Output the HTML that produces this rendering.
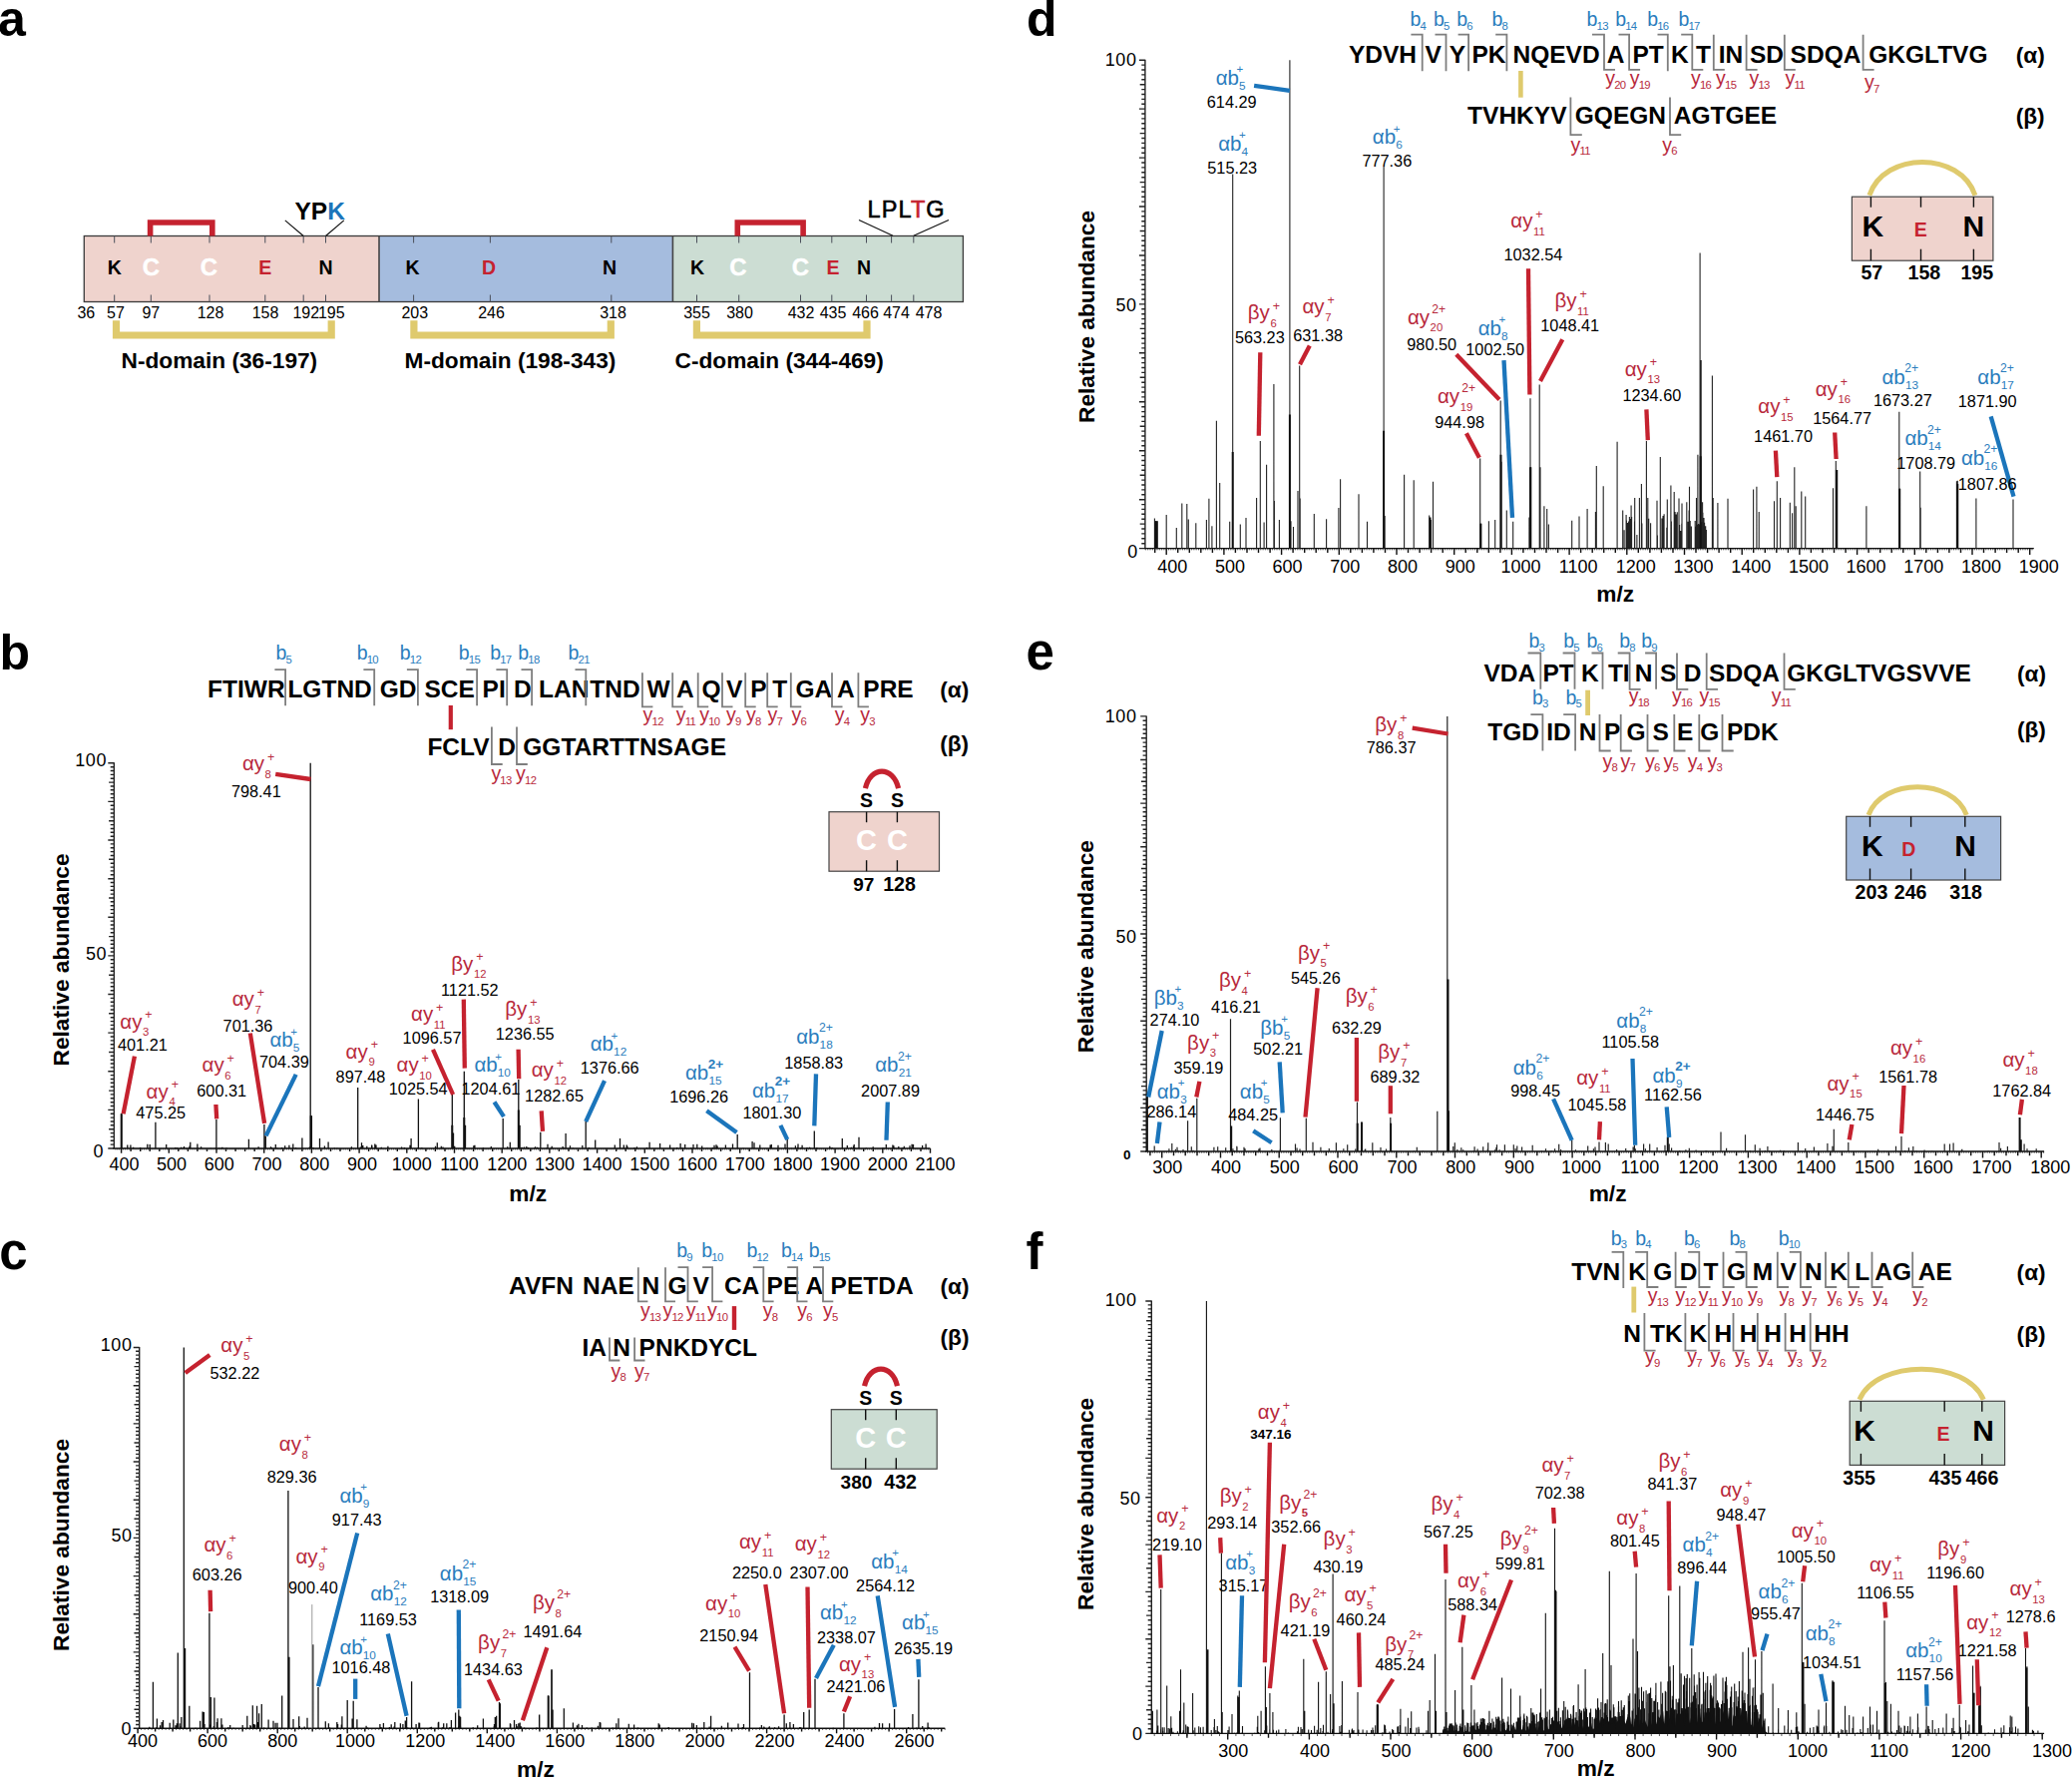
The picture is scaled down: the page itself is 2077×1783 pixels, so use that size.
<!DOCTYPE html>
<html><head><meta charset="utf-8"><title>Figure</title>
<style>html,body{margin:0;padding:0;background:#fff}svg{display:block}text{font-family:"Liberation Sans",sans-serif}</style>
</head><body>
<svg width="2077" height="1783" viewBox="0 0 2077 1783">
<rect width="2077" height="1783" fill="#fff"/>
<text x="-2" y="36.2" font-size="50" font-weight="bold">a</text>
<rect x="84.3" y="236.5" width="295.7" height="66" fill="#efd3cd"/>
<rect x="380" y="236.5" width="294.4" height="66" fill="#a5bcde"/>
<rect x="674.4" y="236.5" width="291" height="66" fill="#ccddd3"/>
<rect x="84.3" y="236.5" width="881.1" height="66" fill="none" stroke="#3a3a3a" stroke-width="1.3"/>
<line x1="380" y1="236.5" x2="380" y2="302.5" stroke="#444" stroke-width="1.6"/>
<line x1="674.4" y1="236.5" x2="674.4" y2="302.5" stroke="#444" stroke-width="1.6"/>
<path d="M114.7 236.5V243.5M114.7 295.5V302.5M151.3 236.5V243.5M151.3 295.5V302.5M210 236.5V243.5M210 295.5V302.5M265.8 236.5V243.5M265.8 295.5V302.5M304.2 236.5V243.5M304.2 295.5V302.5M326.5 236.5V243.5M326.5 295.5V302.5M414.6 236.5V243.5M414.6 295.5V302.5M491.4 236.5V243.5M491.4 295.5V302.5M612.8 236.5V243.5M612.8 295.5V302.5M698.5 236.5V243.5M698.5 295.5V302.5M740.7 236.5V243.5M740.7 295.5V302.5M802.5 236.5V243.5M802.5 295.5V302.5M833.8 236.5V243.5M833.8 295.5V302.5M868.5 236.5V243.5M868.5 295.5V302.5M893.6 236.5V243.5M893.6 295.5V302.5M915.8 236.5V243.5M915.8 295.5V302.5" stroke="#4a4f5a" stroke-width="1" fill="none"/>
<text x="86.3" y="318.8" font-size="16" text-anchor="middle">36</text>
<text x="116" y="318.8" font-size="16" text-anchor="middle">57</text>
<text x="151.3" y="318.8" font-size="16" text-anchor="middle">97</text>
<text x="211" y="318.8" font-size="16" text-anchor="middle">128</text>
<text x="266" y="318.8" font-size="16" text-anchor="middle">158</text>
<text x="306.8" y="318.8" font-size="16" text-anchor="middle">192</text>
<text x="332.3" y="318.8" font-size="16" text-anchor="middle">195</text>
<text x="415.8" y="318.8" font-size="16" text-anchor="middle">203</text>
<text x="492.5" y="318.8" font-size="16" text-anchor="middle">246</text>
<text x="614.5" y="318.8" font-size="16" text-anchor="middle">318</text>
<text x="698.5" y="318.8" font-size="16" text-anchor="middle">355</text>
<text x="741.5" y="318.8" font-size="16" text-anchor="middle">380</text>
<text x="803" y="318.8" font-size="16" text-anchor="middle">432</text>
<text x="835" y="318.8" font-size="16" text-anchor="middle">435</text>
<text x="867.5" y="318.8" font-size="16" text-anchor="middle">466</text>
<text x="898.5" y="318.8" font-size="16" text-anchor="middle">474</text>
<text x="931" y="318.8" font-size="16" text-anchor="middle">478</text>
<text x="114.7" y="275" font-size="19.5" font-weight="bold" text-anchor="middle">K</text>
<text x="265.8" y="275" font-size="19.5" font-weight="bold" fill="#c5222f" text-anchor="middle">E</text>
<text x="326.5" y="275" font-size="19.5" font-weight="bold" text-anchor="middle">N</text>
<text x="413.5" y="275" font-size="19.5" font-weight="bold" text-anchor="middle">K</text>
<text x="490" y="275" font-size="19.5" font-weight="bold" fill="#c5222f" text-anchor="middle">D</text>
<text x="611" y="275" font-size="19.5" font-weight="bold" text-anchor="middle">N</text>
<text x="699" y="275" font-size="19.5" font-weight="bold" text-anchor="middle">K</text>
<text x="835" y="275" font-size="19.5" font-weight="bold" fill="#c5222f" text-anchor="middle">E</text>
<text x="866" y="275" font-size="19.5" font-weight="bold" text-anchor="middle">N</text>
<text x="151.3" y="276.3" font-size="24" font-weight="bold" fill="#fff" text-anchor="middle" stroke="#fff" stroke-width="0.4">C</text>
<text x="209.5" y="276.3" font-size="24" font-weight="bold" fill="#fff" text-anchor="middle" stroke="#fff" stroke-width="0.4">C</text>
<text x="740" y="276.3" font-size="24" font-weight="bold" fill="#fff" text-anchor="middle" stroke="#fff" stroke-width="0.4">C</text>
<text x="802.5" y="276.3" font-size="24" font-weight="bold" fill="#fff" text-anchor="middle" stroke="#fff" stroke-width="0.4">C</text>
<path d="M150.6 236.5V223H212.8V236.5" stroke="#c5222f" stroke-width="5.6" fill="none"/>
<path d="M739.3 236.5V223H805.1V236.5" stroke="#c5222f" stroke-width="5.6" fill="none"/>
<path d="M116.5 321.3V336H332.2V321.3" stroke="#dfca6d" stroke-width="7.2" fill="none"/>
<path d="M414.9 321.3V336H612.3V321.3" stroke="#dfca6d" stroke-width="7.2" fill="none"/>
<path d="M698.4 321.3V336H869V321.3" stroke="#dfca6d" stroke-width="7.2" fill="none"/>
<text x="121.5" y="369.4" font-size="22.7" font-weight="bold">N-domain (36-197)</text>
<text x="405.5" y="369.4" font-size="22.7" font-weight="bold">M-domain (198-343)</text>
<text x="676.5" y="369.4" font-size="22.7" font-weight="bold">C-domain (344-469)</text>
<text x="295.5" y="219.6" font-size="24.5" font-weight="bold">YP<tspan fill="#1b75bb">K</tspan></text>
<line x1="285.8" y1="220.9" x2="304.2" y2="236.5" stroke="#111" stroke-width="1.2"/>
<line x1="344.8" y1="220.9" x2="326.5" y2="236.5" stroke="#111" stroke-width="1.2"/>
<text x="869.5" y="218.4" font-size="23.5" letter-spacing="1.1" stroke="#000" stroke-width="0.6">LPL<tspan fill="#c5222f" stroke="#c5222f">T</tspan>G</text>
<line x1="861" y1="220.5" x2="895" y2="236.3" stroke="#111" stroke-width="1.2"/>
<line x1="951" y1="220.5" x2="915.8" y2="236.3" stroke="#111" stroke-width="1.2"/>
<text x="-0.6" y="670.9" font-size="50" font-weight="bold">b</text>
<path d="M114.3 764.3V1151M114.3 1151H108.3M114.3 1147.1H110.7M114.3 1143.3H110.7M114.3 1139.4H110.7M114.3 1135.6H110.7M114.3 1131.7H109.1M114.3 1127.8H110.7M114.3 1124H110.7M114.3 1120.1H110.7M114.3 1116.2H110.7M114.3 1112.4H108.3M114.3 1108.5H110.7M114.3 1104.7H110.7M114.3 1100.8H110.7M114.3 1096.9H110.7M114.3 1093.1H109.1M114.3 1089.2H110.7M114.3 1085.3H110.7M114.3 1081.5H110.7M114.3 1077.6H110.7M114.3 1073.8H108.3M114.3 1069.9H110.7M114.3 1066H110.7M114.3 1062.2H110.7M114.3 1058.3H110.7M114.3 1054.5H109.1M114.3 1050.6H110.7M114.3 1046.7H110.7M114.3 1042.9H110.7M114.3 1039H110.7M114.3 1035.1H108.3M114.3 1031.3H110.7M114.3 1027.4H110.7M114.3 1023.6H110.7M114.3 1019.7H110.7M114.3 1015.8H109.1M114.3 1012H110.7M114.3 1008.1H110.7M114.3 1004.2H110.7M114.3 1000.4H110.7M114.3 996.5H108.3M114.3 992.7H110.7M114.3 988.8H110.7M114.3 984.9H110.7M114.3 981.1H110.7M114.3 977.2H109.1M114.3 973.3H110.7M114.3 969.5H110.7M114.3 965.6H110.7M114.3 961.8H110.7M114.3 957.9H108.3M114.3 954H110.7M114.3 950.2H110.7M114.3 946.3H110.7M114.3 942.5H110.7M114.3 938.6H109.1M114.3 934.7H110.7M114.3 930.9H110.7M114.3 927H110.7M114.3 923.1H110.7M114.3 919.3H108.3M114.3 915.4H110.7M114.3 911.6H110.7M114.3 907.7H110.7M114.3 903.8H110.7M114.3 900H109.1M114.3 896.1H110.7M114.3 892.2H110.7M114.3 888.4H110.7M114.3 884.5H110.7M114.3 880.7H108.3M114.3 876.8H110.7M114.3 872.9H110.7M114.3 869.1H110.7M114.3 865.2H110.7M114.3 861.3H109.1M114.3 857.5H110.7M114.3 853.6H110.7M114.3 849.8H110.7M114.3 845.9H110.7M114.3 842H108.3M114.3 838.2H110.7M114.3 834.3H110.7M114.3 830.5H110.7M114.3 826.6H110.7M114.3 822.7H109.1M114.3 818.9H110.7M114.3 815H110.7M114.3 811.1H110.7M114.3 807.3H110.7M114.3 803.4H108.3M114.3 799.6H110.7M114.3 795.7H110.7M114.3 791.8H110.7M114.3 788H110.7M114.3 784.1H109.1M114.3 780.2H110.7M114.3 776.4H110.7M114.3 772.5H110.7M114.3 768.7H110.7M114.3 764.8H108.3" stroke="#222" stroke-width="1.4" fill="none"/>
<path d="M115.9 1151V1152.5M117.8 1151V1152.5M119.7 1151V1152.5M121.6 1151V1152.5M123.5 1151V1152.5M125.4 1151V1152.5M127.3 1151V1152.5M129.2 1151V1152.5M131.1 1151V1152.5M133 1151V1152.5M135 1151V1152.5M136.9 1151V1152.5M138.8 1151V1152.5M140.7 1151V1152.5M142.6 1151V1152.5M144.5 1151V1152.5M146.4 1151V1152.5M148.3 1151V1152.5M150.2 1151V1152.5M152.1 1151V1152.5M154 1151V1152.5M155.9 1151V1152.5M157.9 1151V1152.5M159.8 1151V1152.5M161.7 1151V1152.5M163.6 1151V1152.5M165.5 1151V1152.5M167.4 1151V1152.5M169.3 1151V1152.5M171.2 1151V1152.5M173.1 1151V1152.5M175 1151V1152.5M176.9 1151V1152.5M178.8 1151V1152.5M180.7 1151V1152.5M182.7 1151V1152.5M184.6 1151V1152.5M186.5 1151V1152.5M188.4 1151V1152.5M190.3 1151V1152.5M192.2 1151V1152.5M194.1 1151V1152.5M196 1151V1152.5M197.9 1151V1152.5M199.8 1151V1152.5M201.7 1151V1152.5M203.6 1151V1152.5M205.6 1151V1152.5M207.5 1151V1152.5M209.4 1151V1152.5M211.3 1151V1152.5M213.2 1151V1152.5M215.1 1151V1152.5M217 1151V1152.5M218.9 1151V1152.5M220.8 1151V1152.5M222.7 1151V1152.5M224.6 1151V1152.5M226.5 1151V1152.5M228.4 1151V1152.5M230.4 1151V1152.5M232.3 1151V1152.5M234.2 1151V1152.5M236.1 1151V1152.5M238 1151V1152.5M239.9 1151V1152.5M241.8 1151V1152.5M243.7 1151V1152.5M245.6 1151V1152.5M247.5 1151V1152.5M249.4 1151V1152.5M251.3 1151V1152.5M253.3 1151V1152.5M255.2 1151V1152.5M257.1 1151V1152.5M259 1151V1152.5M260.9 1151V1152.5M262.8 1151V1152.5M264.7 1151V1152.5M266.6 1151V1152.5M268.5 1151V1152.5M270.4 1151V1152.5M272.3 1151V1152.5M274.2 1151V1152.5M276.1 1151V1152.5M278.1 1151V1152.5M280 1151V1152.5M281.9 1151V1152.5M283.8 1151V1152.5M285.7 1151V1152.5M287.6 1151V1152.5M289.5 1151V1152.5M291.4 1151V1152.5M293.3 1151V1152.5M295.2 1151V1152.5M297.1 1151V1152.5M299 1151V1152.5M301 1151V1152.5M302.9 1151V1152.5M304.8 1151V1152.5M306.7 1151V1152.5M308.6 1151V1152.5M310.5 1151V1152.5M312.4 1151V1152.5M314.3 1151V1152.5M316.2 1151V1152.5M318.1 1151V1152.5M320 1151V1152.5M321.9 1151V1152.5M323.8 1151V1152.5M325.8 1151V1152.5M327.7 1151V1152.5M329.6 1151V1152.5M331.5 1151V1152.5M333.4 1151V1152.5M335.3 1151V1152.5M337.2 1151V1152.5M339.1 1151V1152.5M341 1151V1152.5M342.9 1151V1152.5M344.8 1151V1152.5M346.7 1151V1152.5M348.7 1151V1152.5M350.6 1151V1152.5M352.5 1151V1152.5M354.4 1151V1152.5M356.3 1151V1152.5M358.2 1151V1152.5M360.1 1151V1152.5M362 1151V1152.5M363.9 1151V1152.5M365.8 1151V1152.5M367.7 1151V1152.5M369.6 1151V1152.5M371.5 1151V1152.5M373.5 1151V1152.5M375.4 1151V1152.5M377.3 1151V1152.5M379.2 1151V1152.5M381.1 1151V1152.5M383 1151V1152.5M384.9 1151V1152.5M386.8 1151V1152.5M388.7 1151V1152.5M390.6 1151V1152.5M392.5 1151V1152.5M394.4 1151V1152.5M396.4 1151V1152.5M398.3 1151V1152.5M400.2 1151V1152.5M402.1 1151V1152.5M404 1151V1152.5M405.9 1151V1152.5M407.8 1151V1152.5M409.7 1151V1152.5M411.6 1151V1152.5M413.5 1151V1152.5M415.4 1151V1152.5M417.3 1151V1152.5M419.2 1151V1152.5M421.2 1151V1152.5M423.1 1151V1152.5M425 1151V1152.5M426.9 1151V1152.5M428.8 1151V1152.5M430.7 1151V1152.5M432.6 1151V1152.5M434.5 1151V1152.5M436.4 1151V1152.5M438.3 1151V1152.5M440.2 1151V1152.5M442.1 1151V1152.5M444.1 1151V1152.5M446 1151V1152.5M447.9 1151V1152.5M449.8 1151V1152.5M451.7 1151V1152.5M453.6 1151V1152.5M455.5 1151V1152.5M457.4 1151V1152.5M459.3 1151V1152.5M461.2 1151V1152.5M463.1 1151V1152.5M465 1151V1152.5M466.9 1151V1152.5M468.9 1151V1152.5M470.8 1151V1152.5M472.7 1151V1152.5M474.6 1151V1152.5M476.5 1151V1152.5M478.4 1151V1152.5M480.3 1151V1152.5M482.2 1151V1152.5M484.1 1151V1152.5M486 1151V1152.5M487.9 1151V1152.5M489.8 1151V1152.5M491.8 1151V1152.5M493.7 1151V1152.5M495.6 1151V1152.5M497.5 1151V1152.5M499.4 1151V1152.5M501.3 1151V1152.5M503.2 1151V1152.5M505.1 1151V1152.5M507 1151V1152.5M508.9 1151V1152.5M510.8 1151V1152.5M512.7 1151V1152.5M514.6 1151V1152.5M516.6 1151V1152.5M518.5 1151V1152.5M520.4 1151V1152.5M522.3 1151V1152.5M524.2 1151V1152.5M526.1 1151V1152.5M528 1151V1152.5M529.9 1151V1152.5M531.8 1151V1152.5M533.7 1151V1152.5M535.6 1151V1152.5M537.5 1151V1152.5M539.5 1151V1152.5M541.4 1151V1152.5M543.3 1151V1152.5M545.2 1151V1152.5M547.1 1151V1152.5M549 1151V1152.5M550.9 1151V1152.5M552.8 1151V1152.5M554.7 1151V1152.5M556.6 1151V1152.5M558.5 1151V1152.5M560.4 1151V1152.5M562.3 1151V1152.5M564.3 1151V1152.5M566.2 1151V1152.5M568.1 1151V1152.5M570 1151V1152.5M571.9 1151V1152.5M573.8 1151V1152.5M575.7 1151V1152.5M577.6 1151V1152.5M579.5 1151V1152.5M581.4 1151V1152.5M583.3 1151V1152.5M585.2 1151V1152.5M587.2 1151V1152.5M589.1 1151V1152.5M591 1151V1152.5M592.9 1151V1152.5M594.8 1151V1152.5M596.7 1151V1152.5M598.6 1151V1152.5M600.5 1151V1152.5M602.4 1151V1152.5M604.3 1151V1152.5M606.2 1151V1152.5M608.1 1151V1152.5M610 1151V1152.5M612 1151V1152.5M613.9 1151V1152.5M615.8 1151V1152.5M617.7 1151V1152.5M619.6 1151V1152.5M621.5 1151V1152.5M623.4 1151V1152.5M625.3 1151V1152.5M627.2 1151V1152.5M629.1 1151V1152.5M631 1151V1152.5M632.9 1151V1152.5M634.9 1151V1152.5M636.8 1151V1152.5M638.7 1151V1152.5M640.6 1151V1152.5M642.5 1151V1152.5M644.4 1151V1152.5M646.3 1151V1152.5M648.2 1151V1152.5M650.1 1151V1152.5M652 1151V1152.5M653.9 1151V1152.5M655.8 1151V1152.5M657.7 1151V1152.5M659.7 1151V1152.5M661.6 1151V1152.5M663.5 1151V1152.5M665.4 1151V1152.5M667.3 1151V1152.5M669.2 1151V1152.5M671.1 1151V1152.5M673 1151V1152.5M674.9 1151V1152.5M676.8 1151V1152.5M678.7 1151V1152.5M680.6 1151V1152.5M682.6 1151V1152.5M684.5 1151V1152.5M686.4 1151V1152.5M688.3 1151V1152.5M690.2 1151V1152.5M692.1 1151V1152.5M694 1151V1152.5M695.9 1151V1152.5M697.8 1151V1152.5M699.7 1151V1152.5M701.6 1151V1152.5M703.5 1151V1152.5M705.4 1151V1152.5M707.4 1151V1152.5M709.3 1151V1152.5M711.2 1151V1152.5M713.1 1151V1152.5M715 1151V1152.5M716.9 1151V1152.5M718.8 1151V1152.5M720.7 1151V1152.5M722.6 1151V1152.5M724.5 1151V1152.5M726.4 1151V1152.5M728.3 1151V1152.5M730.3 1151V1152.5M732.2 1151V1152.5M734.1 1151V1152.5M736 1151V1152.5M737.9 1151V1152.5M739.8 1151V1152.5M741.7 1151V1152.5M743.6 1151V1152.5M745.5 1151V1152.5M747.4 1151V1152.5M749.3 1151V1152.5M751.2 1151V1152.5M753.1 1151V1152.5M755.1 1151V1152.5M757 1151V1152.5M758.9 1151V1152.5M760.8 1151V1152.5M762.7 1151V1152.5M764.6 1151V1152.5M766.5 1151V1152.5M768.4 1151V1152.5M770.3 1151V1152.5M772.2 1151V1152.5M774.1 1151V1152.5M776 1151V1152.5M778 1151V1152.5M779.9 1151V1152.5M781.8 1151V1152.5M783.7 1151V1152.5M785.6 1151V1152.5M787.5 1151V1152.5M789.4 1151V1152.5M791.3 1151V1152.5M793.2 1151V1152.5M795.1 1151V1152.5M797 1151V1152.5M798.9 1151V1152.5M800.8 1151V1152.5M802.8 1151V1152.5M804.7 1151V1152.5M806.6 1151V1152.5M808.5 1151V1152.5M810.4 1151V1152.5M812.3 1151V1152.5M814.2 1151V1152.5M816.1 1151V1152.5M818 1151V1152.5M819.9 1151V1152.5M821.8 1151V1152.5M823.7 1151V1152.5M825.7 1151V1152.5M827.6 1151V1152.5M829.5 1151V1152.5M831.4 1151V1152.5M833.3 1151V1152.5M835.2 1151V1152.5M837.1 1151V1152.5M839 1151V1152.5M840.9 1151V1152.5M842.8 1151V1152.5M844.7 1151V1152.5M846.6 1151V1152.5M848.5 1151V1152.5M850.5 1151V1152.5M852.4 1151V1152.5M854.3 1151V1152.5M856.2 1151V1152.5M858.1 1151V1152.5M860 1151V1152.5M861.9 1151V1152.5M863.8 1151V1152.5M865.7 1151V1152.5M867.6 1151V1152.5M869.5 1151V1152.5M871.4 1151V1152.5M873.4 1151V1152.5M875.3 1151V1152.5M877.2 1151V1152.5M879.1 1151V1152.5M881 1151V1152.5M882.9 1151V1152.5M884.8 1151V1152.5M886.7 1151V1152.5M888.6 1151V1152.5M890.5 1151V1152.5M892.4 1151V1152.5M894.3 1151V1152.5M896.2 1151V1152.5M898.2 1151V1152.5M900.1 1151V1152.5M902 1151V1152.5M903.9 1151V1152.5M905.8 1151V1152.5M907.7 1151V1152.5M909.6 1151V1152.5M911.5 1151V1152.5M913.4 1151V1152.5M915.3 1151V1152.5M917.2 1151V1152.5M919.1 1151V1152.5M921.1 1151V1152.5M923 1151V1152.5M924.9 1151V1152.5M926.8 1151V1152.5M928.7 1151V1152.5M930.6 1151V1152.5M932.5 1151V1152.5" stroke="#333" stroke-width="0.8" fill="none"/>
<path d="M113.3 1151H932.5M121.6 1151V1155.8M131.1 1151V1154M140.7 1151V1154M150.2 1151V1154M159.8 1151V1154M169.3 1151V1155.8M178.8 1151V1154M188.4 1151V1154M197.9 1151V1154M207.5 1151V1154M217 1151V1155.8M226.5 1151V1154M236.1 1151V1154M245.6 1151V1154M255.2 1151V1154M264.7 1151V1155.8M274.2 1151V1154M283.8 1151V1154M293.3 1151V1154M302.9 1151V1154M312.4 1151V1155.8M321.9 1151V1154M331.5 1151V1154M341 1151V1154M350.6 1151V1154M360.1 1151V1155.8M369.6 1151V1154M379.2 1151V1154M388.7 1151V1154M398.3 1151V1154M407.8 1151V1155.8M417.3 1151V1154M426.9 1151V1154M436.4 1151V1154M446 1151V1154M455.5 1151V1155.8M465 1151V1154M474.6 1151V1154M484.1 1151V1154M493.7 1151V1154M503.2 1151V1155.8M512.7 1151V1154M522.3 1151V1154M531.8 1151V1154M541.4 1151V1154M550.9 1151V1155.8M560.4 1151V1154M570 1151V1154M579.5 1151V1154M589.1 1151V1154M598.6 1151V1155.8M608.1 1151V1154M617.7 1151V1154M627.2 1151V1154M636.8 1151V1154M646.3 1151V1155.8M655.8 1151V1154M665.4 1151V1154M674.9 1151V1154M684.5 1151V1154M694 1151V1155.8M703.5 1151V1154M713.1 1151V1154M722.6 1151V1154M732.2 1151V1154M741.7 1151V1155.8M751.2 1151V1154M760.8 1151V1154M770.3 1151V1154M779.9 1151V1154M789.4 1151V1155.8M798.9 1151V1154M808.5 1151V1154M818 1151V1154M827.6 1151V1154M837.1 1151V1155.8M846.6 1151V1154M856.2 1151V1154M865.7 1151V1154M875.3 1151V1154M884.8 1151V1155.8M894.3 1151V1154M903.9 1151V1154M913.4 1151V1154M923 1151V1154M932.5 1151V1155.8" stroke="#111" stroke-width="1.4" fill="none"/>
<text x="124.4" y="1172.8" font-size="18" text-anchor="middle">400</text>
<text x="172.1" y="1172.8" font-size="18" text-anchor="middle">500</text>
<text x="219.8" y="1172.8" font-size="18" text-anchor="middle">600</text>
<text x="267.5" y="1172.8" font-size="18" text-anchor="middle">700</text>
<text x="315.2" y="1172.8" font-size="18" text-anchor="middle">800</text>
<text x="362.9" y="1172.8" font-size="18" text-anchor="middle">900</text>
<text x="412.8" y="1172.8" font-size="18" text-anchor="middle">1000</text>
<text x="460.5" y="1172.8" font-size="18" text-anchor="middle">1100</text>
<text x="508.2" y="1172.8" font-size="18" text-anchor="middle">1200</text>
<text x="555.9" y="1172.8" font-size="18" text-anchor="middle">1300</text>
<text x="603.6" y="1172.8" font-size="18" text-anchor="middle">1400</text>
<text x="651.3" y="1172.8" font-size="18" text-anchor="middle">1500</text>
<text x="699" y="1172.8" font-size="18" text-anchor="middle">1600</text>
<text x="746.7" y="1172.8" font-size="18" text-anchor="middle">1700</text>
<text x="794.4" y="1172.8" font-size="18" text-anchor="middle">1800</text>
<text x="842.1" y="1172.8" font-size="18" text-anchor="middle">1900</text>
<text x="889.8" y="1172.8" font-size="18" text-anchor="middle">2000</text>
<text x="937.5" y="1172.8" font-size="18" text-anchor="middle">2100</text>
<text x="107.3" y="768" font-size="18" text-anchor="end" letter-spacing="0.7">100</text>
<text x="107.3" y="961.6" font-size="18" text-anchor="end" letter-spacing="0.7">50</text>
<text x="103.5" y="1160.3" font-size="18" text-anchor="end">0</text>
<text transform="translate(69,1068.5) rotate(-90)" font-size="22.7" font-weight="bold">Relative abundance</text>
<text x="510.3" y="1203.6" font-size="22.7" font-weight="bold">m/z</text>
<path d="M311.2 1151V764.8M121.7 1151V1116.2M155.9 1151V1124.7M216.9 1151V1122M264.9 1151V1127.1M266.3 1151V1138.6M358.7 1151V1090M412.1 1151V1141M419.4 1151V1101.6M438.3 1151V1145.2M453.3 1151V1095.4M454.5 1151V1135.6M465.3 1151V1073.8M466.5 1151V1127.8M504.2 1151V1120.9M511.3 1151V1144.8M519.8 1151V1081.9M521.1 1151V1127.8M541.8 1151V1134.8M567.1 1151V1135.9M587.2 1151V1124M596.7 1151V1142.5M621.5 1151V1141M628.2 1151V1147.5M651.1 1151V1144.8M661.6 1151V1146M698.8 1151V1146.8M739.2 1151V1137.1M754.1 1151V1144M756 1151V1145.2M789.2 1151V1142.1M787 1151V1146.4M816.3 1151V1133.6M844.3 1151V1141M861 1151V1139.8M856.2 1151V1147.1M888.3 1151V1147.1M912 1151V1148.3M190.8 1151V1144.8M249.4 1151V1141.7M302.9 1151V1140.6M312.4 1151V1118.2M320.5 1151V1141M329.1 1151V1144.4M127.8 1151V1147.5M147.8 1151V1146.8M150.2 1151V1147.1M362.5 1151V1145.2M549 1151V1146.8M727.4 1151V1147.5M734.5 1151V1146.4M682.1 1151V1146M484.4 1151V1150.2M868.3 1151V1150.5M529.5 1151V1150.1M266.6 1151V1150.4M628.8 1151V1148.8M192.9 1151V1150.9M190.1 1151V1148.6M680.6 1151V1151M915.5 1151V1147M648.4 1151V1150M244.5 1151V1151M546.2 1151V1151M271.1 1151V1150.9M140.8 1151V1150.6M474.8 1151V1148.3M538.7 1151V1149.8M523 1151V1149.7M488.4 1151V1150.9M928.1 1151V1146.6M800 1151V1149.4M372.8 1151V1150.9M351.5 1151V1151M739.8 1151V1150.7M805.2 1151V1150.7M895.9 1151V1148.3M116.7 1151V1151M857 1151V1150.5M914 1151V1150.7M175.7 1151V1149.9M749.8 1151V1150.9M187.2 1151V1150.8M900.8 1151V1149M212.3 1151V1150.9M198.5 1151V1151M764.8 1151V1151M571.4 1151V1150.6M271.5 1151V1149.2M222.9 1151V1149.8M211.1 1151V1150.7M289.5 1151V1150.9M906.3 1151V1148.7M363.8 1151V1147.9M287.8 1151V1150.7M811.5 1151V1149.8M197.9 1151V1146.6M289.8 1151V1150.9M745 1151V1150.8M357.4 1151V1151M189.6 1151V1150.1M314 1151V1150M418.8 1151V1150.6M896.7 1151V1150.5M583.8 1151V1148.1M265.1 1151V1151M855.5 1151V1148.5M319.3 1151V1151M718 1151V1147.3M276.3 1151V1147.1M834.1 1151V1150M459.2 1151V1151M147.8 1151V1147M310.3 1151V1149.4M325.4 1151V1148.5M601.6 1151V1150.9M259.1 1151V1149.3M172.3 1151V1150.9M571.5 1151V1148.2M616.2 1151V1150.9M862.8 1151V1151M129.8 1151V1150.9M479 1151V1151M259.7 1151V1150.8M581.9 1151V1151M411 1151V1147.8M914.1 1151V1149.7M678.7 1151V1150.1M230.5 1151V1151M130.9 1151V1147.6M686.7 1151V1147M133.6 1151V1149.8M508.7 1151V1149.2M375.8 1151V1146.5M177.5 1151V1150.3M716 1151V1147.7M716.1 1151V1149.4M761.8 1151V1147.6M402.6 1151V1149.6M849.3 1151V1148M455.7 1151V1148.8M818.9 1151V1150.2M624.8 1151V1150.7M590.4 1151V1150M181.6 1151V1149.8M924.6 1151V1147.9M708.8 1151V1150.7M714.4 1151V1150.1M474.8 1151V1148.3M184.5 1151V1149.1M140.5 1151V1150M507.7 1151V1150.9M684.5 1151V1150.4M616.3 1151V1147.5M324.5 1151V1151M361.3 1151V1149.6M281.1 1151V1151M853.3 1151V1149.7M475.9 1151V1147.8M382.3 1151V1149.7M277.8 1151V1150.6M772.1 1151V1147.6M832.6 1151V1150.7M590.8 1151V1150.9M227.1 1151V1150.4M797.4 1151V1148.2M695 1151V1147.1M341.5 1151V1151M483 1151V1150.9M290.5 1151V1150.7M625.5 1151V1150.5M372.9 1151V1148.3M915.4 1151V1150.6M177.1 1151V1151M826.5 1151V1151M692.9 1151V1150.2M367.8 1151V1148.8M131.9 1151V1151M486.4 1151V1151M791.4 1151V1150.9M230.9 1151V1151M628.3 1151V1150.6M628.9 1151V1149.7M773.3 1151V1147M673.3 1151V1151M502.9 1151V1151M125.1 1151V1150.5M697.4 1151V1151M337.9 1151V1150.8M683.7 1151V1150.4M616.3 1151V1149.1M436.5 1151V1148.8M853.7 1151V1151M875.2 1151V1149.3M222 1151V1150.6M625.3 1151V1147.6M422.9 1151V1150.2M831.8 1151V1148.7M884.6 1151V1150.6M646.3 1151V1151M703.7 1151V1148.5M638.4 1151V1149.3M289.9 1151V1147.7M914.1 1151V1146.8M553.2 1151V1148.8M377 1151V1147.6M812.7 1151V1150.8M183.7 1151V1150.6M564.1 1151V1149M512.9 1151V1151M774.7 1151V1151M767.1 1151V1151M388.9 1151V1148.8M230.6 1151V1151M536.6 1151V1149.3M799.8 1151V1149.5M885.9 1151V1150.5M888.6 1151V1151M296.5 1151V1150.3M352.4 1151V1149.3M636.1 1151V1150.4M802.8 1151V1150.2M369.9 1151V1150.8M804.1 1151V1147.7M285.7 1151V1148.2M904.3 1151V1150.4M582.5 1151V1151M552.4 1151V1150.4M608.8 1151V1151M905.1 1151V1150.4M442.3 1151V1148.7M574.3 1151V1150.5M678.6 1151V1151M554.7 1151V1150.7M894.9 1151V1147.5M335.4 1151V1150.5M219.6 1151V1150.6M780 1151V1147.7M504.1 1151V1150.9M272.1 1151V1149.9M869.2 1151V1151M750.4 1151V1151M274.2 1151V1150.9M675.3 1151V1150.8M405.4 1151V1149.9M201.6 1151V1149.2M216.2 1151V1150.4M320.2 1151V1151M547.8 1151V1150.6M422 1151V1150.7M547 1151V1151M282.5 1151V1149.9M635.8 1151V1150.3M809 1151V1150M813.4 1151V1150.9M719.1 1151V1148.6M850.8 1151V1150.9M372.6 1151V1147.5M293.8 1151V1146.5M838.5 1151V1151M311.1 1151V1149.3M327.5 1151V1151M793.4 1151V1150.7M759.1 1151V1151M444 1151V1149.6M130.8 1151V1151M671.6 1151V1147.6M904.3 1151V1151M527.8 1151V1149M525.4 1151V1149.5M270.1 1151V1151M202.7 1151V1151M565.2 1151V1150.4M579.1 1151V1151M266.5 1151V1151M800 1151V1146.6M870.5 1151V1151M166.7 1151V1147.1M492.3 1151V1149M382.2 1151V1150.5M535.6 1151V1150.6M605.3 1151V1151" stroke="#111" stroke-width="1.3" fill="none"/>
<path d="M121.7 1151V1116.2M311.7 1151V1118.2M519.8 1151V1112.4M465.3 1151V1120.1M453.3 1151V1127.8" stroke="#111" stroke-width="2" fill="none"/>
<text x="120.3" y="1030.5" font-size="20.5" fill="#b8293c">αy</text>
<text x="143" y="1038.1" font-size="11.3" fill="#b8293c">3</text>
<text x="145.3" y="1021.1" font-size="12.5" fill="#b8293c">+</text>
<text x="118" y="1053" font-size="16.3">401.21</text>
<line x1="134.9" y1="1058.6" x2="123.6" y2="1116.3" stroke="#c5222f" stroke-width="4.3"/>
<text x="146.6" y="1100.8" font-size="20.5" fill="#b8293c">αy</text>
<text x="169.4" y="1108.4" font-size="11.3" fill="#b8293c">4</text>
<text x="171.7" y="1091.4" font-size="12.5" fill="#b8293c">+</text>
<text x="136.3" y="1121.2" font-size="16.3">475.25</text>
<text x="202.6" y="1074.4" font-size="20.5" fill="#b8293c">αy</text>
<text x="225.3" y="1082" font-size="11.3" fill="#b8293c">6</text>
<text x="227.6" y="1065" font-size="12.5" fill="#b8293c">+</text>
<text x="197.3" y="1098.6" font-size="16.3">600.31</text>
<line x1="216.4" y1="1107" x2="217.2" y2="1121.3" stroke="#c5222f" stroke-width="4.3"/>
<text x="232.7" y="1008.4" font-size="20.5" fill="#b8293c">αy</text>
<text x="255.4" y="1016" font-size="11.3" fill="#b8293c">7</text>
<text x="257.7" y="999" font-size="12.5" fill="#b8293c">+</text>
<text x="223.6" y="1033.9" font-size="16.3">701.36</text>
<line x1="250.8" y1="1035.5" x2="265.1" y2="1125.8" stroke="#c5222f" stroke-width="4.3"/>
<text x="270.4" y="1049.3" font-size="20.5" fill="#2b7dbd">αb</text>
<text x="293.8" y="1054.3" font-size="11.8" fill="#2b7dbd">5</text>
<text x="291.3" y="1037.8" font-size="11.5" fill="#2b7dbd">+</text>
<text x="260" y="1069.8" font-size="16.3">704.39</text>
<line x1="296.7" y1="1076.9" x2="266.6" y2="1138.4" stroke="#1b75bb" stroke-width="4.3"/>
<text x="346.6" y="1060.6" font-size="20.5" fill="#b8293c">αy</text>
<text x="369.4" y="1068.2" font-size="11.3" fill="#b8293c">9</text>
<text x="371.7" y="1051.2" font-size="12.5" fill="#b8293c">+</text>
<text x="336.6" y="1084.8" font-size="16.3">897.48</text>
<text x="397.6" y="1074.4" font-size="20.5" fill="#b8293c">αy</text>
<text x="420.3" y="1082" font-size="11.3" fill="#b8293c">10</text>
<text x="422.6" y="1065" font-size="12.5" fill="#b8293c">+</text>
<text x="389.8" y="1097.4" font-size="16.3">1025.54</text>
<text x="412.1" y="1023" font-size="20.5" fill="#b8293c">αy</text>
<text x="434.8" y="1030.6" font-size="11.3" fill="#b8293c">11</text>
<text x="437.1" y="1013.6" font-size="12.5" fill="#b8293c">+</text>
<text x="403.6" y="1045.9" font-size="16.3">1096.57</text>
<line x1="434" y1="1051.8" x2="454.1" y2="1097" stroke="#c5222f" stroke-width="4.3"/>
<text x="452.3" y="972.8" font-size="20.5" fill="#b8293c">βy</text>
<text x="474.9" y="980.4" font-size="11.3" fill="#b8293c">12</text>
<text x="477.2" y="963.4" font-size="12.5" fill="#b8293c">+</text>
<text x="442" y="997.8" font-size="16.3">1121.52</text>
<line x1="464.8" y1="1001.6" x2="465.8" y2="1070.6" stroke="#c5222f" stroke-width="4.3"/>
<text x="475.4" y="1074.4" font-size="20.5" fill="#2b7dbd">αb</text>
<text x="498.8" y="1079.4" font-size="11.8" fill="#2b7dbd">10</text>
<text x="496.3" y="1062.9" font-size="11.5" fill="#2b7dbd">+</text>
<text x="462.5" y="1097.4" font-size="16.3">1204.61</text>
<line x1="495.5" y1="1104.5" x2="505" y2="1119.1" stroke="#1b75bb" stroke-width="4.3"/>
<text x="506.3" y="1018.4" font-size="20.5" fill="#b8293c">βy</text>
<text x="529" y="1026" font-size="11.3" fill="#b8293c">13</text>
<text x="531.3" y="1009" font-size="12.5" fill="#b8293c">+</text>
<text x="496.8" y="1042.2" font-size="16.3">1236.55</text>
<line x1="519.6" y1="1051.8" x2="520.2" y2="1081.2" stroke="#c5222f" stroke-width="4.3"/>
<text x="532.7" y="1079.4" font-size="20.5" fill="#b8293c">αy</text>
<text x="555.4" y="1087" font-size="11.3" fill="#b8293c">12</text>
<text x="557.7" y="1070" font-size="12.5" fill="#b8293c">+</text>
<text x="526.1" y="1103.7" font-size="16.3">1282.65</text>
<line x1="542.7" y1="1113.3" x2="544" y2="1133.9" stroke="#c5222f" stroke-width="4.3"/>
<text x="591.7" y="1053.1" font-size="20.5" fill="#2b7dbd">αb</text>
<text x="615.1" y="1058.1" font-size="11.8" fill="#2b7dbd">12</text>
<text x="612.6" y="1041.6" font-size="11.5" fill="#2b7dbd">+</text>
<text x="581.8" y="1075.6" font-size="16.3">1376.66</text>
<line x1="606" y1="1083.2" x2="587.2" y2="1124.1" stroke="#1b75bb" stroke-width="4.3"/>
<text x="687" y="1081.9" font-size="20.5" fill="#2b7dbd">αb</text>
<text x="710.5" y="1086.9" font-size="11.8" fill="#2b7dbd">15</text>
<text x="709.8" y="1070.5" font-size="13.5" font-weight="bold" fill="#2b7dbd">2+</text>
<text x="671.2" y="1104.9" font-size="16.3">1696.26</text>
<line x1="708.4" y1="1113.3" x2="738.5" y2="1135.1" stroke="#1b75bb" stroke-width="4.3"/>
<text x="754" y="1099.5" font-size="20.5" fill="#2b7dbd">αb</text>
<text x="777.5" y="1104.5" font-size="11.8" fill="#2b7dbd">17</text>
<text x="776.8" y="1088.1" font-size="13.5" font-weight="bold" fill="#2b7dbd">2+</text>
<text x="744.4" y="1121.2" font-size="16.3">1801.30</text>
<line x1="782.4" y1="1127.9" x2="789.2" y2="1142.2" stroke="#1b75bb" stroke-width="4.3"/>
<text x="798.2" y="1045.5" font-size="20.5" fill="#2b7dbd">αb</text>
<text x="821.6" y="1050.5" font-size="11.8" fill="#2b7dbd">18</text>
<text x="820.9" y="1034.1" font-size="12.2" fill="#2b7dbd">2+</text>
<text x="786.3" y="1071" font-size="16.3">1858.83</text>
<line x1="818" y1="1076.4" x2="816.3" y2="1128.4" stroke="#1b75bb" stroke-width="4.3"/>
<text x="877.2" y="1074.4" font-size="20.5" fill="#2b7dbd">αb</text>
<text x="900.7" y="1079.4" font-size="11.8" fill="#2b7dbd">21</text>
<text x="900" y="1063" font-size="12.2" fill="#2b7dbd">2+</text>
<text x="863.1" y="1098.6" font-size="16.3">2007.89</text>
<line x1="889.8" y1="1104.5" x2="888.5" y2="1142.7" stroke="#1b75bb" stroke-width="4.3"/>
<text x="242.9" y="772" font-size="20.5" fill="#b8293c">αy</text>
<text x="265.6" y="779.6" font-size="11.3" fill="#b8293c">8</text>
<text x="267.9" y="762.6" font-size="12.5" fill="#b8293c">+</text>
<text x="231.9" y="798.5" font-size="16.3">798.41</text>
<line x1="276.2" y1="775.9" x2="311.4" y2="781" stroke="#c5222f" stroke-width="4.3"/>
<text x="208.1" y="699" font-size="24.5" font-weight="bold">FTIWR</text>
<text x="288.4" y="699" font-size="24.5" font-weight="bold">LGTND</text>
<text x="380.8" y="699" font-size="24.5" font-weight="bold">GD</text>
<text x="425.4" y="699" font-size="24.5" font-weight="bold">SCE</text>
<text x="483.6" y="699" font-size="24.5" font-weight="bold">PI</text>
<text x="515" y="699" font-size="24.5" font-weight="bold">D</text>
<text x="540.1" y="699" font-size="24.5" font-weight="bold">LAN</text>
<text x="591.3" y="699" font-size="24.5" font-weight="bold">TND</text>
<text x="648.5" y="699" font-size="24.5" font-weight="bold">W</text>
<text x="678.1" y="699" font-size="24.5" font-weight="bold">A</text>
<text x="703.6" y="699" font-size="24.5" font-weight="bold">Q</text>
<text x="727.9" y="699" font-size="24.5" font-weight="bold">V</text>
<text x="752.3" y="699" font-size="24.5" font-weight="bold">P</text>
<text x="774.3" y="699" font-size="24.5" font-weight="bold">T</text>
<text x="797.4" y="699" font-size="24.5" font-weight="bold">GA</text>
<text x="839.1" y="699" font-size="24.5" font-weight="bold">A</text>
<text x="865.3" y="699" font-size="24.5" font-weight="bold">PRE</text>
<path d="M275.4 671.2H286.1V707.3" stroke="#7e7e7e" stroke-width="1.8" fill="none"/>
<path d="M364.4 671.2H375.2V707.3" stroke="#7e7e7e" stroke-width="1.8" fill="none"/>
<path d="M407.9 671.2H418.9V707.3" stroke="#7e7e7e" stroke-width="1.8" fill="none"/>
<path d="M467.3 671.2H478.1V707.3" stroke="#7e7e7e" stroke-width="1.8" fill="none"/>
<path d="M497.4 671.2H508.2V707.3" stroke="#7e7e7e" stroke-width="1.8" fill="none"/>
<path d="M522.5 671.2H533.1V707.3" stroke="#7e7e7e" stroke-width="1.8" fill="none"/>
<path d="M576.5 671.2H587.3V707.3" stroke="#7e7e7e" stroke-width="1.8" fill="none"/>
<path d="M643.9 674.2V708.3H654.4" stroke="#7e7e7e" stroke-width="1.8" fill="none"/>
<path d="M674.2 674.2V708.3H684.7" stroke="#7e7e7e" stroke-width="1.8" fill="none"/>
<path d="M699.7 674.2V708.3H710.2" stroke="#7e7e7e" stroke-width="1.8" fill="none"/>
<path d="M724 674.2V708.3H734.5" stroke="#7e7e7e" stroke-width="1.8" fill="none"/>
<path d="M747.2 674.2V708.3H757.7" stroke="#7e7e7e" stroke-width="1.8" fill="none"/>
<path d="M769.2 674.2V708.3H779.7" stroke="#7e7e7e" stroke-width="1.8" fill="none"/>
<path d="M792.8 674.2V708.3H803.3" stroke="#7e7e7e" stroke-width="1.8" fill="none"/>
<path d="M834 674.2V708.3H844.5" stroke="#7e7e7e" stroke-width="1.8" fill="none"/>
<path d="M860.4 674.2V708.3H870.9" stroke="#7e7e7e" stroke-width="1.8" fill="none"/>
<text x="276.6" y="661.4" font-size="19.5" fill="#2b7dbd">b</text>
<text x="286.6" y="665" font-size="11.3" fill="#2b7dbd" letter-spacing="-0.6">5</text>
<text x="357.7" y="661.4" font-size="19.5" fill="#2b7dbd">b</text>
<text x="367.7" y="665" font-size="11.3" fill="#2b7dbd" letter-spacing="-0.6">10</text>
<text x="400.8" y="661.4" font-size="19.5" fill="#2b7dbd">b</text>
<text x="410.8" y="665" font-size="11.3" fill="#2b7dbd" letter-spacing="-0.6">12</text>
<text x="459.8" y="661.4" font-size="19.5" fill="#2b7dbd">b</text>
<text x="469.8" y="665" font-size="11.3" fill="#2b7dbd" letter-spacing="-0.6">15</text>
<text x="491.2" y="661.4" font-size="19.5" fill="#2b7dbd">b</text>
<text x="501.2" y="665" font-size="11.3" fill="#2b7dbd" letter-spacing="-0.6">17</text>
<text x="519.3" y="661.4" font-size="19.5" fill="#2b7dbd">b</text>
<text x="529.3" y="665" font-size="11.3" fill="#2b7dbd" letter-spacing="-0.6">18</text>
<text x="569.5" y="661.4" font-size="19.5" fill="#2b7dbd">b</text>
<text x="579.5" y="665" font-size="11.3" fill="#2b7dbd" letter-spacing="-0.6">21</text>
<text x="644.6" y="723.3" font-size="19.5" fill="#b8293c">y</text>
<text x="653.6" y="726.9" font-size="11.3" fill="#b8293c" letter-spacing="-0.6">12</text>
<text x="677.7" y="723.3" font-size="19.5" fill="#b8293c">y</text>
<text x="686.7" y="726.9" font-size="11.3" fill="#b8293c" letter-spacing="-0.6">11</text>
<text x="701.3" y="723.3" font-size="19.5" fill="#b8293c">y</text>
<text x="710.2" y="726.9" font-size="11.3" fill="#b8293c" letter-spacing="-0.6">10</text>
<text x="728" y="723.3" font-size="19.5" fill="#b8293c">y</text>
<text x="737" y="726.9" font-size="11.3" fill="#b8293c" letter-spacing="-0.6">9</text>
<text x="748" y="723.3" font-size="19.5" fill="#b8293c">y</text>
<text x="757" y="726.9" font-size="11.3" fill="#b8293c" letter-spacing="-0.6">8</text>
<text x="769.6" y="723.3" font-size="19.5" fill="#b8293c">y</text>
<text x="778.6" y="726.9" font-size="11.3" fill="#b8293c" letter-spacing="-0.6">7</text>
<text x="793.5" y="723.3" font-size="19.5" fill="#b8293c">y</text>
<text x="802.5" y="726.9" font-size="11.3" fill="#b8293c" letter-spacing="-0.6">6</text>
<text x="836.8" y="723.3" font-size="19.5" fill="#b8293c">y</text>
<text x="845.8" y="726.9" font-size="11.3" fill="#b8293c" letter-spacing="-0.6">4</text>
<text x="862.3" y="723.3" font-size="19.5" fill="#b8293c">y</text>
<text x="871.2" y="726.9" font-size="11.3" fill="#b8293c" letter-spacing="-0.6">3</text>
<line x1="451.8" y1="707" x2="451.8" y2="731.2" stroke="#c5222f" stroke-width="4.2"/>
<text x="428.4" y="756.8" font-size="24.5" font-weight="bold">FCLV</text>
<text x="499.2" y="756.8" font-size="24.5" font-weight="bold">D</text>
<text x="524.3" y="756.8" font-size="24.5" font-weight="bold">GGTARTTNSAGE</text>
<path d="M492.9 728.4V766H503.7" stroke="#7e7e7e" stroke-width="1.8" fill="none"/>
<path d="M518 728.4V766H528.8" stroke="#7e7e7e" stroke-width="1.8" fill="none"/>
<text x="492.4" y="781.9" font-size="19.5" fill="#b8293c">y</text>
<text x="501.3" y="785.5" font-size="11.3" fill="#b8293c" letter-spacing="-0.6">13</text>
<text x="517" y="781.9" font-size="19.5" fill="#b8293c">y</text>
<text x="526" y="785.5" font-size="11.3" fill="#b8293c" letter-spacing="-0.6">12</text>
<text x="942.2" y="698.8" font-size="22.7" font-weight="bold">(α)</text>
<text x="942.2" y="753.2" font-size="22.7" font-weight="bold">(β)</text>
<rect x="831" y="813.7" width="110.5" height="59.5" fill="#efd3cd" stroke="#444" stroke-width="1.2"/>
<line x1="868.6" y1="813.7" x2="868.6" y2="824.2" stroke="#111" stroke-width="1.4"/>
<line x1="868.6" y1="862.2" x2="868.6" y2="873.2" stroke="#111" stroke-width="1.4"/>
<line x1="899.4" y1="813.7" x2="899.4" y2="824.2" stroke="#111" stroke-width="1.4"/>
<line x1="899.4" y1="862.2" x2="899.4" y2="873.2" stroke="#111" stroke-width="1.4"/>
<text x="868.6" y="851.7" font-size="29" font-weight="bold" fill="#fff" text-anchor="middle">C</text>
<text x="868.6" y="808.9" font-size="19.5" font-weight="bold" text-anchor="middle">S</text>
<text x="899.4" y="851.7" font-size="29" font-weight="bold" fill="#fff" text-anchor="middle">C</text>
<text x="899.4" y="808.9" font-size="19.5" font-weight="bold" text-anchor="middle">S</text>
<path d="M867.4 790.2C872.6 767.4 895.4 767.4 900.6 790.2" stroke="#c5222f" stroke-width="5.2" fill="none"/>
<text x="855.3" y="893.3" font-size="19" font-weight="bold">97</text>
<text x="885.2" y="893.3" font-size="19.6" font-weight="bold">128</text>
<text x="-0.8" y="1272" font-size="51" font-weight="bold">c</text>
<path d="M139.7 1350V1732.3M139.7 1732.3H133.7M139.7 1728.5H136.1M139.7 1724.7H136.1M139.7 1720.8H136.1M139.7 1717H136.1M139.7 1713.2H134.5M139.7 1709.4H136.1M139.7 1705.6H136.1M139.7 1701.8H136.1M139.7 1697.9H136.1M139.7 1694.1H133.7M139.7 1690.3H136.1M139.7 1686.5H136.1M139.7 1682.7H136.1M139.7 1678.8H136.1M139.7 1675H134.5M139.7 1671.2H136.1M139.7 1667.4H136.1M139.7 1663.6H136.1M139.7 1659.8H136.1M139.7 1655.9H133.7M139.7 1652.1H136.1M139.7 1648.3H136.1M139.7 1644.5H136.1M139.7 1640.7H136.1M139.7 1636.8H134.5M139.7 1633H136.1M139.7 1629.2H136.1M139.7 1625.4H136.1M139.7 1621.6H136.1M139.7 1617.8H133.7M139.7 1613.9H136.1M139.7 1610.1H136.1M139.7 1606.3H136.1M139.7 1602.5H136.1M139.7 1598.7H134.5M139.7 1594.9H136.1M139.7 1591H136.1M139.7 1587.2H136.1M139.7 1583.4H136.1M139.7 1579.6H133.7M139.7 1575.8H136.1M139.7 1571.9H136.1M139.7 1568.1H136.1M139.7 1564.3H136.1M139.7 1560.5H134.5M139.7 1556.7H136.1M139.7 1552.9H136.1M139.7 1549H136.1M139.7 1545.2H136.1M139.7 1541.4H133.7M139.7 1537.6H136.1M139.7 1533.8H136.1M139.7 1529.9H136.1M139.7 1526.1H136.1M139.7 1522.3H134.5M139.7 1518.5H136.1M139.7 1514.7H136.1M139.7 1510.9H136.1M139.7 1507H136.1M139.7 1503.2H133.7M139.7 1499.4H136.1M139.7 1495.6H136.1M139.7 1491.8H136.1M139.7 1487.9H136.1M139.7 1484.1H134.5M139.7 1480.3H136.1M139.7 1476.5H136.1M139.7 1472.7H136.1M139.7 1468.9H136.1M139.7 1465H133.7M139.7 1461.2H136.1M139.7 1457.4H136.1M139.7 1453.6H136.1M139.7 1449.8H136.1M139.7 1446H134.5M139.7 1442.1H136.1M139.7 1438.3H136.1M139.7 1434.5H136.1M139.7 1430.7H136.1M139.7 1426.9H133.7M139.7 1423H136.1M139.7 1419.2H136.1M139.7 1415.4H136.1M139.7 1411.6H136.1M139.7 1407.8H134.5M139.7 1404H136.1M139.7 1400.1H136.1M139.7 1396.3H136.1M139.7 1392.5H136.1M139.7 1388.7H133.7M139.7 1384.9H136.1M139.7 1381H136.1M139.7 1377.2H136.1M139.7 1373.4H136.1M139.7 1369.6H134.5M139.7 1365.8H136.1M139.7 1362H136.1M139.7 1358.1H136.1M139.7 1354.3H136.1M139.7 1350.5H133.7" stroke="#222" stroke-width="1.4" fill="none"/>
<path d="M138.1 1732.3V1733.9M141.6 1732.3V1733.9M145.1 1732.3V1733.9M148.6 1732.3V1733.9M152.1 1732.3V1733.9M155.6 1732.3V1733.9M159.1 1732.3V1733.9M162.6 1732.3V1733.9M166.1 1732.3V1733.9M169.6 1732.3V1733.9M173.1 1732.3V1733.9M176.6 1732.3V1733.9M180.1 1732.3V1733.9M183.6 1732.3V1733.9M187.1 1732.3V1733.9M190.6 1732.3V1733.9M194.1 1732.3V1733.9M197.6 1732.3V1733.9M201.1 1732.3V1733.9M204.6 1732.3V1733.9M208.1 1732.3V1733.9M211.7 1732.3V1733.9M215.2 1732.3V1733.9M218.7 1732.3V1733.9M222.2 1732.3V1733.9M225.7 1732.3V1733.9M229.2 1732.3V1733.9M232.7 1732.3V1733.9M236.2 1732.3V1733.9M239.7 1732.3V1733.9M243.2 1732.3V1733.9M246.7 1732.3V1733.9M250.2 1732.3V1733.9M253.7 1732.3V1733.9M257.2 1732.3V1733.9M260.7 1732.3V1733.9M264.2 1732.3V1733.9M267.7 1732.3V1733.9M271.2 1732.3V1733.9M274.7 1732.3V1733.9M278.2 1732.3V1733.9M281.7 1732.3V1733.9M285.2 1732.3V1733.9M288.7 1732.3V1733.9M292.2 1732.3V1733.9M295.7 1732.3V1733.9M299.2 1732.3V1733.9M302.7 1732.3V1733.9M306.2 1732.3V1733.9M309.7 1732.3V1733.9M313.2 1732.3V1733.9M316.7 1732.3V1733.9M320.2 1732.3V1733.9M323.7 1732.3V1733.9M327.2 1732.3V1733.9M330.7 1732.3V1733.9M334.2 1732.3V1733.9M337.7 1732.3V1733.9M341.2 1732.3V1733.9M344.7 1732.3V1733.9M348.2 1732.3V1733.9M351.8 1732.3V1733.9M355.3 1732.3V1733.9M358.8 1732.3V1733.9M362.3 1732.3V1733.9M365.8 1732.3V1733.9M369.3 1732.3V1733.9M372.8 1732.3V1733.9M376.3 1732.3V1733.9M379.8 1732.3V1733.9M383.3 1732.3V1733.9M386.8 1732.3V1733.9M390.3 1732.3V1733.9M393.8 1732.3V1733.9M397.3 1732.3V1733.9M400.8 1732.3V1733.9M404.3 1732.3V1733.9M407.8 1732.3V1733.9M411.3 1732.3V1733.9M414.8 1732.3V1733.9M418.3 1732.3V1733.9M421.8 1732.3V1733.9M425.3 1732.3V1733.9M428.8 1732.3V1733.9M432.3 1732.3V1733.9M435.8 1732.3V1733.9M439.3 1732.3V1733.9M442.8 1732.3V1733.9M446.3 1732.3V1733.9M449.8 1732.3V1733.9M453.3 1732.3V1733.9M456.8 1732.3V1733.9M460.3 1732.3V1733.9M463.8 1732.3V1733.9M467.3 1732.3V1733.9M470.8 1732.3V1733.9M474.3 1732.3V1733.9M477.8 1732.3V1733.9M481.3 1732.3V1733.9M484.8 1732.3V1733.9M488.3 1732.3V1733.9M491.9 1732.3V1733.9M495.4 1732.3V1733.9M498.9 1732.3V1733.9M502.4 1732.3V1733.9M505.9 1732.3V1733.9M509.4 1732.3V1733.9M512.9 1732.3V1733.9M516.4 1732.3V1733.9M519.9 1732.3V1733.9M523.4 1732.3V1733.9M526.9 1732.3V1733.9M530.4 1732.3V1733.9M533.9 1732.3V1733.9M537.4 1732.3V1733.9M540.9 1732.3V1733.9M544.4 1732.3V1733.9M547.9 1732.3V1733.9M551.4 1732.3V1733.9M554.9 1732.3V1733.9M558.4 1732.3V1733.9M561.9 1732.3V1733.9M565.4 1732.3V1733.9M568.9 1732.3V1733.9M572.4 1732.3V1733.9M575.9 1732.3V1733.9M579.4 1732.3V1733.9M582.9 1732.3V1733.9M586.4 1732.3V1733.9M589.9 1732.3V1733.9M593.4 1732.3V1733.9M596.9 1732.3V1733.9M600.4 1732.3V1733.9M603.9 1732.3V1733.9M607.4 1732.3V1733.9M610.9 1732.3V1733.9M614.4 1732.3V1733.9M617.9 1732.3V1733.9M621.4 1732.3V1733.9M624.9 1732.3V1733.9M628.5 1732.3V1733.9M632 1732.3V1733.9M635.5 1732.3V1733.9M639 1732.3V1733.9M642.5 1732.3V1733.9M646 1732.3V1733.9M649.5 1732.3V1733.9M653 1732.3V1733.9M656.5 1732.3V1733.9M660 1732.3V1733.9M663.5 1732.3V1733.9M667 1732.3V1733.9M670.5 1732.3V1733.9M674 1732.3V1733.9M677.5 1732.3V1733.9M681 1732.3V1733.9M684.5 1732.3V1733.9M688 1732.3V1733.9M691.5 1732.3V1733.9M695 1732.3V1733.9M698.5 1732.3V1733.9M702 1732.3V1733.9M705.5 1732.3V1733.9M709 1732.3V1733.9M712.5 1732.3V1733.9M716 1732.3V1733.9M719.5 1732.3V1733.9M723 1732.3V1733.9M726.5 1732.3V1733.9M730 1732.3V1733.9M733.5 1732.3V1733.9M737 1732.3V1733.9M740.5 1732.3V1733.9M744 1732.3V1733.9M747.5 1732.3V1733.9M751 1732.3V1733.9M754.5 1732.3V1733.9M758 1732.3V1733.9M761.5 1732.3V1733.9M765 1732.3V1733.9M768.6 1732.3V1733.9M772.1 1732.3V1733.9M775.6 1732.3V1733.9M779.1 1732.3V1733.9M782.6 1732.3V1733.9M786.1 1732.3V1733.9M789.6 1732.3V1733.9M793.1 1732.3V1733.9M796.6 1732.3V1733.9M800.1 1732.3V1733.9M803.6 1732.3V1733.9M807.1 1732.3V1733.9M810.6 1732.3V1733.9M814.1 1732.3V1733.9M817.6 1732.3V1733.9M821.1 1732.3V1733.9M824.6 1732.3V1733.9M828.1 1732.3V1733.9M831.6 1732.3V1733.9M835.1 1732.3V1733.9M838.6 1732.3V1733.9M842.1 1732.3V1733.9M845.6 1732.3V1733.9M849.1 1732.3V1733.9M852.6 1732.3V1733.9M856.1 1732.3V1733.9M859.6 1732.3V1733.9M863.1 1732.3V1733.9M866.6 1732.3V1733.9M870.1 1732.3V1733.9M873.6 1732.3V1733.9M877.1 1732.3V1733.9M880.6 1732.3V1733.9M884.1 1732.3V1733.9M887.6 1732.3V1733.9M891.1 1732.3V1733.9M894.6 1732.3V1733.9M898.1 1732.3V1733.9M901.6 1732.3V1733.9M905.1 1732.3V1733.9M908.7 1732.3V1733.9M912.2 1732.3V1733.9M915.7 1732.3V1733.9M919.2 1732.3V1733.9M922.7 1732.3V1733.9M926.2 1732.3V1733.9M929.7 1732.3V1733.9M933.2 1732.3V1733.9M936.7 1732.3V1733.9M940.2 1732.3V1733.9M943.7 1732.3V1733.9M947.2 1732.3V1733.9" stroke="#333" stroke-width="0.8" fill="none"/>
<path d="M138.7 1732.3H947.3M138.1 1732.3V1737.3M155.6 1732.3V1735.5M173.1 1732.3V1735.5M190.6 1732.3V1735.5M208.1 1732.3V1737.3M225.7 1732.3V1735.5M243.2 1732.3V1735.5M260.7 1732.3V1735.5M278.2 1732.3V1737.3M295.7 1732.3V1735.5M313.2 1732.3V1735.5M330.7 1732.3V1735.5M348.2 1732.3V1737.3M365.8 1732.3V1735.5M383.3 1732.3V1735.5M400.8 1732.3V1735.5M418.3 1732.3V1737.3M435.8 1732.3V1735.5M453.3 1732.3V1735.5M470.8 1732.3V1735.5M488.3 1732.3V1737.3M505.9 1732.3V1735.5M523.4 1732.3V1735.5M540.9 1732.3V1735.5M558.4 1732.3V1737.3M575.9 1732.3V1735.5M593.4 1732.3V1735.5M610.9 1732.3V1735.5M628.5 1732.3V1737.3M646 1732.3V1735.5M663.5 1732.3V1735.5M681 1732.3V1735.5M698.5 1732.3V1737.3M716 1732.3V1735.5M733.5 1732.3V1735.5M751 1732.3V1735.5M768.6 1732.3V1737.3M786.1 1732.3V1735.5M803.6 1732.3V1735.5M821.1 1732.3V1735.5M838.6 1732.3V1737.3M856.1 1732.3V1735.5M873.6 1732.3V1735.5M891.1 1732.3V1735.5M908.7 1732.3V1737.3M926.2 1732.3V1735.5M943.7 1732.3V1735.5" stroke="#111" stroke-width="1.4" fill="none"/>
<text x="143.1" y="1751.3" font-size="18" text-anchor="middle">400</text>
<text x="213.1" y="1751.3" font-size="18" text-anchor="middle">600</text>
<text x="283.2" y="1751.3" font-size="18" text-anchor="middle">800</text>
<text x="356.1" y="1751.3" font-size="18" text-anchor="middle">1000</text>
<text x="426.2" y="1751.3" font-size="18" text-anchor="middle">1200</text>
<text x="496.2" y="1751.3" font-size="18" text-anchor="middle">1400</text>
<text x="566.3" y="1751.3" font-size="18" text-anchor="middle">1600</text>
<text x="636.3" y="1751.3" font-size="18" text-anchor="middle">1800</text>
<text x="706.4" y="1751.3" font-size="18" text-anchor="middle">2000</text>
<text x="776.4" y="1751.3" font-size="18" text-anchor="middle">2200</text>
<text x="846.5" y="1751.3" font-size="18" text-anchor="middle">2400</text>
<text x="916.5" y="1751.3" font-size="18" text-anchor="middle">2600</text>
<text x="132.8" y="1354.1" font-size="18" text-anchor="end" letter-spacing="0.7">100</text>
<text x="132.8" y="1545.3" font-size="18" text-anchor="end" letter-spacing="0.7">50</text>
<text x="131.6" y="1738.5" font-size="18" text-anchor="end">0</text>
<text transform="translate(69,1655) rotate(-90)" font-size="22.7" font-weight="bold">Relative abundance</text>
<text x="518" y="1780.5" font-size="22.7" font-weight="bold">m/z</text>
<path d="M153.4 1732.3V1685.8M178.3 1732.3V1656.5M189.8 1732.3V1709.7M203.1 1732.3V1715.5M209.9 1732.3V1616.8M211.4 1732.3V1700.9M214.9 1732.3V1701.4M221.9 1732.3V1722.2M247.8 1732.3V1719.7M253.3 1732.3V1709.2M257.6 1732.3V1709.7M259.6 1732.3V1717.2M262.3 1732.3V1707.9M282.7 1732.3V1699.6M288.9 1732.3V1493.9M294 1732.3V1723M299.7 1732.3V1720.2M308 1732.3V1721.7M313.8 1732.3V1648.2M319 1732.3V1690.9M342.9 1732.3V1720.2M348.2 1732.3V1703.9M354.2 1732.3V1704.7M407.6 1732.3V1721M412.6 1732.3V1685.3M456.6 1732.3V1716.5M459.8 1732.3V1713.5M461.6 1732.3V1721M497.2 1732.3V1721M500.5 1732.3V1705.9M540.6 1732.3V1718.5M549.4 1732.3V1699.6M553.2 1732.3V1673.3M173.8 1732.3V1723.5M181.8 1732.3V1721M200.6 1732.3V1724.7M204.4 1732.3V1716M217.4 1732.3V1726M254.6 1732.3V1728M338.6 1732.3V1728M395.8 1732.3V1726M401.4 1732.3V1727.3M447.8 1732.3V1727.3M495.5 1732.3V1728M511.8 1732.3V1728M519.8 1732.3V1727.3M403.9 1732.3V1728M496.3 1732.3V1721M497.6 1732.3V1719.7M540.7 1732.3V1718.5M552.8 1732.3V1673.3M565.3 1732.3V1712.2M601.2 1732.3V1726M620 1732.3V1722.2M660.2 1732.3V1727.3M712.6 1732.3V1719.7M705.8 1732.3V1726M729.7 1732.3V1726.5M745.5 1732.3V1728M751.5 1732.3V1676.3M786.1 1732.3V1718.5M791.9 1732.3V1726M805.7 1732.3V1716M811.2 1732.3V1713.5M817 1732.3V1682.8M845.9 1732.3V1717.2M896.6 1732.3V1712.9M914.9 1732.3V1718M920.9 1732.3V1683.3M511.4 1732.3V1727.3M517.6 1732.3V1728M635.6 1732.3V1728.5M184.3 1732.3V1350.5M884.6 1732.3V1727.2M858.6 1732.3V1732.3M617.3 1732.3V1731.9M567.5 1732.3V1732.3M295.9 1732.3V1731.9M319.3 1732.3V1731.8M161.6 1732.3V1732.3M712 1732.3V1731.9M553.5 1732.3V1730.1M430.1 1732.3V1732.3M770.8 1732.3V1731.2M670.2 1732.3V1731M921.5 1732.3V1732.1M752 1732.3V1732.1M601.2 1732.3V1730.7M394.3 1732.3V1732.3M522.5 1732.3V1730.2M616.1 1732.3V1731.8M657.7 1732.3V1732.3M285.1 1732.3V1732.1M797.1 1732.3V1732.3M233.5 1732.3V1732.3M173 1732.3V1732.2M601.8 1732.3V1729.1M407.4 1732.3V1732.1M373.4 1732.3V1732.2M766.3 1732.3V1731.4M349.3 1732.3V1732.3M771.3 1732.3V1730.3M807.3 1732.3V1732.2M579.9 1732.3V1727.7M617.8 1732.3V1727.3M276.1 1732.3V1726.8M186.6 1732.3V1731.9M160.5 1732.3V1729.2M693.7 1732.3V1726.8M788.3 1732.3V1727.2M574.4 1732.3V1726.5M743.4 1732.3V1732.1M924.4 1732.3V1732M297 1732.3V1732.3M516 1732.3V1732.3M891.6 1732.3V1727.2M315.2 1732.3V1732.3M566.6 1732.3V1732.3M578.4 1732.3V1729.2M345 1732.3V1731.9M865.4 1732.3V1731.9M417.1 1732.3V1728.1M795.4 1732.3V1728.1M694.2 1732.3V1731.9M698.4 1732.3V1729M655.4 1732.3V1732.2M378.9 1732.3V1732M761.6 1732.3V1731.4M583.5 1732.3V1729M228.8 1732.3V1730.9M408.8 1732.3V1731.4M812.7 1732.3V1732.2M906.1 1732.3V1732.3M593.2 1732.3V1731.5M330.5 1732.3V1731.4M519.8 1732.3V1731.8M718.8 1732.3V1732.3M444.7 1732.3V1729.5M255.7 1732.3V1728.5M305.2 1732.3V1730.5M280.8 1732.3V1731.8M481.1 1732.3V1732.3M703.7 1732.3V1731.7M695.2 1732.3V1731.5M588.2 1732.3V1731.5M380.9 1732.3V1728M211.1 1732.3V1728.4M835.3 1732.3V1731.7M765.8 1732.3V1730.6M627.8 1732.3V1732.2M398.5 1732.3V1732.1M384.4 1732.3V1727M415.8 1732.3V1732M478.7 1732.3V1729.2M525.5 1732.3V1731.4M346.9 1732.3V1732.2M213.3 1732.3V1732.3M353.7 1732.3V1728.7M545.3 1732.3V1732.3M513.4 1732.3V1732.3M596.4 1732.3V1731.9M831.2 1732.3V1732.2M825.2 1732.3V1732.2M931 1732.3V1730.9M176 1732.3V1729.3M363.1 1732.3V1732.1M259.5 1732.3V1728.9M214.3 1732.3V1730M459.6 1732.3V1730.6M377.1 1732.3V1732.3M876.9 1732.3V1730.8M278 1732.3V1726.7M874.2 1732.3V1732.3M157 1732.3V1731.1M253.5 1732.3V1730.1M518.3 1732.3V1730.3M599.4 1732.3V1729.7M801.7 1732.3V1731.1M616.8 1732.3V1732.1M249.4 1732.3V1732.3M830.1 1732.3V1732.3M484.4 1732.3V1732.1M639.5 1732.3V1731.5M831.8 1732.3V1731.9M432.4 1732.3V1730.8M740 1732.3V1727.6M392.2 1732.3V1728.2M930.1 1732.3V1726.6M245.5 1732.3V1732M763.4 1732.3V1729M173.4 1732.3V1732M723.4 1732.3V1729.8M571.5 1732.3V1732.3M468.5 1732.3V1732.3M395.3 1732.3V1731.9M802.8 1732.3V1731.2M474.6 1732.3V1732.2M395 1732.3V1730.6M499.5 1732.3V1732.3M801.8 1732.3V1731.3M918.9 1732.3V1731.5M642.2 1732.3V1731.9M630.3 1732.3V1727.7M930 1732.3V1730.7M487.3 1732.3V1732.3M816.6 1732.3V1732M448.9 1732.3V1732.3M169.1 1732.3V1732M924.7 1732.3V1730M711.1 1732.3V1730.6M360.9 1732.3V1732.3M625.6 1732.3V1732.3M614.1 1732.3V1731.6M577.5 1732.3V1732.3M196 1732.3V1731.8M258.6 1732.3V1730.9M390.4 1732.3V1731M744.3 1732.3V1731.1M568.7 1732.3V1732.3M420.6 1732.3V1726.7M357.4 1732.3V1732.2M538 1732.3V1731.4M776.9 1732.3V1732.2M915.1 1732.3V1732.3M776.6 1732.3V1731.3M865.6 1732.3V1732.3M695.4 1732.3V1727.3M677.5 1732.3V1732.3M881.5 1732.3V1726.9M230.7 1732.3V1729M205.4 1732.3V1732.3M780.6 1732.3V1730.2M910.6 1732.3V1730.9M552.7 1732.3V1732.2M601.9 1732.3V1726.4M661.2 1732.3V1728.4M300.3 1732.3V1730.1M729.5 1732.3V1732.3M800.6 1732.3V1732.3M316.3 1732.3V1732.3M674 1732.3V1732.3M925.5 1732.3V1732.3M792 1732.3V1729.8M439.7 1732.3V1725.8M218.1 1732.3V1722.3M222.9 1732.3V1728.6M180.1 1732.3V1727.3M205 1732.3V1728.1M444.7 1732.3V1727.2M326.3 1732.3V1725.3M554.9 1732.3V1732.3M357.9 1732.3V1723.3M450.9 1732.3V1731M269.1 1732.3V1723.4M177.3 1732.3V1727.3M494.4 1732.3V1732.2M278.4 1732.3V1731.8M368.5 1732.3V1731.5M515.5 1732.3V1724.1M274 1732.3V1724.7M170.8 1732.3V1732.3M419.9 1732.3V1726.6M484.4 1732.3V1722.5M501.3 1732.3V1731.9M452.4 1732.3V1724.1M180.9 1732.3V1730.6M206.2 1732.3V1732.2M342.3 1732.3V1728.6M549 1732.3V1732.2M353.1 1732.3V1722.4M461.7 1732.3V1730.2M243.2 1732.3V1729.1M250.9 1732.3V1729M413 1732.3V1731.3M474.2 1732.3V1731.3M337.8 1732.3V1726M246.5 1732.3V1732.2M382 1732.3V1731.1M507.4 1732.3V1732M297 1732.3V1732.3M330.3 1732.3V1731.8M329.4 1732.3V1727.2M157.4 1732.3V1722.6M439.3 1732.3V1726.4M367.1 1732.3V1729.8M313 1732.3V1731.3M234.1 1732.3V1731.8M264.6 1732.3V1731.6M521.2 1732.3V1726.6M409.9 1732.3V1732.3M251.4 1732.3V1730.1M431.2 1732.3V1731.2M406.3 1732.3V1724.5M253.6 1732.3V1731.4M459.7 1732.3V1731.7M443.4 1732.3V1731.3M149.8 1732.3V1730.8M170.2 1732.3V1726.8M495.2 1732.3V1730.3M517.9 1732.3V1732.1M328.1 1732.3V1732.2M162.1 1732.3V1726.1M163.5 1732.3V1723.9" stroke="#111" stroke-width="1.3" fill="none"/>
<path d="M185.3 1732.3V1652M289.7 1732.3V1660.8M553.8 1732.3V1713.5M549.8 1732.3V1699.6M501.1 1732.3V1707.2M460.6 1732.3V1719.7M258.3 1732.3V1726" stroke="#111" stroke-width="1.8" fill="none"/>
<path d="M312.8 1732.3V1608.1" stroke="#999" stroke-width="1" fill="none"/>
<text x="340.4" y="1505.9" font-size="20.5" fill="#2b7dbd">αb</text>
<text x="363.8" y="1510.9" font-size="11.8" fill="#2b7dbd">9</text>
<text x="361.3" y="1494.4" font-size="11.5" fill="#2b7dbd">+</text>
<text x="332.8" y="1528.7" font-size="16.3">917.43</text>
<line x1="358.2" y1="1536.5" x2="319" y2="1690.1" stroke="#1b75bb" stroke-width="4.3"/>
<text x="204.4" y="1554.9" font-size="20.5" fill="#b8293c">αy</text>
<text x="227.1" y="1562.5" font-size="11.3" fill="#b8293c">6</text>
<text x="229.4" y="1545.5" font-size="12.5" fill="#b8293c">+</text>
<text x="192.8" y="1583.9" font-size="16.3">603.26</text>
<line x1="210.6" y1="1593.8" x2="211.1" y2="1615.1" stroke="#c5222f" stroke-width="4.3"/>
<text x="296.5" y="1566.6" font-size="20.5" fill="#b8293c">αy</text>
<text x="319.2" y="1574.2" font-size="11.3" fill="#b8293c">9</text>
<text x="321.5" y="1557.2" font-size="12.5" fill="#b8293c">+</text>
<text x="288.9" y="1597.2" font-size="16.3">900.40</text>
<text x="371.2" y="1604.3" font-size="20.5" fill="#2b7dbd">αb</text>
<text x="394.7" y="1609.3" font-size="11.8" fill="#2b7dbd">12</text>
<text x="394" y="1592.9" font-size="12.2" fill="#2b7dbd">2+</text>
<text x="360.2" y="1629" font-size="16.3">1169.53</text>
<line x1="388.8" y1="1637.4" x2="407.6" y2="1719.7" stroke="#1b75bb" stroke-width="4.3"/>
<text x="440.8" y="1583.7" font-size="20.5" fill="#2b7dbd">αb</text>
<text x="464.2" y="1588.7" font-size="11.8" fill="#2b7dbd">15</text>
<text x="463.5" y="1572.3" font-size="12.2" fill="#2b7dbd">2+</text>
<text x="431.2" y="1605.9" font-size="16.3">1318.09</text>
<line x1="459.8" y1="1613.6" x2="460.3" y2="1712.2" stroke="#1b75bb" stroke-width="4.3"/>
<text x="340.4" y="1658.2" font-size="20.5" fill="#2b7dbd">αb</text>
<text x="363.8" y="1663.2" font-size="11.8" fill="#2b7dbd">10</text>
<text x="361.3" y="1646.7" font-size="11.5" fill="#2b7dbd">+</text>
<text x="332.5" y="1676.7" font-size="16.3">1016.48</text>
<line x1="356.2" y1="1682.6" x2="356.2" y2="1702.9" stroke="#1b75bb" stroke-width="4.3"/>
<text x="479.1" y="1653.2" font-size="20.5" fill="#b8293c">βy</text>
<text x="501.8" y="1660.8" font-size="11.3" fill="#b8293c">7</text>
<text x="503.4" y="1642" font-size="12.2" fill="#b8293c">2+</text>
<text x="465" y="1679.2" font-size="16.3">1434.63</text>
<line x1="489.7" y1="1683.3" x2="499.7" y2="1704.7" stroke="#c5222f" stroke-width="4.3"/>
<text x="534" y="1613.1" font-size="20.5" fill="#b8293c">βy</text>
<text x="556.6" y="1620.7" font-size="11.3" fill="#b8293c">8</text>
<text x="558.2" y="1601.9" font-size="12.2" fill="#b8293c">2+</text>
<text x="524.4" y="1640.6" font-size="16.3">1491.64</text>
<line x1="548.3" y1="1651.2" x2="523.9" y2="1724.2" stroke="#c5222f" stroke-width="4.3"/>
<text x="707.1" y="1613.6" font-size="20.5" fill="#b8293c">αy</text>
<text x="729.8" y="1621.2" font-size="11.3" fill="#b8293c">10</text>
<text x="732.1" y="1604.2" font-size="12.5" fill="#b8293c">+</text>
<text x="701.3" y="1644.8" font-size="16.3">2150.94</text>
<line x1="736.5" y1="1650.7" x2="751" y2="1674.6" stroke="#c5222f" stroke-width="4.3"/>
<text x="741" y="1552.1" font-size="20.5" fill="#b8293c">αy</text>
<text x="763.7" y="1559.7" font-size="11.3" fill="#b8293c">11</text>
<text x="766" y="1542.7" font-size="12.5" fill="#b8293c">+</text>
<text x="733.9" y="1581.6" font-size="16.3">2250.0</text>
<line x1="767.3" y1="1588" x2="786.1" y2="1717.2" stroke="#c5222f" stroke-width="4.3"/>
<text x="796.7" y="1554.1" font-size="20.5" fill="#b8293c">αy</text>
<text x="819.4" y="1561.7" font-size="11.3" fill="#b8293c">12</text>
<text x="821.7" y="1544.7" font-size="12.5" fill="#b8293c">+</text>
<text x="791.6" y="1581.6" font-size="16.3">2307.00</text>
<line x1="809.5" y1="1590.5" x2="811.2" y2="1711.7" stroke="#c5222f" stroke-width="4.3"/>
<text x="873.2" y="1571.7" font-size="20.5" fill="#2b7dbd">αb</text>
<text x="896.7" y="1576.7" font-size="11.8" fill="#2b7dbd">14</text>
<text x="894.2" y="1560.2" font-size="11.5" fill="#2b7dbd">+</text>
<text x="858.1" y="1595.2" font-size="16.3">2564.12</text>
<line x1="879.7" y1="1599.3" x2="897.1" y2="1710.9" stroke="#1b75bb" stroke-width="4.3"/>
<text x="822" y="1623.1" font-size="20.5" fill="#2b7dbd">αb</text>
<text x="845.5" y="1628.1" font-size="11.8" fill="#2b7dbd">12</text>
<text x="843" y="1611.6" font-size="11.5" fill="#2b7dbd">+</text>
<text x="819" y="1647.4" font-size="16.3">2338.07</text>
<line x1="835.8" y1="1648.7" x2="818" y2="1682.1" stroke="#1b75bb" stroke-width="4.3"/>
<text x="904.1" y="1633.1" font-size="20.5" fill="#2b7dbd">αb</text>
<text x="927.5" y="1638.1" font-size="11.8" fill="#2b7dbd">15</text>
<text x="925" y="1621.6" font-size="11.5" fill="#2b7dbd">+</text>
<text x="896.3" y="1657.9" font-size="16.3">2635.19</text>
<line x1="920.4" y1="1662.8" x2="921.2" y2="1680.8" stroke="#1b75bb" stroke-width="4.3"/>
<text x="840.9" y="1674.6" font-size="20.5" fill="#b8293c">αy</text>
<text x="863.6" y="1682.2" font-size="11.3" fill="#b8293c">13</text>
<text x="865.9" y="1665.2" font-size="12.5" fill="#b8293c">+</text>
<text x="828.5" y="1696.3" font-size="16.3">2421.06</text>
<line x1="852.1" y1="1700.2" x2="845.9" y2="1715.5" stroke="#c5222f" stroke-width="4.3"/>
<text x="221.3" y="1355" font-size="20.5" fill="#b8293c">αy</text>
<text x="244" y="1362.6" font-size="11.3" fill="#b8293c">5</text>
<text x="246.3" y="1345.6" font-size="12.5" fill="#b8293c">+</text>
<text x="210.5" y="1381.8" font-size="16.3">532.22</text>
<line x1="210.3" y1="1358" x2="185.7" y2="1376.1" stroke="#c5222f" stroke-width="4.3"/>
<text x="279.8" y="1454.1" font-size="20.5" fill="#b8293c">αy</text>
<text x="302.5" y="1461.7" font-size="11.3" fill="#b8293c">8</text>
<text x="304.8" y="1444.7" font-size="12.5" fill="#b8293c">+</text>
<text x="267.7" y="1485.9" font-size="16.3">829.36</text>
<text x="510.1" y="1296.5" font-size="24.5" font-weight="bold">AVFN</text>
<text x="584.1" y="1296.5" font-size="24.5" font-weight="bold">NAE</text>
<text x="643.6" y="1296.5" font-size="24.5" font-weight="bold">N</text>
<text x="669.5" y="1296.5" font-size="24.5" font-weight="bold">G</text>
<text x="694.6" y="1296.5" font-size="24.5" font-weight="bold">V</text>
<text x="725.9" y="1296.5" font-size="24.5" font-weight="bold">CA</text>
<text x="768.6" y="1296.5" font-size="24.5" font-weight="bold">PE</text>
<text x="807.5" y="1296.5" font-size="24.5" font-weight="bold">A</text>
<text x="832.6" y="1296.5" font-size="24.5" font-weight="bold">PETDA</text>
<path d="M639.8 1270.2V1304.3H649.4" stroke="#7e7e7e" stroke-width="1.8" fill="none"/>
<path d="M667 1270.2V1304.3H677" stroke="#7e7e7e" stroke-width="1.8" fill="none"/>
<path d="M679.5 1270.2H689.5V1304.3H699.8" stroke="#7e7e7e" stroke-width="1.8" fill="none"/>
<path d="M704.1 1270.2H714.1V1304.3H724.4" stroke="#7e7e7e" stroke-width="1.8" fill="none"/>
<path d="M754.8 1270.2H765.3V1304.3H775.6" stroke="#7e7e7e" stroke-width="1.8" fill="none"/>
<path d="M789.2 1270.2H799.2V1304.3H809.5" stroke="#7e7e7e" stroke-width="1.8" fill="none"/>
<path d="M815 1270.2H825V1304.3H835.3" stroke="#7e7e7e" stroke-width="1.8" fill="none"/>
<text x="678.2" y="1260.2" font-size="19.5" fill="#2b7dbd">b</text>
<text x="688.2" y="1263.8" font-size="11.3" fill="#2b7dbd" letter-spacing="-0.6">9</text>
<text x="703.3" y="1260.2" font-size="19.5" fill="#2b7dbd">b</text>
<text x="713.3" y="1263.8" font-size="11.3" fill="#2b7dbd" letter-spacing="-0.6">10</text>
<text x="748.5" y="1260.2" font-size="19.5" fill="#2b7dbd">b</text>
<text x="758.5" y="1263.8" font-size="11.3" fill="#2b7dbd" letter-spacing="-0.6">12</text>
<text x="783.1" y="1260.2" font-size="19.5" fill="#2b7dbd">b</text>
<text x="793.1" y="1263.8" font-size="11.3" fill="#2b7dbd" letter-spacing="-0.6">14</text>
<text x="810.7" y="1260.2" font-size="19.5" fill="#2b7dbd">b</text>
<text x="820.7" y="1263.8" font-size="11.3" fill="#2b7dbd" letter-spacing="-0.6">15</text>
<text x="641.9" y="1320.4" font-size="19.5" fill="#b8293c">y</text>
<text x="650.9" y="1324" font-size="11.3" fill="#b8293c" letter-spacing="-0.6">13</text>
<text x="664.4" y="1320.4" font-size="19.5" fill="#b8293c">y</text>
<text x="673.4" y="1324" font-size="11.3" fill="#b8293c" letter-spacing="-0.6">12</text>
<text x="687.8" y="1320.4" font-size="19.5" fill="#b8293c">y</text>
<text x="696.8" y="1324" font-size="11.3" fill="#b8293c" letter-spacing="-0.6">11</text>
<text x="709.1" y="1320.4" font-size="19.5" fill="#b8293c">y</text>
<text x="718.1" y="1324" font-size="11.3" fill="#b8293c" letter-spacing="-0.6">10</text>
<text x="764.8" y="1320.4" font-size="19.5" fill="#b8293c">y</text>
<text x="773.8" y="1324" font-size="11.3" fill="#b8293c" letter-spacing="-0.6">8</text>
<text x="799.2" y="1320.4" font-size="19.5" fill="#b8293c">y</text>
<text x="808.2" y="1324" font-size="11.3" fill="#b8293c" letter-spacing="-0.6">6</text>
<text x="825" y="1320.4" font-size="19.5" fill="#b8293c">y</text>
<text x="834" y="1324" font-size="11.3" fill="#b8293c" letter-spacing="-0.6">5</text>
<line x1="736" y1="1309.1" x2="736" y2="1332.9" stroke="#c5222f" stroke-width="4.4"/>
<text x="583.4" y="1359.3" font-size="24.5" font-weight="bold">IA</text>
<text x="614.3" y="1359.3" font-size="24.5" font-weight="bold">N</text>
<text x="640.6" y="1359.3" font-size="24.5" font-weight="bold">PNKDYCL</text>
<path d="M611 1340.5V1363.5H621.3" stroke="#7e7e7e" stroke-width="1.8" fill="none"/>
<path d="M636.1 1340.5V1363.5H646.5" stroke="#7e7e7e" stroke-width="1.8" fill="none"/>
<text x="612.5" y="1380.6" font-size="19.5" fill="#b8293c">y</text>
<text x="621.5" y="1384.2" font-size="11.3" fill="#b8293c" letter-spacing="-0.6">8</text>
<text x="636.1" y="1380.6" font-size="19.5" fill="#b8293c">y</text>
<text x="645.1" y="1384.2" font-size="11.3" fill="#b8293c" letter-spacing="-0.6">7</text>
<text x="942.5" y="1296.5" font-size="22.7" font-weight="bold">(α)</text>
<text x="942.5" y="1348" font-size="22.7" font-weight="bold">(β)</text>
<rect x="833.3" y="1412.7" width="105.9" height="59.5" fill="#ccddd3" stroke="#444" stroke-width="1.2"/>
<line x1="867.7" y1="1412.7" x2="867.7" y2="1423.2" stroke="#111" stroke-width="1.4"/>
<line x1="867.7" y1="1461.2" x2="867.7" y2="1472.2" stroke="#111" stroke-width="1.4"/>
<line x1="898.3" y1="1412.7" x2="898.3" y2="1423.2" stroke="#111" stroke-width="1.4"/>
<line x1="898.3" y1="1461.2" x2="898.3" y2="1472.2" stroke="#111" stroke-width="1.4"/>
<text x="867.7" y="1450.7" font-size="29" font-weight="bold" fill="#fff" text-anchor="middle">C</text>
<text x="867.7" y="1407.9" font-size="19.5" font-weight="bold" text-anchor="middle">S</text>
<text x="898.3" y="1450.7" font-size="29" font-weight="bold" fill="#fff" text-anchor="middle">C</text>
<text x="898.3" y="1407.9" font-size="19.5" font-weight="bold" text-anchor="middle">S</text>
<path d="M866.5 1389.2C871.7 1366.3 894.3 1366.3 899.5 1389.2" stroke="#c5222f" stroke-width="5.2" fill="none"/>
<text x="842.6" y="1492.3" font-size="19" font-weight="bold">380</text>
<text x="886.3" y="1492.3" font-size="19.6" font-weight="bold">432</text>
<text x="1028.9" y="36" font-size="50" font-weight="bold">d</text>
<path d="M1147.9 59.7V549.6M1147.9 549.6H1141.9M1147.9 544.7H1144.3M1147.9 539.8H1144.3M1147.9 534.9H1144.3M1147.9 530H1144.3M1147.9 525.1H1142.7M1147.9 520.2H1144.3M1147.9 515.3H1144.3M1147.9 510.4H1144.3M1147.9 505.6H1144.3M1147.9 500.7H1141.9M1147.9 495.8H1144.3M1147.9 490.9H1144.3M1147.9 486H1144.3M1147.9 481.1H1144.3M1147.9 476.2H1142.7M1147.9 471.3H1144.3M1147.9 466.4H1144.3M1147.9 461.5H1144.3M1147.9 456.6H1144.3M1147.9 451.7H1141.9M1147.9 446.8H1144.3M1147.9 441.9H1144.3M1147.9 437H1144.3M1147.9 432.1H1144.3M1147.9 427.2H1142.7M1147.9 422.4H1144.3M1147.9 417.5H1144.3M1147.9 412.6H1144.3M1147.9 407.7H1144.3M1147.9 402.8H1141.9M1147.9 397.9H1144.3M1147.9 393H1144.3M1147.9 388.1H1144.3M1147.9 383.2H1144.3M1147.9 378.3H1142.7M1147.9 373.4H1144.3M1147.9 368.5H1144.3M1147.9 363.6H1144.3M1147.9 358.7H1144.3M1147.9 353.8H1141.9M1147.9 348.9H1144.3M1147.9 344.1H1144.3M1147.9 339.2H1144.3M1147.9 334.3H1144.3M1147.9 329.4H1142.7M1147.9 324.5H1144.3M1147.9 319.6H1144.3M1147.9 314.7H1144.3M1147.9 309.8H1144.3M1147.9 304.9H1141.9M1147.9 300H1144.3M1147.9 295.1H1144.3M1147.9 290.2H1144.3M1147.9 285.3H1144.3M1147.9 280.4H1142.7M1147.9 275.5H1144.3M1147.9 270.6H1144.3M1147.9 265.7H1144.3M1147.9 260.9H1144.3M1147.9 256H1141.9M1147.9 251.1H1144.3M1147.9 246.2H1144.3M1147.9 241.3H1144.3M1147.9 236.4H1144.3M1147.9 231.5H1142.7M1147.9 226.6H1144.3M1147.9 221.7H1144.3M1147.9 216.8H1144.3M1147.9 211.9H1144.3M1147.9 207H1141.9M1147.9 202.1H1144.3M1147.9 197.2H1144.3M1147.9 192.3H1144.3M1147.9 187.4H1144.3M1147.9 182.6H1142.7M1147.9 177.7H1144.3M1147.9 172.8H1144.3M1147.9 167.9H1144.3M1147.9 163H1144.3M1147.9 158.1H1141.9M1147.9 153.2H1144.3M1147.9 148.3H1144.3M1147.9 143.4H1144.3M1147.9 138.5H1144.3M1147.9 133.6H1142.7M1147.9 128.7H1144.3M1147.9 123.8H1144.3M1147.9 118.9H1144.3M1147.9 114H1144.3M1147.9 109.1H1141.9M1147.9 104.2H1144.3M1147.9 99.4H1144.3M1147.9 94.5H1144.3M1147.9 89.6H1144.3M1147.9 84.7H1142.7M1147.9 79.8H1144.3M1147.9 74.9H1144.3M1147.9 70H1144.3M1147.9 65.1H1144.3M1147.9 60.2H1141.9" stroke="#222" stroke-width="1.4" fill="none"/>
<path d="M1148.4 549.6V551.4M1150.7 549.6V551.4M1153 549.6V551.4M1155.4 549.6V551.4M1157.7 549.6V551.4M1160 549.6V551.4M1162.3 549.6V551.4M1164.6 549.6V551.4M1166.9 549.6V551.4M1169.2 549.6V551.4M1171.5 549.6V551.4M1173.8 549.6V551.4M1176.1 549.6V551.4M1178.4 549.6V551.4M1180.7 549.6V551.4M1183 549.6V551.4M1185.4 549.6V551.4M1187.7 549.6V551.4M1190 549.6V551.4M1192.3 549.6V551.4M1194.6 549.6V551.4M1196.9 549.6V551.4M1199.2 549.6V551.4M1201.5 549.6V551.4M1203.8 549.6V551.4M1206.1 549.6V551.4M1208.4 549.6V551.4M1210.7 549.6V551.4M1213.1 549.6V551.4M1215.4 549.6V551.4M1217.7 549.6V551.4M1220 549.6V551.4M1222.3 549.6V551.4M1224.6 549.6V551.4M1226.9 549.6V551.4M1229.2 549.6V551.4M1231.5 549.6V551.4M1233.8 549.6V551.4M1236.1 549.6V551.4M1238.4 549.6V551.4M1240.7 549.6V551.4M1243.1 549.6V551.4M1245.4 549.6V551.4M1247.7 549.6V551.4M1250 549.6V551.4M1252.3 549.6V551.4M1254.6 549.6V551.4M1256.9 549.6V551.4M1259.2 549.6V551.4M1261.5 549.6V551.4M1263.8 549.6V551.4M1266.1 549.6V551.4M1268.4 549.6V551.4M1270.8 549.6V551.4M1273.1 549.6V551.4M1275.4 549.6V551.4M1277.7 549.6V551.4M1280 549.6V551.4M1282.3 549.6V551.4M1284.6 549.6V551.4M1286.9 549.6V551.4M1289.2 549.6V551.4M1291.5 549.6V551.4M1293.8 549.6V551.4M1296.1 549.6V551.4M1298.4 549.6V551.4M1300.8 549.6V551.4M1303.1 549.6V551.4M1305.4 549.6V551.4M1307.7 549.6V551.4M1310 549.6V551.4M1312.3 549.6V551.4M1314.6 549.6V551.4M1316.9 549.6V551.4M1319.2 549.6V551.4M1321.5 549.6V551.4M1323.8 549.6V551.4M1326.1 549.6V551.4M1328.5 549.6V551.4M1330.8 549.6V551.4M1333.1 549.6V551.4M1335.4 549.6V551.4M1337.7 549.6V551.4M1340 549.6V551.4M1342.3 549.6V551.4M1344.6 549.6V551.4M1346.9 549.6V551.4M1349.2 549.6V551.4M1351.5 549.6V551.4M1353.8 549.6V551.4M1356.1 549.6V551.4M1358.5 549.6V551.4M1360.8 549.6V551.4M1363.1 549.6V551.4M1365.4 549.6V551.4M1367.7 549.6V551.4M1370 549.6V551.4M1372.3 549.6V551.4M1374.6 549.6V551.4M1376.9 549.6V551.4M1379.2 549.6V551.4M1381.5 549.6V551.4M1383.8 549.6V551.4M1386.2 549.6V551.4M1388.5 549.6V551.4M1390.8 549.6V551.4M1393.1 549.6V551.4M1395.4 549.6V551.4M1397.7 549.6V551.4M1400 549.6V551.4M1402.3 549.6V551.4M1404.6 549.6V551.4M1406.9 549.6V551.4M1409.2 549.6V551.4M1411.5 549.6V551.4M1413.8 549.6V551.4M1416.2 549.6V551.4M1418.5 549.6V551.4M1420.8 549.6V551.4M1423.1 549.6V551.4M1425.4 549.6V551.4M1427.7 549.6V551.4M1430 549.6V551.4M1432.3 549.6V551.4M1434.6 549.6V551.4M1436.9 549.6V551.4M1439.2 549.6V551.4M1441.5 549.6V551.4M1443.9 549.6V551.4M1446.2 549.6V551.4M1448.5 549.6V551.4M1450.8 549.6V551.4M1453.1 549.6V551.4M1455.4 549.6V551.4M1457.7 549.6V551.4M1460 549.6V551.4M1462.3 549.6V551.4M1464.6 549.6V551.4M1466.9 549.6V551.4M1469.2 549.6V551.4M1471.5 549.6V551.4M1473.9 549.6V551.4M1476.2 549.6V551.4M1478.5 549.6V551.4M1480.8 549.6V551.4M1483.1 549.6V551.4M1485.4 549.6V551.4M1487.7 549.6V551.4M1490 549.6V551.4M1492.3 549.6V551.4M1494.6 549.6V551.4M1496.9 549.6V551.4M1499.2 549.6V551.4M1501.6 549.6V551.4M1503.9 549.6V551.4M1506.2 549.6V551.4M1508.5 549.6V551.4M1510.8 549.6V551.4M1513.1 549.6V551.4M1515.4 549.6V551.4M1517.7 549.6V551.4M1520 549.6V551.4M1522.3 549.6V551.4M1524.6 549.6V551.4M1526.9 549.6V551.4M1529.2 549.6V551.4M1531.6 549.6V551.4M1533.9 549.6V551.4M1536.2 549.6V551.4M1538.5 549.6V551.4M1540.8 549.6V551.4M1543.1 549.6V551.4M1545.4 549.6V551.4M1547.7 549.6V551.4M1550 549.6V551.4M1552.3 549.6V551.4M1554.6 549.6V551.4M1556.9 549.6V551.4M1559.3 549.6V551.4M1561.6 549.6V551.4M1563.9 549.6V551.4M1566.2 549.6V551.4M1568.5 549.6V551.4M1570.8 549.6V551.4M1573.1 549.6V551.4M1575.4 549.6V551.4M1577.7 549.6V551.4M1580 549.6V551.4M1582.3 549.6V551.4M1584.6 549.6V551.4M1586.9 549.6V551.4M1589.3 549.6V551.4M1591.6 549.6V551.4M1593.9 549.6V551.4M1596.2 549.6V551.4M1598.5 549.6V551.4M1600.8 549.6V551.4M1603.1 549.6V551.4M1605.4 549.6V551.4M1607.7 549.6V551.4M1610 549.6V551.4M1612.3 549.6V551.4M1614.6 549.6V551.4M1617 549.6V551.4M1619.3 549.6V551.4M1621.6 549.6V551.4M1623.9 549.6V551.4M1626.2 549.6V551.4M1628.5 549.6V551.4M1630.8 549.6V551.4M1633.1 549.6V551.4M1635.4 549.6V551.4M1637.7 549.6V551.4M1640 549.6V551.4M1642.3 549.6V551.4M1644.6 549.6V551.4M1647 549.6V551.4M1649.3 549.6V551.4M1651.6 549.6V551.4M1653.9 549.6V551.4M1656.2 549.6V551.4M1658.5 549.6V551.4M1660.8 549.6V551.4M1663.1 549.6V551.4M1665.4 549.6V551.4M1667.7 549.6V551.4M1670 549.6V551.4M1672.3 549.6V551.4M1674.7 549.6V551.4M1677 549.6V551.4M1679.3 549.6V551.4M1681.6 549.6V551.4M1683.9 549.6V551.4M1686.2 549.6V551.4M1688.5 549.6V551.4M1690.8 549.6V551.4M1693.1 549.6V551.4M1695.4 549.6V551.4M1697.7 549.6V551.4M1700 549.6V551.4M1702.3 549.6V551.4M1704.7 549.6V551.4M1707 549.6V551.4M1709.3 549.6V551.4M1711.6 549.6V551.4M1713.9 549.6V551.4M1716.2 549.6V551.4M1718.5 549.6V551.4M1720.8 549.6V551.4M1723.1 549.6V551.4M1725.4 549.6V551.4M1727.7 549.6V551.4M1730 549.6V551.4M1732.4 549.6V551.4M1734.7 549.6V551.4M1737 549.6V551.4M1739.3 549.6V551.4M1741.6 549.6V551.4M1743.9 549.6V551.4M1746.2 549.6V551.4M1748.5 549.6V551.4M1750.8 549.6V551.4M1753.1 549.6V551.4M1755.4 549.6V551.4M1757.7 549.6V551.4M1760 549.6V551.4M1762.4 549.6V551.4M1764.7 549.6V551.4M1767 549.6V551.4M1769.3 549.6V551.4M1771.6 549.6V551.4M1773.9 549.6V551.4M1776.2 549.6V551.4M1778.5 549.6V551.4M1780.8 549.6V551.4M1783.1 549.6V551.4M1785.4 549.6V551.4M1787.7 549.6V551.4M1790.1 549.6V551.4M1792.4 549.6V551.4M1794.7 549.6V551.4M1797 549.6V551.4M1799.3 549.6V551.4M1801.6 549.6V551.4M1803.9 549.6V551.4M1806.2 549.6V551.4M1808.5 549.6V551.4M1810.8 549.6V551.4M1813.1 549.6V551.4M1815.4 549.6V551.4M1817.7 549.6V551.4M1820.1 549.6V551.4M1822.4 549.6V551.4M1824.7 549.6V551.4M1827 549.6V551.4M1829.3 549.6V551.4M1831.6 549.6V551.4M1833.9 549.6V551.4M1836.2 549.6V551.4M1838.5 549.6V551.4M1840.8 549.6V551.4M1843.1 549.6V551.4M1845.4 549.6V551.4M1847.8 549.6V551.4M1850.1 549.6V551.4M1852.4 549.6V551.4M1854.7 549.6V551.4M1857 549.6V551.4M1859.3 549.6V551.4M1861.6 549.6V551.4M1863.9 549.6V551.4M1866.2 549.6V551.4M1868.5 549.6V551.4M1870.8 549.6V551.4M1873.1 549.6V551.4M1875.4 549.6V551.4M1877.8 549.6V551.4M1880.1 549.6V551.4M1882.4 549.6V551.4M1884.7 549.6V551.4M1887 549.6V551.4M1889.3 549.6V551.4M1891.6 549.6V551.4M1893.9 549.6V551.4M1896.2 549.6V551.4M1898.5 549.6V551.4M1900.8 549.6V551.4M1903.1 549.6V551.4M1905.5 549.6V551.4M1907.8 549.6V551.4M1910.1 549.6V551.4M1912.4 549.6V551.4M1914.7 549.6V551.4M1917 549.6V551.4M1919.3 549.6V551.4M1921.6 549.6V551.4M1923.9 549.6V551.4M1926.2 549.6V551.4M1928.5 549.6V551.4M1930.8 549.6V551.4M1933.1 549.6V551.4M1935.5 549.6V551.4M1937.8 549.6V551.4M1940.1 549.6V551.4M1942.4 549.6V551.4M1944.7 549.6V551.4M1947 549.6V551.4M1949.3 549.6V551.4M1951.6 549.6V551.4M1953.9 549.6V551.4M1956.2 549.6V551.4M1958.5 549.6V551.4M1960.8 549.6V551.4M1963.2 549.6V551.4M1965.5 549.6V551.4M1967.8 549.6V551.4M1970.1 549.6V551.4M1972.4 549.6V551.4M1974.7 549.6V551.4M1977 549.6V551.4M1979.3 549.6V551.4M1981.6 549.6V551.4M1983.9 549.6V551.4M1986.2 549.6V551.4M1988.5 549.6V551.4M1990.8 549.6V551.4M1993.2 549.6V551.4M1995.5 549.6V551.4M1997.8 549.6V551.4M2000.1 549.6V551.4M2002.4 549.6V551.4M2004.7 549.6V551.4M2007 549.6V551.4M2009.3 549.6V551.4M2011.6 549.6V551.4M2013.9 549.6V551.4M2016.2 549.6V551.4M2018.5 549.6V551.4M2020.9 549.6V551.4M2023.2 549.6V551.4M2025.5 549.6V551.4M2027.8 549.6V551.4M2030.1 549.6V551.4M2032.4 549.6V551.4M2034.7 549.6V551.4M2037 549.6V551.4" stroke="#333" stroke-width="0.8" fill="none"/>
<path d="M1146.9 549.6H2038.8M1157.7 549.6V553.9M1169.2 549.6V556.1M1180.7 549.6V553.9M1192.3 549.6V553.9M1203.8 549.6V553.9M1215.4 549.6V553.9M1226.9 549.6V556.1M1238.4 549.6V553.9M1250 549.6V553.9M1261.5 549.6V553.9M1273.1 549.6V553.9M1284.6 549.6V556.1M1296.1 549.6V553.9M1307.7 549.6V553.9M1319.2 549.6V553.9M1330.8 549.6V553.9M1342.3 549.6V556.1M1353.8 549.6V553.9M1365.4 549.6V553.9M1376.9 549.6V553.9M1388.5 549.6V553.9M1400 549.6V556.1M1411.5 549.6V553.9M1423.1 549.6V553.9M1434.6 549.6V553.9M1446.2 549.6V553.9M1457.7 549.6V556.1M1469.2 549.6V553.9M1480.8 549.6V553.9M1492.3 549.6V553.9M1503.9 549.6V553.9M1515.4 549.6V556.1M1526.9 549.6V553.9M1538.5 549.6V553.9M1550 549.6V553.9M1561.6 549.6V553.9M1573.1 549.6V556.1M1584.6 549.6V553.9M1596.2 549.6V553.9M1607.7 549.6V553.9M1619.3 549.6V553.9M1630.8 549.6V556.1M1642.3 549.6V553.9M1653.9 549.6V553.9M1665.4 549.6V553.9M1677 549.6V553.9M1688.5 549.6V556.1M1700 549.6V553.9M1711.6 549.6V553.9M1723.1 549.6V553.9M1734.7 549.6V553.9M1746.2 549.6V556.1M1757.7 549.6V553.9M1769.3 549.6V553.9M1780.8 549.6V553.9M1792.4 549.6V553.9M1803.9 549.6V556.1M1815.4 549.6V553.9M1827 549.6V553.9M1838.5 549.6V553.9M1850.1 549.6V553.9M1861.6 549.6V556.1M1873.1 549.6V553.9M1884.7 549.6V553.9M1896.2 549.6V553.9M1907.8 549.6V553.9M1919.3 549.6V556.1M1930.8 549.6V553.9M1942.4 549.6V553.9M1953.9 549.6V553.9M1965.5 549.6V553.9M1977 549.6V556.1M1988.5 549.6V553.9M2000.1 549.6V553.9M2011.6 549.6V553.9M2023.2 549.6V553.9M2034.7 549.6V556.1" stroke="#111" stroke-width="1.4" fill="none"/>
<text x="1175.2" y="574.2" font-size="18" text-anchor="middle">400</text>
<text x="1232.9" y="574.2" font-size="18" text-anchor="middle">500</text>
<text x="1290.6" y="574.2" font-size="18" text-anchor="middle">600</text>
<text x="1348.3" y="574.2" font-size="18" text-anchor="middle">700</text>
<text x="1406" y="574.2" font-size="18" text-anchor="middle">800</text>
<text x="1463.7" y="574.2" font-size="18" text-anchor="middle">900</text>
<text x="1524.4" y="574.2" font-size="18" text-anchor="middle">1000</text>
<text x="1582.1" y="574.2" font-size="18" text-anchor="middle">1100</text>
<text x="1639.8" y="574.2" font-size="18" text-anchor="middle">1200</text>
<text x="1697.5" y="574.2" font-size="18" text-anchor="middle">1300</text>
<text x="1755.2" y="574.2" font-size="18" text-anchor="middle">1400</text>
<text x="1812.9" y="574.2" font-size="18" text-anchor="middle">1500</text>
<text x="1870.6" y="574.2" font-size="18" text-anchor="middle">1600</text>
<text x="1928.3" y="574.2" font-size="18" text-anchor="middle">1700</text>
<text x="1986" y="574.2" font-size="18" text-anchor="middle">1800</text>
<text x="2043.7" y="574.2" font-size="18" text-anchor="middle">1900</text>
<text x="1139.8" y="66.2" font-size="18" text-anchor="end" letter-spacing="0.7">100</text>
<text x="1139.8" y="312.2" font-size="18" text-anchor="end" letter-spacing="0.7">50</text>
<text x="1140.2" y="558.5" font-size="18" text-anchor="end">0</text>
<text transform="translate(1097,424) rotate(-90)" font-size="22.7" font-weight="bold">Relative abundance</text>
<text x="1600.3" y="603.4" font-size="22.7" font-weight="bold">m/z</text>
<path d="M1157.4 549.6V519.6M1158.4 549.6V522.2M1159.9 549.6V522.2M1169.2 549.6V515.9M1179.3 549.6V528.9M1184.8 549.6V504.6M1189.8 549.6V505.1M1191.3 549.6V520.4M1198.8 549.6V524.2M1209.4 549.6V520.9M1211.9 549.6V499.8M1214.9 549.6V527.2M1219.4 549.6V421.8M1222.7 549.6V484M1232.7 549.6V522.7M1235.7 549.6V454.4M1243.3 549.6V525.4M1249 549.6V519.1M1259.6 549.6V499.1M1263.3 549.6V441.9M1267.1 549.6V523.4M1269.6 549.6V465.7M1276.9 549.6V384.9M1277.4 549.6V502.1M1282.4 549.6V520.9M1294 549.6V522.2M1296.5 549.6V527.9M1301 549.6V492M1302.7 549.6V366.6M1303.2 549.6V499.6M1317.3 549.6V515.1M1329.6 549.6V520.2M1341.9 549.6V508.9M1343.6 549.6V480.3M1362 549.6V495.3M1370.5 549.6V522.7M1387.1 549.6V446.9M1388.1 549.6V517.1M1407.6 549.6V475.7M1417.2 549.6V481.3M1432.7 549.6V516.4M1434.5 549.6V520.9M1436.5 549.6V482.8M1483.7 549.6V459.4M1484.7 549.6V524.7M1492.4 549.6V522.2M1498.7 549.6V520.9M1504.2 549.6V401.5M1505 549.6V462.8M1510.3 549.6V511.5M1516.7 549.6V522.7M1532.9 549.6V518.5M1534 549.6V399.3M1534.8 549.6V468.3M1543.2 549.6V385.4M1544 549.6V468.3M1547.9 549.6V507.3M1550.7 549.6V510.1M1552.4 549.6V525.4M1575.7 549.6V521.8M1583 549.6V517.6M1591.1 549.6V510.1M1599.4 549.6V512.9M1600.3 549.6V467M1607.2 549.6V487.3M1621.1 549.6V442.7M1626.7 549.6V511.5M1635.1 549.6V506.5M1638.7 549.6V499M1643.4 549.6V499M1645.4 549.6V485.1M1650.4 549.6V441.9M1651.8 549.6V499M1661 549.6V501.8M1664.3 549.6V458M1671.3 549.6V500.4M1674.9 549.6V486.4M1678.2 549.6V492.9M1683 549.6V499.5M1686 549.6V504.6M1690.8 549.6V503.2M1693.5 549.6V487.8M1700.5 549.6V499M1701.9 549.6V455.8M1704.1 549.6V253.4M1705.2 549.6V361.1M1706.6 549.6V503.2M1716.4 549.6V376.5M1717.2 549.6V499M1721.9 549.6V504M1732 549.6V499.8M1757.6 549.6V490.6M1760.9 549.6V487.8M1763.2 549.6V512.9M1778.5 549.6V502.3M1781.3 549.6V482.3M1784.6 549.6V499M1794.3 549.6V503.7M1796.6 549.6V514.3M1798.8 549.6V468.3M1800.2 549.6V507.3M1805.8 549.6V492.6M1809.7 549.6V497.6M1837.5 549.6V489.2M1840.3 549.6V461.9M1841.7 549.6V471.1M1870.9 549.6V507.3M1903.8 549.6V412.7M1904.6 549.6V489.8M1924.7 549.6V472.5M1925.2 549.6V508.7M1961.4 549.6V482.3M1962.3 549.6V481.7M1980.9 549.6V499.5M2018 549.6V500.4M1292.9 549.6V60.2M1235.7 549.6V174.4M1387.1 549.6V166.9M1679.1 549.6V513M1680.2 549.6V515.4M1681.3 549.6V513.2M1630.4 549.6V521.5M1631.5 549.6V523.9M1632.6 549.6V522.6M1633.7 549.6V520.1M1699.2 549.6V522.1M1700.3 549.6V527.8M1701.4 549.6V525.8M1702.5 549.6V525.1M1703.1 549.6V527.8M1704.2 549.6V532.7M1705.3 549.6V529.1M1706.4 549.6V532.8M1628.1 549.6V531.3M1708.6 549.6V523.8M1709.7 549.6V527.3M1683.6 549.6V526M1684.7 549.6V531.9M1707.1 549.6V528.6M1708.2 549.6V530.2M1709.3 549.6V530.4M1710.4 549.6V531.1M1652.7 549.6V519.7M1633.4 549.6V518M1634.5 549.6V520M1635.6 549.6V518M1685.8 549.6V524.7M1705.8 549.6V523.2M1706.9 549.6V513.8M1708 549.6V519M1675.4 549.6V522.6M1679.1 549.6V532.6M1680.2 549.6V528.5M1665.9 549.6V519.6M1667 549.6V516.9M1668.1 549.6V515.3M1692 549.6V522.8M1693.1 549.6V511.6M1694.2 549.6V522.1M1654.6 549.6V524.2M1703.1 549.6V530.1M1703.6 549.6V525.6M1652.2 549.6V530.6M1640.9 549.6V535.9M1638.5 549.6V522.4M1709.7 549.6V534M1630.1 549.6V515.9M1670.8 549.6V528.7M1645.9 549.6V524.5M1695.4 549.6V527.6M1661.4 549.6V536.4M1702.9 549.6V536.9M1667.5 549.6V519.2" stroke="#222" stroke-width="1.1" fill="none"/>
<path d="M1235.7 549.6V453.1M1292.9 549.6V415.5M1387.1 549.6V431.8M1158.4 549.6V522.2M1159.7 549.6V522.2M1504.5 549.6V455.7M1534 549.6V468.3M1962.3 549.6V485.1M1840.9 549.6V471.1M1904.1 549.6V489.8M1484.2 549.6V524.7M1433.5 549.6V518.4M1704.7 549.6V457.2" stroke="#111" stroke-width="2" fill="none"/>
<text x="1218.7" y="84.6" font-size="20.5" fill="#2b7dbd">αb</text>
<text x="1242.1" y="89.6" font-size="11.8" fill="#2b7dbd">5</text>
<text x="1239.6" y="73.1" font-size="11.5" fill="#2b7dbd">+</text>
<text x="1209.8" y="107.8" font-size="16.3">614.29</text>
<line x1="1257.1" y1="85.8" x2="1292.9" y2="90.8" stroke="#1b75bb" stroke-width="4.3"/>
<text x="1221.2" y="150.6" font-size="20.5" fill="#2b7dbd">αb</text>
<text x="1244.6" y="155.6" font-size="11.8" fill="#2b7dbd">4</text>
<text x="1242.1" y="139.1" font-size="11.5" fill="#2b7dbd">+</text>
<text x="1210.3" y="173.5" font-size="16.3">515.23</text>
<text x="1375.8" y="144.3" font-size="20.5" fill="#2b7dbd">αb</text>
<text x="1399.2" y="149.3" font-size="11.8" fill="#2b7dbd">6</text>
<text x="1396.7" y="132.8" font-size="11.5" fill="#2b7dbd">+</text>
<text x="1365.4" y="166.5" font-size="16.3">777.36</text>
<text x="1514.3" y="227.9" font-size="20.5" fill="#b8293c">αy</text>
<text x="1537" y="235.5" font-size="11.3" fill="#b8293c">11</text>
<text x="1539.3" y="218.5" font-size="12.5" fill="#b8293c">+</text>
<text x="1250.8" y="320.2" font-size="20.5" fill="#b8293c">βy</text>
<text x="1273.4" y="327.8" font-size="11.3" fill="#b8293c">6</text>
<text x="1275.7" y="310.8" font-size="12.5" fill="#b8293c">+</text>
<text x="1237.9" y="344.4" font-size="16.3">563.23</text>
<line x1="1263.3" y1="353.3" x2="1261.8" y2="436.8" stroke="#c5222f" stroke-width="4.3"/>
<text x="1305.5" y="313.9" font-size="20.5" fill="#b8293c">αy</text>
<text x="1328.2" y="321.5" font-size="11.3" fill="#b8293c">7</text>
<text x="1330.5" y="304.5" font-size="12.5" fill="#b8293c">+</text>
<text x="1296.2" y="342.4" font-size="16.3">631.38</text>
<line x1="1312.8" y1="346.5" x2="1303" y2="365.3" stroke="#c5222f" stroke-width="4.3"/>
<text x="1410.9" y="324.7" font-size="20.5" fill="#b8293c">αy</text>
<text x="1433.6" y="332.3" font-size="11.3" fill="#b8293c">20</text>
<text x="1435.2" y="313.5" font-size="12.2" fill="#b8293c">2+</text>
<text x="1410.3" y="351.4" font-size="16.3">980.50</text>
<line x1="1459.8" y1="355.3" x2="1503" y2="400.5" stroke="#c5222f" stroke-width="4.3"/>
<text x="1481.7" y="335.7" font-size="20.5" fill="#2b7dbd">αb</text>
<text x="1505.1" y="340.7" font-size="11.8" fill="#2b7dbd">8</text>
<text x="1502.6" y="324.2" font-size="11.5" fill="#2b7dbd">+</text>
<text x="1469.3" y="355.7" font-size="16.3">1002.50</text>
<line x1="1507.5" y1="361.1" x2="1516" y2="518.9" stroke="#1b75bb" stroke-width="4.3"/>
<text x="1441" y="404.2" font-size="20.5" fill="#b8293c">αy</text>
<text x="1463.7" y="411.8" font-size="11.3" fill="#b8293c">19</text>
<text x="1465.3" y="393" font-size="12.2" fill="#b8293c">2+</text>
<text x="1438.2" y="428.5" font-size="16.3">944.98</text>
<line x1="1469.9" y1="434.3" x2="1482.9" y2="458.7" stroke="#c5222f" stroke-width="4.3"/>
<text x="1558.5" y="308.2" font-size="20.5" fill="#b8293c">βy</text>
<text x="1581.1" y="315.8" font-size="11.3" fill="#b8293c">11</text>
<text x="1583.4" y="298.8" font-size="12.5" fill="#b8293c">+</text>
<text x="1544.3" y="331.5" font-size="16.3">1048.41</text>
<line x1="1566.3" y1="340.3" x2="1544" y2="382" stroke="#c5222f" stroke-width="4.3"/>
<text x="1628.7" y="376.5" font-size="20.5" fill="#b8293c">αy</text>
<text x="1651.4" y="384.1" font-size="11.3" fill="#b8293c">13</text>
<text x="1653.7" y="367.1" font-size="12.5" fill="#b8293c">+</text>
<text x="1626.4" y="401.9" font-size="16.3">1234.60</text>
<line x1="1650.4" y1="410.4" x2="1651.8" y2="441.1" stroke="#c5222f" stroke-width="4.3"/>
<text x="1762.3" y="414" font-size="20.5" fill="#b8293c">αy</text>
<text x="1785" y="421.6" font-size="11.3" fill="#b8293c">15</text>
<text x="1787.3" y="404.6" font-size="12.5" fill="#b8293c">+</text>
<text x="1758.1" y="443.1" font-size="16.3">1461.70</text>
<line x1="1779.9" y1="451.6" x2="1781.3" y2="478.1" stroke="#c5222f" stroke-width="4.3"/>
<text x="1819.7" y="396.5" font-size="20.5" fill="#b8293c">αy</text>
<text x="1842.4" y="404.1" font-size="11.3" fill="#b8293c">16</text>
<text x="1844.7" y="387.1" font-size="12.5" fill="#b8293c">+</text>
<text x="1817.2" y="424.7" font-size="16.3">1564.77</text>
<line x1="1839.2" y1="433.5" x2="1840.6" y2="460" stroke="#c5222f" stroke-width="4.3"/>
<text x="1886.5" y="384.8" font-size="20.5" fill="#2b7dbd">αb</text>
<text x="1910" y="389.8" font-size="11.8" fill="#2b7dbd">13</text>
<text x="1909.3" y="373.4" font-size="12.2" fill="#2b7dbd">2+</text>
<text x="1877.9" y="406.6" font-size="16.3">1673.27</text>
<text x="1982.3" y="384.8" font-size="20.5" fill="#2b7dbd">αb</text>
<text x="2005.8" y="389.8" font-size="11.8" fill="#2b7dbd">17</text>
<text x="2005.1" y="373.4" font-size="12.2" fill="#2b7dbd">2+</text>
<text x="1962.8" y="408.3" font-size="16.3">1871.90</text>
<line x1="1995.7" y1="417.4" x2="2018.5" y2="497.6" stroke="#1b75bb" stroke-width="4.3"/>
<text x="1909.4" y="446.1" font-size="20.5" fill="#2b7dbd">αb</text>
<text x="1932.8" y="451.1" font-size="11.8" fill="#2b7dbd">14</text>
<text x="1932.1" y="434.7" font-size="12.2" fill="#2b7dbd">2+</text>
<text x="1901.3" y="470.1" font-size="16.3">1708.79</text>
<text x="1965.9" y="465.6" font-size="20.5" fill="#2b7dbd">αb</text>
<text x="1989.3" y="470.6" font-size="11.8" fill="#2b7dbd">16</text>
<text x="1988.6" y="454.2" font-size="12.2" fill="#2b7dbd">2+</text>
<text x="1962.8" y="490.5" font-size="16.3">1807.86</text>
<text x="1507.5" y="260.5" font-size="16.3">1032.54</text>
<line x1="1532" y1="269.2" x2="1533.4" y2="395.4" stroke="#c5222f" stroke-width="4.3"/>
<text x="1351.9" y="62.7" font-size="24.5" font-weight="bold">YDVH</text>
<text x="1428.5" y="62.7" font-size="24.5" font-weight="bold">V</text>
<text x="1452.8" y="62.7" font-size="24.5" font-weight="bold">Y</text>
<text x="1475.4" y="62.7" font-size="24.5" font-weight="bold">PK</text>
<text x="1516.5" y="62.7" font-size="24.5" font-weight="bold">NQEVD</text>
<text x="1610.8" y="62.7" font-size="24.5" font-weight="bold">A</text>
<text x="1636.4" y="62.7" font-size="24.5" font-weight="bold">PT</text>
<text x="1674.9" y="62.7" font-size="24.5" font-weight="bold">K</text>
<text x="1699.9" y="62.7" font-size="24.5" font-weight="bold">T</text>
<text x="1722.8" y="62.7" font-size="24.5" font-weight="bold">IN</text>
<text x="1754" y="62.7" font-size="24.5" font-weight="bold">SD</text>
<text x="1794.6" y="62.7" font-size="24.5" font-weight="bold">SDQA</text>
<text x="1873.2" y="62.7" font-size="24.5" font-weight="bold">GKGLTVG</text>
<path d="M1414.4 34.7H1425.7V71.3" stroke="#7e7e7e" stroke-width="1.8" fill="none"/>
<path d="M1438.5 34.7H1449.5V71.3" stroke="#7e7e7e" stroke-width="1.8" fill="none"/>
<path d="M1461.6 34.7H1472.1V71.3" stroke="#7e7e7e" stroke-width="1.8" fill="none"/>
<path d="M1499.2 34.7H1510.4V71.3" stroke="#7e7e7e" stroke-width="1.8" fill="none"/>
<path d="M1661.5 34.7H1671.8V71.3" stroke="#7e7e7e" stroke-width="1.8" fill="none"/>
<path d="M1596 34.7H1608V69.8H1619" stroke="#7e7e7e" stroke-width="1.8" fill="none"/>
<path d="M1622.5 34.7H1633.1V69.8H1644.1" stroke="#7e7e7e" stroke-width="1.8" fill="none"/>
<path d="M1685.2 34.7H1696.3V69.8H1707.3" stroke="#7e7e7e" stroke-width="1.8" fill="none"/>
<path d="M1717.8 34.7V69.8H1728.8" stroke="#7e7e7e" stroke-width="1.8" fill="none"/>
<path d="M1750.6 34.7V69.8H1761.6" stroke="#7e7e7e" stroke-width="1.8" fill="none"/>
<path d="M1788.8 34.7V69.8H1799.8" stroke="#7e7e7e" stroke-width="1.8" fill="none"/>
<path d="M1867.6 34.7V69.8H1878.6" stroke="#7e7e7e" stroke-width="1.8" fill="none"/>
<text x="1413.4" y="26.4" font-size="19.5" fill="#2b7dbd">b</text>
<text x="1423.4" y="30" font-size="11.3" fill="#2b7dbd" letter-spacing="-0.6">4</text>
<text x="1437" y="26.4" font-size="19.5" fill="#2b7dbd">b</text>
<text x="1447" y="30" font-size="11.3" fill="#2b7dbd" letter-spacing="-0.6">5</text>
<text x="1460.3" y="26.4" font-size="19.5" fill="#2b7dbd">b</text>
<text x="1470.3" y="30" font-size="11.3" fill="#2b7dbd" letter-spacing="-0.6">6</text>
<text x="1495.5" y="26.4" font-size="19.5" fill="#2b7dbd">b</text>
<text x="1505.5" y="30" font-size="11.3" fill="#2b7dbd" letter-spacing="-0.6">8</text>
<text x="1590.5" y="26.4" font-size="19.5" fill="#2b7dbd">b</text>
<text x="1600.5" y="30" font-size="11.3" fill="#2b7dbd" letter-spacing="-0.6">13</text>
<text x="1619.2" y="26.4" font-size="19.5" fill="#2b7dbd">b</text>
<text x="1629.2" y="30" font-size="11.3" fill="#2b7dbd" letter-spacing="-0.6">14</text>
<text x="1651.2" y="26.4" font-size="19.5" fill="#2b7dbd">b</text>
<text x="1661.2" y="30" font-size="11.3" fill="#2b7dbd" letter-spacing="-0.6">16</text>
<text x="1682.4" y="26.4" font-size="19.5" fill="#2b7dbd">b</text>
<text x="1692.4" y="30" font-size="11.3" fill="#2b7dbd" letter-spacing="-0.6">17</text>
<text x="1609.2" y="84.9" font-size="19.5" fill="#b8293c">y</text>
<text x="1618.2" y="88.5" font-size="11.3" fill="#b8293c" letter-spacing="-0.6">20</text>
<text x="1633.7" y="84.9" font-size="19.5" fill="#b8293c">y</text>
<text x="1642.7" y="88.5" font-size="11.3" fill="#b8293c" letter-spacing="-0.6">19</text>
<text x="1694.9" y="84.9" font-size="19.5" fill="#b8293c">y</text>
<text x="1703.9" y="88.5" font-size="11.3" fill="#b8293c" letter-spacing="-0.6">16</text>
<text x="1720" y="84.9" font-size="19.5" fill="#b8293c">y</text>
<text x="1729" y="88.5" font-size="11.3" fill="#b8293c" letter-spacing="-0.6">15</text>
<text x="1753.4" y="84.9" font-size="19.5" fill="#b8293c">y</text>
<text x="1762.4" y="88.5" font-size="11.3" fill="#b8293c" letter-spacing="-0.6">13</text>
<text x="1789.6" y="84.9" font-size="19.5" fill="#b8293c">y</text>
<text x="1798.5" y="88.5" font-size="11.3" fill="#b8293c" letter-spacing="-0.6">11</text>
<text x="1869" y="89.1" font-size="19.5" fill="#b8293c">y</text>
<text x="1878" y="92.7" font-size="11.3" fill="#b8293c" letter-spacing="-0.6">7</text>
<line x1="1524.4" y1="71" x2="1524.4" y2="97.7" stroke="#dfca6d" stroke-width="4.6"/>
<text x="1471.1" y="124" font-size="24.5" font-weight="bold">TVHKYV</text>
<text x="1578.8" y="124" font-size="24.5" font-weight="bold">GQEGN</text>
<text x="1677.7" y="124" font-size="24.5" font-weight="bold">AGTGEE</text>
<path d="M1574.4 97.5V135.1H1585.8" stroke="#7e7e7e" stroke-width="1.8" fill="none"/>
<path d="M1674 97.5V135.1H1685.2" stroke="#7e7e7e" stroke-width="1.8" fill="none"/>
<text x="1574.6" y="151.8" font-size="19.5" fill="#b8293c">y</text>
<text x="1583.5" y="155.4" font-size="11.3" fill="#b8293c" letter-spacing="-0.6">11</text>
<text x="1666.2" y="151.8" font-size="19.5" fill="#b8293c">y</text>
<text x="1675.2" y="155.4" font-size="11.3" fill="#b8293c" letter-spacing="-0.6">6</text>
<text x="2020.7" y="62.7" font-size="22.7" font-weight="bold">(α)</text>
<text x="2020.7" y="123.9" font-size="22.7" font-weight="bold">(β)</text>
<rect x="1856.4" y="197.2" width="141.5" height="64" fill="#efd3cd" stroke="#444" stroke-width="1.2"/>
<line x1="1875.4" y1="197.2" x2="1875.4" y2="207.7" stroke="#111" stroke-width="1.4"/>
<line x1="1875.4" y1="249.7" x2="1875.4" y2="261.2" stroke="#111" stroke-width="1.4"/>
<line x1="1925.5" y1="197.2" x2="1925.5" y2="207.7" stroke="#111" stroke-width="1.4"/>
<line x1="1925.5" y1="249.7" x2="1925.5" y2="261.2" stroke="#111" stroke-width="1.4"/>
<line x1="1978.4" y1="197.2" x2="1978.4" y2="207.7" stroke="#111" stroke-width="1.4"/>
<line x1="1978.4" y1="249.7" x2="1978.4" y2="261.2" stroke="#111" stroke-width="1.4"/>
<text x="1866.5" y="237.2" font-size="30" font-weight="bold">K</text>
<text x="1918.8" y="237.2" font-size="19.5" font-weight="bold" fill="#c5222f">E</text>
<text x="1967.5" y="237.2" font-size="30" font-weight="bold">N</text>
<text x="1865.4" y="280.2" font-size="19.6" font-weight="bold">57</text>
<text x="1912.5" y="280.2" font-size="19.6" font-weight="bold">158</text>
<text x="1965.4" y="280.2" font-size="19.6" font-weight="bold">195</text>
<path d="M1873.9 195.7C1888.7 151.3 1965.1 151.3 1979.9 195.7" stroke="#dfca6d" stroke-width="5" fill="none"/>
<text x="1028.4" y="671.2" font-size="51" font-weight="bold">e</text>
<path d="M1149.2 717.4V1154M1149.2 1154H1143.2M1149.2 1149.6H1145.6M1149.2 1145.3H1145.6M1149.2 1140.9H1145.6M1149.2 1136.6H1145.6M1149.2 1132.2H1144M1149.2 1127.8H1145.6M1149.2 1123.5H1145.6M1149.2 1119.1H1145.6M1149.2 1114.8H1145.6M1149.2 1110.4H1143.2M1149.2 1106H1145.6M1149.2 1101.7H1145.6M1149.2 1097.3H1145.6M1149.2 1092.9H1145.6M1149.2 1088.6H1144M1149.2 1084.2H1145.6M1149.2 1079.9H1145.6M1149.2 1075.5H1145.6M1149.2 1071.1H1145.6M1149.2 1066.8H1143.2M1149.2 1062.4H1145.6M1149.2 1058.1H1145.6M1149.2 1053.7H1145.6M1149.2 1049.3H1145.6M1149.2 1045H1144M1149.2 1040.6H1145.6M1149.2 1036.3H1145.6M1149.2 1031.9H1145.6M1149.2 1027.5H1145.6M1149.2 1023.2H1143.2M1149.2 1018.8H1145.6M1149.2 1014.4H1145.6M1149.2 1010.1H1145.6M1149.2 1005.7H1145.6M1149.2 1001.4H1144M1149.2 997H1145.6M1149.2 992.6H1145.6M1149.2 988.3H1145.6M1149.2 983.9H1145.6M1149.2 979.6H1143.2M1149.2 975.2H1145.6M1149.2 970.8H1145.6M1149.2 966.5H1145.6M1149.2 962.1H1145.6M1149.2 957.8H1144M1149.2 953.4H1145.6M1149.2 949H1145.6M1149.2 944.7H1145.6M1149.2 940.3H1145.6M1149.2 936H1143.2M1149.2 931.6H1145.6M1149.2 927.2H1145.6M1149.2 922.9H1145.6M1149.2 918.5H1145.6M1149.2 914.1H1144M1149.2 909.8H1145.6M1149.2 905.4H1145.6M1149.2 901.1H1145.6M1149.2 896.7H1145.6M1149.2 892.3H1143.2M1149.2 888H1145.6M1149.2 883.6H1145.6M1149.2 879.3H1145.6M1149.2 874.9H1145.6M1149.2 870.5H1144M1149.2 866.2H1145.6M1149.2 861.8H1145.6M1149.2 857.5H1145.6M1149.2 853.1H1145.6M1149.2 848.7H1143.2M1149.2 844.4H1145.6M1149.2 840H1145.6M1149.2 835.6H1145.6M1149.2 831.3H1145.6M1149.2 826.9H1144M1149.2 822.6H1145.6M1149.2 818.2H1145.6M1149.2 813.8H1145.6M1149.2 809.5H1145.6M1149.2 805.1H1143.2M1149.2 800.8H1145.6M1149.2 796.4H1145.6M1149.2 792H1145.6M1149.2 787.7H1145.6M1149.2 783.3H1144M1149.2 779H1145.6M1149.2 774.6H1145.6M1149.2 770.2H1145.6M1149.2 765.9H1145.6M1149.2 761.5H1143.2M1149.2 757.1H1145.6M1149.2 752.8H1145.6M1149.2 748.4H1145.6M1149.2 744.1H1145.6M1149.2 739.7H1144M1149.2 735.3H1145.6M1149.2 731H1145.6M1149.2 726.6H1145.6M1149.2 722.3H1145.6M1149.2 717.9H1143.2" stroke="#222" stroke-width="1.4" fill="none"/>
<path d="M1150.6 1154V1155.8M1152.9 1154V1155.8M1155.3 1154V1155.8M1157.6 1154V1155.8M1160 1154V1155.8M1162.3 1154V1155.8M1164.7 1154V1155.8M1167.1 1154V1155.8M1169.4 1154V1155.8M1171.8 1154V1155.8M1174.1 1154V1155.8M1176.5 1154V1155.8M1178.8 1154V1155.8M1181.2 1154V1155.8M1183.5 1154V1155.8M1185.9 1154V1155.8M1188.2 1154V1155.8M1190.6 1154V1155.8M1192.9 1154V1155.8M1195.3 1154V1155.8M1197.6 1154V1155.8M1200 1154V1155.8M1202.3 1154V1155.8M1204.7 1154V1155.8M1207 1154V1155.8M1209.4 1154V1155.8M1211.7 1154V1155.8M1214.1 1154V1155.8M1216.4 1154V1155.8M1218.8 1154V1155.8M1221.1 1154V1155.8M1223.5 1154V1155.8M1225.8 1154V1155.8M1228.2 1154V1155.8M1230.5 1154V1155.8M1232.9 1154V1155.8M1235.2 1154V1155.8M1237.6 1154V1155.8M1239.9 1154V1155.8M1242.3 1154V1155.8M1244.6 1154V1155.8M1247 1154V1155.8M1249.3 1154V1155.8M1251.7 1154V1155.8M1254 1154V1155.8M1256.4 1154V1155.8M1258.7 1154V1155.8M1261.1 1154V1155.8M1263.4 1154V1155.8M1265.8 1154V1155.8M1268.1 1154V1155.8M1270.5 1154V1155.8M1272.8 1154V1155.8M1275.2 1154V1155.8M1277.5 1154V1155.8M1279.9 1154V1155.8M1282.2 1154V1155.8M1284.6 1154V1155.8M1286.9 1154V1155.8M1289.3 1154V1155.8M1291.6 1154V1155.8M1294 1154V1155.8M1296.3 1154V1155.8M1298.7 1154V1155.8M1301 1154V1155.8M1303.4 1154V1155.8M1305.7 1154V1155.8M1308.1 1154V1155.8M1310.4 1154V1155.8M1312.8 1154V1155.8M1315.2 1154V1155.8M1317.5 1154V1155.8M1319.9 1154V1155.8M1322.2 1154V1155.8M1324.6 1154V1155.8M1326.9 1154V1155.8M1329.3 1154V1155.8M1331.6 1154V1155.8M1334 1154V1155.8M1336.3 1154V1155.8M1338.7 1154V1155.8M1341 1154V1155.8M1343.4 1154V1155.8M1345.7 1154V1155.8M1348.1 1154V1155.8M1350.4 1154V1155.8M1352.8 1154V1155.8M1355.1 1154V1155.8M1357.5 1154V1155.8M1359.8 1154V1155.8M1362.2 1154V1155.8M1364.5 1154V1155.8M1366.9 1154V1155.8M1369.2 1154V1155.8M1371.6 1154V1155.8M1373.9 1154V1155.8M1376.3 1154V1155.8M1378.6 1154V1155.8M1381 1154V1155.8M1383.3 1154V1155.8M1385.7 1154V1155.8M1388 1154V1155.8M1390.4 1154V1155.8M1392.7 1154V1155.8M1395.1 1154V1155.8M1397.4 1154V1155.8M1399.8 1154V1155.8M1402.1 1154V1155.8M1404.5 1154V1155.8M1406.8 1154V1155.8M1409.2 1154V1155.8M1411.5 1154V1155.8M1413.9 1154V1155.8M1416.2 1154V1155.8M1418.6 1154V1155.8M1420.9 1154V1155.8M1423.3 1154V1155.8M1425.6 1154V1155.8M1428 1154V1155.8M1430.3 1154V1155.8M1432.7 1154V1155.8M1435 1154V1155.8M1437.4 1154V1155.8M1439.7 1154V1155.8M1442.1 1154V1155.8M1444.4 1154V1155.8M1446.8 1154V1155.8M1449.1 1154V1155.8M1451.5 1154V1155.8M1453.8 1154V1155.8M1456.2 1154V1155.8M1458.5 1154V1155.8M1460.9 1154V1155.8M1463.3 1154V1155.8M1465.6 1154V1155.8M1468 1154V1155.8M1470.3 1154V1155.8M1472.7 1154V1155.8M1475 1154V1155.8M1477.4 1154V1155.8M1479.7 1154V1155.8M1482.1 1154V1155.8M1484.4 1154V1155.8M1486.8 1154V1155.8M1489.1 1154V1155.8M1491.5 1154V1155.8M1493.8 1154V1155.8M1496.2 1154V1155.8M1498.5 1154V1155.8M1500.9 1154V1155.8M1503.2 1154V1155.8M1505.6 1154V1155.8M1507.9 1154V1155.8M1510.3 1154V1155.8M1512.6 1154V1155.8M1515 1154V1155.8M1517.3 1154V1155.8M1519.7 1154V1155.8M1522 1154V1155.8M1524.4 1154V1155.8M1526.7 1154V1155.8M1529.1 1154V1155.8M1531.4 1154V1155.8M1533.8 1154V1155.8M1536.1 1154V1155.8M1538.5 1154V1155.8M1540.8 1154V1155.8M1543.2 1154V1155.8M1545.5 1154V1155.8M1547.9 1154V1155.8M1550.2 1154V1155.8M1552.6 1154V1155.8M1554.9 1154V1155.8M1557.3 1154V1155.8M1559.6 1154V1155.8M1562 1154V1155.8M1564.3 1154V1155.8M1566.7 1154V1155.8M1569 1154V1155.8M1571.4 1154V1155.8M1573.7 1154V1155.8M1576.1 1154V1155.8M1578.4 1154V1155.8M1580.8 1154V1155.8M1583.1 1154V1155.8M1585.5 1154V1155.8M1587.8 1154V1155.8M1590.2 1154V1155.8M1592.5 1154V1155.8M1594.9 1154V1155.8M1597.2 1154V1155.8M1599.6 1154V1155.8M1601.9 1154V1155.8M1604.3 1154V1155.8M1606.7 1154V1155.8M1609 1154V1155.8M1611.4 1154V1155.8M1613.7 1154V1155.8M1616.1 1154V1155.8M1618.4 1154V1155.8M1620.8 1154V1155.8M1623.1 1154V1155.8M1625.5 1154V1155.8M1627.8 1154V1155.8M1630.2 1154V1155.8M1632.5 1154V1155.8M1634.9 1154V1155.8M1637.2 1154V1155.8M1639.6 1154V1155.8M1641.9 1154V1155.8M1644.3 1154V1155.8M1646.6 1154V1155.8M1649 1154V1155.8M1651.3 1154V1155.8M1653.7 1154V1155.8M1656 1154V1155.8M1658.4 1154V1155.8M1660.7 1154V1155.8M1663.1 1154V1155.8M1665.4 1154V1155.8M1667.8 1154V1155.8M1670.1 1154V1155.8M1672.5 1154V1155.8M1674.8 1154V1155.8M1677.2 1154V1155.8M1679.5 1154V1155.8M1681.9 1154V1155.8M1684.2 1154V1155.8M1686.6 1154V1155.8M1688.9 1154V1155.8M1691.3 1154V1155.8M1693.6 1154V1155.8M1696 1154V1155.8M1698.3 1154V1155.8M1700.7 1154V1155.8M1703 1154V1155.8M1705.4 1154V1155.8M1707.7 1154V1155.8M1710.1 1154V1155.8M1712.4 1154V1155.8M1714.8 1154V1155.8M1717.1 1154V1155.8M1719.5 1154V1155.8M1721.8 1154V1155.8M1724.2 1154V1155.8M1726.5 1154V1155.8M1728.9 1154V1155.8M1731.2 1154V1155.8M1733.6 1154V1155.8M1735.9 1154V1155.8M1738.3 1154V1155.8M1740.6 1154V1155.8M1743 1154V1155.8M1745.3 1154V1155.8M1747.7 1154V1155.8M1750 1154V1155.8M1752.4 1154V1155.8M1754.8 1154V1155.8M1757.1 1154V1155.8M1759.5 1154V1155.8M1761.8 1154V1155.8M1764.2 1154V1155.8M1766.5 1154V1155.8M1768.9 1154V1155.8M1771.2 1154V1155.8M1773.6 1154V1155.8M1775.9 1154V1155.8M1778.3 1154V1155.8M1780.6 1154V1155.8M1783 1154V1155.8M1785.3 1154V1155.8M1787.7 1154V1155.8M1790 1154V1155.8M1792.4 1154V1155.8M1794.7 1154V1155.8M1797.1 1154V1155.8M1799.4 1154V1155.8M1801.8 1154V1155.8M1804.1 1154V1155.8M1806.5 1154V1155.8M1808.8 1154V1155.8M1811.2 1154V1155.8M1813.5 1154V1155.8M1815.9 1154V1155.8M1818.2 1154V1155.8M1820.6 1154V1155.8M1822.9 1154V1155.8M1825.3 1154V1155.8M1827.6 1154V1155.8M1830 1154V1155.8M1832.3 1154V1155.8M1834.7 1154V1155.8M1837 1154V1155.8M1839.4 1154V1155.8M1841.7 1154V1155.8M1844.1 1154V1155.8M1846.4 1154V1155.8M1848.8 1154V1155.8M1851.1 1154V1155.8M1853.5 1154V1155.8M1855.8 1154V1155.8M1858.2 1154V1155.8M1860.5 1154V1155.8M1862.9 1154V1155.8M1865.2 1154V1155.8M1867.6 1154V1155.8M1869.9 1154V1155.8M1872.3 1154V1155.8M1874.6 1154V1155.8M1877 1154V1155.8M1879.3 1154V1155.8M1881.7 1154V1155.8M1884 1154V1155.8M1886.4 1154V1155.8M1888.7 1154V1155.8M1891.1 1154V1155.8M1893.4 1154V1155.8M1895.8 1154V1155.8M1898.1 1154V1155.8M1900.5 1154V1155.8M1902.9 1154V1155.8M1905.2 1154V1155.8M1907.6 1154V1155.8M1909.9 1154V1155.8M1912.3 1154V1155.8M1914.6 1154V1155.8M1917 1154V1155.8M1919.3 1154V1155.8M1921.7 1154V1155.8M1924 1154V1155.8M1926.4 1154V1155.8M1928.7 1154V1155.8M1931.1 1154V1155.8M1933.4 1154V1155.8M1935.8 1154V1155.8M1938.1 1154V1155.8M1940.5 1154V1155.8M1942.8 1154V1155.8M1945.2 1154V1155.8M1947.5 1154V1155.8M1949.9 1154V1155.8M1952.2 1154V1155.8M1954.6 1154V1155.8M1956.9 1154V1155.8M1959.3 1154V1155.8M1961.6 1154V1155.8M1964 1154V1155.8M1966.3 1154V1155.8M1968.7 1154V1155.8M1971 1154V1155.8M1973.4 1154V1155.8M1975.7 1154V1155.8M1978.1 1154V1155.8M1980.4 1154V1155.8M1982.8 1154V1155.8M1985.1 1154V1155.8M1987.5 1154V1155.8M1989.8 1154V1155.8M1992.2 1154V1155.8M1994.5 1154V1155.8M1996.9 1154V1155.8M1999.2 1154V1155.8M2001.6 1154V1155.8M2003.9 1154V1155.8M2006.3 1154V1155.8M2008.6 1154V1155.8M2011 1154V1155.8M2013.3 1154V1155.8M2015.7 1154V1155.8M2018 1154V1155.8M2020.4 1154V1155.8M2022.7 1154V1155.8M2025.1 1154V1155.8M2027.4 1154V1155.8M2029.8 1154V1155.8M2032.1 1154V1155.8M2034.5 1154V1155.8M2036.8 1154V1155.8M2039.2 1154V1155.8M2041.5 1154V1155.8M2043.9 1154V1155.8M2046.2 1154V1155.8M2048.6 1154V1155.8" stroke="#333" stroke-width="0.8" fill="none"/>
<path d="M1148.2 1154H2049.1M1152.9 1154V1158.3M1164.7 1154V1160.5M1176.5 1154V1158.3M1188.2 1154V1158.3M1200 1154V1158.3M1211.7 1154V1158.3M1223.5 1154V1160.5M1235.2 1154V1158.3M1247 1154V1158.3M1258.7 1154V1158.3M1270.5 1154V1158.3M1282.2 1154V1160.5M1294 1154V1158.3M1305.7 1154V1158.3M1317.5 1154V1158.3M1329.3 1154V1158.3M1341 1154V1160.5M1352.8 1154V1158.3M1364.5 1154V1158.3M1376.3 1154V1158.3M1388 1154V1158.3M1399.8 1154V1160.5M1411.5 1154V1158.3M1423.3 1154V1158.3M1435 1154V1158.3M1446.8 1154V1158.3M1458.5 1154V1160.5M1470.3 1154V1158.3M1482.1 1154V1158.3M1493.8 1154V1158.3M1505.6 1154V1158.3M1517.3 1154V1160.5M1529.1 1154V1158.3M1540.8 1154V1158.3M1552.6 1154V1158.3M1564.3 1154V1158.3M1576.1 1154V1160.5M1587.8 1154V1158.3M1599.6 1154V1158.3M1611.4 1154V1158.3M1623.1 1154V1158.3M1634.9 1154V1160.5M1646.6 1154V1158.3M1658.4 1154V1158.3M1670.1 1154V1158.3M1681.9 1154V1158.3M1693.6 1154V1160.5M1705.4 1154V1158.3M1717.1 1154V1158.3M1728.9 1154V1158.3M1740.6 1154V1158.3M1752.4 1154V1160.5M1764.2 1154V1158.3M1775.9 1154V1158.3M1787.7 1154V1158.3M1799.4 1154V1158.3M1811.2 1154V1160.5M1822.9 1154V1158.3M1834.7 1154V1158.3M1846.4 1154V1158.3M1858.2 1154V1158.3M1869.9 1154V1160.5M1881.7 1154V1158.3M1893.4 1154V1158.3M1905.2 1154V1158.3M1917 1154V1158.3M1928.7 1154V1160.5M1940.5 1154V1158.3M1952.2 1154V1158.3M1964 1154V1158.3M1975.7 1154V1158.3M1987.5 1154V1160.5M1999.2 1154V1158.3M2011 1154V1158.3M2022.7 1154V1158.3M2034.5 1154V1158.3M2046.2 1154V1160.5" stroke="#111" stroke-width="1.4" fill="none"/>
<text x="1170.3" y="1175.6" font-size="18" text-anchor="middle">300</text>
<text x="1229.1" y="1175.6" font-size="18" text-anchor="middle">400</text>
<text x="1287.8" y="1175.6" font-size="18" text-anchor="middle">500</text>
<text x="1346.6" y="1175.6" font-size="18" text-anchor="middle">600</text>
<text x="1405.4" y="1175.6" font-size="18" text-anchor="middle">700</text>
<text x="1464.2" y="1175.6" font-size="18" text-anchor="middle">800</text>
<text x="1522.9" y="1175.6" font-size="18" text-anchor="middle">900</text>
<text x="1585.1" y="1175.6" font-size="18" text-anchor="middle">1000</text>
<text x="1643.9" y="1175.6" font-size="18" text-anchor="middle">1100</text>
<text x="1702.6" y="1175.6" font-size="18" text-anchor="middle">1200</text>
<text x="1761.4" y="1175.6" font-size="18" text-anchor="middle">1300</text>
<text x="1820.2" y="1175.6" font-size="18" text-anchor="middle">1400</text>
<text x="1878.9" y="1175.6" font-size="18" text-anchor="middle">1500</text>
<text x="1937.7" y="1175.6" font-size="18" text-anchor="middle">1600</text>
<text x="1996.5" y="1175.6" font-size="18" text-anchor="middle">1700</text>
<text x="2055.2" y="1175.6" font-size="18" text-anchor="middle">1800</text>
<text x="1139.8" y="724.2" font-size="18" text-anchor="end" letter-spacing="0.7">100</text>
<text x="1139.8" y="944.6" font-size="18" text-anchor="end" letter-spacing="0.7">50</text>
<text x="1126" y="1162.2" font-size="13.5" font-weight="bold">0</text>
<text transform="translate(1096.3,1055.2) rotate(-90)" font-size="22.7" font-weight="bold">Relative abundance</text>
<text x="1592.7" y="1203.5" font-size="22.7" font-weight="bold">m/z</text>
<path d="M1157.2 1154V1148.4M1174.8 1154V1145.9M1180 1154V1149.7M1190.6 1154V1123.3M1199.8 1154V1100.8M1216.9 1154V1149.7M1220.7 1154V1149.2M1228.7 1154V1150.2M1233.5 1154V1021.2M1240 1154V1149.7M1247 1154V1149.7M1283.4 1154V1120.3M1298.5 1154V1146.4M1309.3 1154V1120.8M1316 1154V1144.7M1339.4 1154V1145.2M1350.7 1154V1147.2M1360.5 1154V1104.5M1375.8 1154V1145.2M1393.8 1154V1120.1M1440.8 1154V1113.8M1458.3 1154V1145.2M1464.8 1154V1150.2M1486.7 1154V1149.2M1491.7 1154V1145.2M1500.5 1154V1147.2M1575.7 1154V1142.8M1603 1154V1144.5M1609.4 1154V1145.1M1612.2 1154V1146.4M1638.4 1154V1147.8M1647.6 1154V1146.4M1653.7 1154V1146.4M1669 1154V1147.8M1673.2 1154V1146.4M1725 1154V1134.5M1749.5 1154V1137.3M1759.3 1154V1147.3M1802.4 1154V1145.1M1831.9 1154V1145.9M1838.3 1154V1131.7M1852.8 1154V1145.1M1906 1154V1138.9M1949.2 1154V1146.4M1954.5 1154V1146.4M1958.1 1154V1145.6M2004 1154V1145.1M2029.1 1154V1146.4M1508.4 1154V1147.3M1517.3 1154V1147.3M1536.2 1154V1147.8M1562.7 1154V1146.7M1450.8 1154V717.9M1162.2 1154V1154M1503.1 1154V1152.2M1275.4 1154V1154M1358.8 1154V1151.6M1283.2 1154V1151.8M1744.4 1154V1154M1631 1154V1153.5M1520.8 1154V1148.6M1234.6 1154V1154M1993.1 1154V1153.6M1329 1154V1153.8M1478.1 1154V1149.2M1339.6 1154V1153.9M1675.2 1154V1153.1M2005.6 1154V1150.8M1469.7 1154V1154M1900.5 1154V1148.7M1178.4 1154V1151.8M1929.1 1154V1152.5M1346.8 1154V1151.2M1805 1154V1154M1725.3 1154V1153.9M1188.3 1154V1153.8M1450.7 1154V1153.7M1730.6 1154V1150.8M2012.4 1154V1148.9M2041.2 1154V1151.3M1425.6 1154V1154M1710 1154V1153.1M1755.4 1154V1154M1323.9 1154V1149.7M1689.9 1154V1152.2M1236.9 1154V1153.7M1966.5 1154V1152.5M2039.5 1154V1154M1558.6 1154V1151.2M1549.5 1154V1151.3M1654.4 1154V1154M1239.8 1154V1148.8M1258.1 1154V1154M1451.5 1154V1152M1916.3 1154V1153.4M1597.4 1154V1151.3M1400.2 1154V1153.7M1700.1 1154V1152.6M1185.3 1154V1154M1274.8 1154V1151.9M1771.9 1154V1148.9M1838.8 1154V1153.9M1836.9 1154V1148.7M1463.6 1154V1154M1487.3 1154V1153.9M1309 1154V1154M1263 1154V1150.4M1196 1154V1152.7M1336.2 1154V1154M1886.4 1154V1153.9M1315.9 1154V1153.5M1773.7 1154V1153.2M1921.3 1154V1153.6M1620.6 1154V1152M1564.6 1154V1152M1569.4 1154V1154M1261.8 1154V1151.4M1818.4 1154V1149.4M1769.4 1154V1152.9M1300.1 1154V1150.6M1257.6 1154V1153.6M1277.2 1154V1153.7M1426.4 1154V1153.6M1788.2 1154V1153.1M1368.7 1154V1151.4M1809.7 1154V1150.9M1180.7 1154V1152.7M1953.3 1154V1153.9M1332.3 1154V1151M1477.2 1154V1153.6M1883.6 1154V1153.7M1329 1154V1153.9M1460.8 1154V1152.1M1481.1 1154V1151.5M1210.3 1154V1153.9M1711 1154V1153.4M1599 1154V1149.5M1399.7 1154V1154M1181.4 1154V1153.4M1417.4 1154V1153.4M1156.2 1154V1154M1491.3 1154V1151.6M1420.3 1154V1149.8M1670.2 1154V1153.6M1847.4 1154V1153.9M1693.3 1154V1150.7M1635.8 1154V1153.8M1237.2 1154V1153M1319.2 1154V1153.7M1637.1 1154V1149.4M1754.4 1154V1153.2M1920.1 1154V1153.8M1498.5 1154V1152.3M1647.7 1154V1153.9M1519.1 1154V1150.9M1368.3 1154V1152.1M1194.3 1154V1149.2M1764 1154V1153.8M2032 1154V1151.2M1206.5 1154V1153.9M1591.7 1154V1148.5M1277.2 1154V1154M1431.3 1154V1154M1517.5 1154V1153.1M1545.7 1154V1154M1171.9 1154V1151.2M1545.4 1154V1153.4M1579.4 1154V1152.2M1958.1 1154V1150.9M1802.6 1154V1153.8M1302.4 1154V1154M1920.7 1154V1154M1661.1 1154V1149.9M1439.9 1154V1153.7M1525.6 1154V1149.4M1764.1 1154V1150.8M1186 1154V1151.9M1555.2 1154V1153.6M1882.7 1154V1151.8M1966.8 1154V1151.8M1966.4 1154V1153.6M1649.4 1154V1151.3M1557.5 1154V1154M1675.6 1154V1150.4M1931 1154V1154M1492.6 1154V1153.9M1456.7 1154V1149.1M1528.4 1154V1153.8M1395.4 1154V1153.5M1751.1 1154V1153.8M1318.1 1154V1153.9M1384 1154V1149.9M1303 1154V1151.6M1248.1 1154V1151.3M1389.5 1154V1151.4M1538.3 1154V1154M1235.9 1154V1151.2M1636.7 1154V1153.4M1466.7 1154V1152.2M1583.3 1154V1154M1689.5 1154V1153.8M1909.6 1154V1153.1M1844.4 1154V1154M1784.6 1154V1152.7M1913.4 1154V1150.2M1645.2 1154V1152.9M1838.3 1154V1153.9M1639.3 1154V1151.3M1683.7 1154V1153.1M1917.8 1154V1148.9M1383.2 1154V1154M1700.7 1154V1154M2019.8 1154V1153.4M1629.7 1154V1151M1930.4 1154V1154M1557.3 1154V1154M1563.7 1154V1154M1936.8 1154V1153.8M1499.9 1154V1150M1888.8 1154V1153.8M1599.1 1154V1152.4M1319.5 1154V1154M1919.3 1154V1154" stroke="#222" stroke-width="1.2" fill="none"/>
<path d="M1149.9 1154V1095.7M1234.2 1154V1128.4M1365 1154V1124.6M1451.5 1154V981.6M1452 1154V1113.3M1671.8 1154V1139.5M2024.6 1154V1120M2025.8 1154V1142.3M1394.1 1154V1125.8M1360.7 1154V1125.8" stroke="#111" stroke-width="2" fill="none"/>
<text x="1156.7" y="1006.6" font-size="20.5" fill="#2b7dbd">βb</text>
<text x="1180.1" y="1011.6" font-size="11.8" fill="#2b7dbd">3</text>
<text x="1177.6" y="995.1" font-size="11.5" fill="#2b7dbd">+</text>
<text x="1152.6" y="1028.4" font-size="16.3">274.10</text>
<line x1="1164.7" y1="1033" x2="1151.2" y2="1099.5" stroke="#1b75bb" stroke-width="4.3"/>
<text x="1190.1" y="1051.8" font-size="20.5" fill="#b8293c">βy</text>
<text x="1212.7" y="1059.4" font-size="11.3" fill="#b8293c">3</text>
<text x="1215" y="1042.4" font-size="12.5" fill="#b8293c">+</text>
<text x="1176.5" y="1075.6" font-size="16.3">359.19</text>
<line x1="1202.4" y1="1083.9" x2="1199.3" y2="1099.5" stroke="#c5222f" stroke-width="4.3"/>
<text x="1159.7" y="1100.8" font-size="20.5" fill="#2b7dbd">αb</text>
<text x="1183.2" y="1105.8" font-size="11.8" fill="#2b7dbd">3</text>
<text x="1180.7" y="1089.3" font-size="11.5" fill="#2b7dbd">+</text>
<text x="1149.4" y="1120" font-size="16.3">286.14</text>
<line x1="1162.5" y1="1124.6" x2="1159.9" y2="1145.9" stroke="#1b75bb" stroke-width="4.3"/>
<text x="1221.9" y="989.1" font-size="20.5" fill="#b8293c">βy</text>
<text x="1244.6" y="996.7" font-size="11.3" fill="#b8293c">4</text>
<text x="1246.9" y="979.7" font-size="12.5" fill="#b8293c">+</text>
<text x="1214.1" y="1014.6" font-size="16.3">416.21</text>
<text x="1263.3" y="1036.8" font-size="20.5" fill="#2b7dbd">βb</text>
<text x="1286.7" y="1041.8" font-size="11.8" fill="#2b7dbd">5</text>
<text x="1284.2" y="1025.3" font-size="11.5" fill="#2b7dbd">+</text>
<text x="1256.3" y="1056.5" font-size="16.3">502.21</text>
<line x1="1282.7" y1="1064.4" x2="1285.7" y2="1115.3" stroke="#1b75bb" stroke-width="4.3"/>
<text x="1242.8" y="1100.8" font-size="20.5" fill="#2b7dbd">αb</text>
<text x="1266.2" y="1105.8" font-size="11.8" fill="#2b7dbd">5</text>
<text x="1263.7" y="1089.3" font-size="11.5" fill="#2b7dbd">+</text>
<text x="1231.2" y="1122.5" font-size="16.3">484.25</text>
<line x1="1256.3" y1="1133.4" x2="1274.6" y2="1145.2" stroke="#1b75bb" stroke-width="4.3"/>
<text x="1301" y="961.5" font-size="20.5" fill="#b8293c">βy</text>
<text x="1323.6" y="969.1" font-size="11.3" fill="#b8293c">5</text>
<text x="1325.9" y="952.1" font-size="12.5" fill="#b8293c">+</text>
<text x="1293.9" y="985.7" font-size="16.3">545.26</text>
<line x1="1320.6" y1="990.3" x2="1308.5" y2="1119.6" stroke="#c5222f" stroke-width="4.3"/>
<text x="1348.7" y="1005.4" font-size="20.5" fill="#b8293c">βy</text>
<text x="1371.3" y="1013" font-size="11.3" fill="#b8293c">6</text>
<text x="1373.6" y="996" font-size="12.5" fill="#b8293c">+</text>
<text x="1335.1" y="1035.9" font-size="16.3">632.29</text>
<line x1="1359.9" y1="1040" x2="1359.9" y2="1103.8" stroke="#c5222f" stroke-width="4.3"/>
<text x="1381.3" y="1061.4" font-size="20.5" fill="#b8293c">βy</text>
<text x="1403.9" y="1069" font-size="11.3" fill="#b8293c">7</text>
<text x="1406.2" y="1052" font-size="12.5" fill="#b8293c">+</text>
<text x="1373.5" y="1084.8" font-size="16.3">689.32</text>
<line x1="1393.8" y1="1088.2" x2="1393.8" y2="1116.3" stroke="#c5222f" stroke-width="4.3"/>
<text x="1516.7" y="1076.8" font-size="20.5" fill="#2b7dbd">αb</text>
<text x="1540.2" y="1081.8" font-size="11.8" fill="#2b7dbd">6</text>
<text x="1539.5" y="1065.4" font-size="12.2" fill="#2b7dbd">2+</text>
<text x="1514.2" y="1098.7" font-size="16.3">998.45</text>
<line x1="1557.1" y1="1101.3" x2="1575.7" y2="1142.8" stroke="#1b75bb" stroke-width="4.3"/>
<text x="1580.2" y="1087.1" font-size="20.5" fill="#b8293c">αy</text>
<text x="1602.9" y="1094.7" font-size="11.3" fill="#b8293c">11</text>
<text x="1605.2" y="1077.7" font-size="12.5" fill="#b8293c">+</text>
<text x="1571.5" y="1112.6" font-size="16.3">1045.58</text>
<line x1="1603.9" y1="1124.2" x2="1603" y2="1142.3" stroke="#c5222f" stroke-width="4.3"/>
<text x="1620.3" y="1029.5" font-size="20.5" fill="#2b7dbd">αb</text>
<text x="1643.8" y="1034.5" font-size="11.8" fill="#2b7dbd">8</text>
<text x="1643.1" y="1018.1" font-size="12.2" fill="#2b7dbd">2+</text>
<text x="1605.5" y="1049.9" font-size="16.3">1105.58</text>
<line x1="1636.5" y1="1061" x2="1639.2" y2="1147.8" stroke="#1b75bb" stroke-width="4.3"/>
<text x="1656.5" y="1084.6" font-size="20.5" fill="#2b7dbd">αb</text>
<text x="1680" y="1089.6" font-size="11.8" fill="#2b7dbd">9</text>
<text x="1679.3" y="1073.2" font-size="13.5" font-weight="bold" fill="#2b7dbd">2+</text>
<text x="1648.1" y="1102.9" font-size="16.3">1162.56</text>
<line x1="1670.7" y1="1109.4" x2="1673.2" y2="1140" stroke="#1b75bb" stroke-width="4.3"/>
<text x="1831.4" y="1092.7" font-size="20.5" fill="#b8293c">αy</text>
<text x="1854.1" y="1100.3" font-size="11.3" fill="#b8293c">15</text>
<text x="1856.4" y="1083.3" font-size="12.5" fill="#b8293c">+</text>
<text x="1819.9" y="1123.2" font-size="16.3">1446.75</text>
<line x1="1856.4" y1="1127" x2="1853.7" y2="1142.3" stroke="#c5222f" stroke-width="4.3"/>
<text x="1894.9" y="1057.3" font-size="20.5" fill="#b8293c">αy</text>
<text x="1917.6" y="1064.9" font-size="11.3" fill="#b8293c">16</text>
<text x="1919.9" y="1047.9" font-size="12.5" fill="#b8293c">+</text>
<text x="1883.2" y="1084.7" font-size="16.3">1561.78</text>
<line x1="1908.5" y1="1088" x2="1906" y2="1136.1" stroke="#c5222f" stroke-width="4.3"/>
<text x="2007.4" y="1069" font-size="20.5" fill="#b8293c">αy</text>
<text x="2030.1" y="1076.6" font-size="11.3" fill="#b8293c">18</text>
<text x="2032.4" y="1059.6" font-size="12.5" fill="#b8293c">+</text>
<text x="1997.3" y="1098.7" font-size="16.3">1762.84</text>
<line x1="2026.9" y1="1101.9" x2="2024.9" y2="1117.2" stroke="#c5222f" stroke-width="4.3"/>
<text x="1378.3" y="733" font-size="20.5" fill="#b8293c">βy</text>
<text x="1400.9" y="740.6" font-size="11.3" fill="#b8293c">8</text>
<text x="1403.2" y="723.6" font-size="12.5" fill="#b8293c">+</text>
<text x="1369.7" y="755.2" font-size="16.3">786.37</text>
<line x1="1415.7" y1="729.7" x2="1451.5" y2="735.5" stroke="#c5222f" stroke-width="4.3"/>
<text x="1487.4" y="682.6" font-size="24.5" font-weight="bold">VDA</text>
<text x="1546.4" y="682.6" font-size="24.5" font-weight="bold">PT</text>
<text x="1585.1" y="682.6" font-size="24.5" font-weight="bold">K</text>
<text x="1611.9" y="682.6" font-size="24.5" font-weight="bold">TI</text>
<text x="1638.7" y="682.6" font-size="24.5" font-weight="bold">N</text>
<text x="1664" y="682.6" font-size="24.5" font-weight="bold">S</text>
<text x="1687.8" y="682.6" font-size="24.5" font-weight="bold">D</text>
<text x="1713.1" y="682.6" font-size="24.5" font-weight="bold">SDQA</text>
<text x="1791.2" y="682.6" font-size="24.5" font-weight="bold">GKGLTVGSVVE</text>
<path d="M1531.5 654.5H1544.3V690.8" stroke="#7e7e7e" stroke-width="1.8" fill="none"/>
<path d="M1566.6 654.5H1578.5V690.8" stroke="#7e7e7e" stroke-width="1.8" fill="none"/>
<path d="M1595.5 654.5H1606.5V690.8" stroke="#7e7e7e" stroke-width="1.8" fill="none"/>
<path d="M1649.1 654.5H1660.1V690.8" stroke="#7e7e7e" stroke-width="1.8" fill="none"/>
<path d="M1621.7 654.5H1633.6V690.8H1644.6" stroke="#7e7e7e" stroke-width="1.8" fill="none"/>
<path d="M1681 654.5V690.8H1692.3" stroke="#7e7e7e" stroke-width="1.8" fill="none"/>
<path d="M1710.7 654.5V690.8H1722" stroke="#7e7e7e" stroke-width="1.8" fill="none"/>
<path d="M1788.5 654.5V690.8H1799.8" stroke="#7e7e7e" stroke-width="1.8" fill="none"/>
<text x="1532.4" y="649.1" font-size="19.5" fill="#2b7dbd">b</text>
<text x="1542.4" y="652.7" font-size="11.3" fill="#2b7dbd" letter-spacing="-0.6">3</text>
<text x="1567.2" y="649.1" font-size="19.5" fill="#2b7dbd">b</text>
<text x="1577.2" y="652.7" font-size="11.3" fill="#2b7dbd" letter-spacing="-0.6">5</text>
<text x="1590.4" y="649.1" font-size="19.5" fill="#2b7dbd">b</text>
<text x="1600.4" y="652.7" font-size="11.3" fill="#2b7dbd" letter-spacing="-0.6">6</text>
<text x="1623.2" y="649.1" font-size="19.5" fill="#2b7dbd">b</text>
<text x="1633.2" y="652.7" font-size="11.3" fill="#2b7dbd" letter-spacing="-0.6">8</text>
<text x="1645.2" y="649.1" font-size="19.5" fill="#2b7dbd">b</text>
<text x="1655.2" y="652.7" font-size="11.3" fill="#2b7dbd" letter-spacing="-0.6">9</text>
<text x="1632.7" y="704.2" font-size="19.5" fill="#b8293c">y</text>
<text x="1641.7" y="707.8" font-size="11.3" fill="#b8293c" letter-spacing="-0.6">18</text>
<text x="1675.9" y="704.2" font-size="19.5" fill="#b8293c">y</text>
<text x="1684.9" y="707.8" font-size="11.3" fill="#b8293c" letter-spacing="-0.6">16</text>
<text x="1703.6" y="704.2" font-size="19.5" fill="#b8293c">y</text>
<text x="1712.5" y="707.8" font-size="11.3" fill="#b8293c" letter-spacing="-0.6">15</text>
<text x="1775.7" y="704.2" font-size="19.5" fill="#b8293c">y</text>
<text x="1784.7" y="707.8" font-size="11.3" fill="#b8293c" letter-spacing="-0.6">11</text>
<line x1="1591.6" y1="691.7" x2="1591.6" y2="717" stroke="#dfca6d" stroke-width="4.8"/>
<text x="1535.9" y="705.7" font-size="19.5" fill="#2b7dbd">b</text>
<text x="1545.9" y="709.3" font-size="11.3" fill="#2b7dbd" letter-spacing="-0.6">3</text>
<text x="1569.6" y="705.7" font-size="19.5" fill="#2b7dbd">b</text>
<text x="1579.6" y="709.3" font-size="11.3" fill="#2b7dbd" letter-spacing="-0.6">5</text>
<text x="1491.3" y="741.6" font-size="24.5" font-weight="bold">TGD</text>
<text x="1550.2" y="741.6" font-size="24.5" font-weight="bold">ID</text>
<text x="1582.7" y="741.6" font-size="24.5" font-weight="bold">N</text>
<text x="1608" y="741.6" font-size="24.5" font-weight="bold">P</text>
<text x="1630.6" y="741.6" font-size="24.5" font-weight="bold">G</text>
<text x="1656.5" y="741.6" font-size="24.5" font-weight="bold">S</text>
<text x="1681" y="741.6" font-size="24.5" font-weight="bold">E</text>
<text x="1704.2" y="741.6" font-size="24.5" font-weight="bold">G</text>
<text x="1731" y="741.6" font-size="24.5" font-weight="bold">PDK</text>
<path d="M1534.4 716.1H1546.4V752.5" stroke="#7e7e7e" stroke-width="1.8" fill="none"/>
<path d="M1567.2 716.1H1579.1V752.5" stroke="#7e7e7e" stroke-width="1.8" fill="none"/>
<path d="M1603.5 716.1V752.5H1614.7" stroke="#7e7e7e" stroke-width="1.8" fill="none"/>
<path d="M1624.7 716.1V752.5H1635.9" stroke="#7e7e7e" stroke-width="1.8" fill="none"/>
<path d="M1651.5 716.1V752.5H1662.7" stroke="#7e7e7e" stroke-width="1.8" fill="none"/>
<path d="M1678.3 716.1V752.5H1689.5" stroke="#7e7e7e" stroke-width="1.8" fill="none"/>
<path d="M1703.3 716.1V752.5H1714.5" stroke="#7e7e7e" stroke-width="1.8" fill="none"/>
<path d="M1726.5 716.1V752.5H1737.7" stroke="#7e7e7e" stroke-width="1.8" fill="none"/>
<text x="1606.5" y="769.7" font-size="19.5" fill="#b8293c">y</text>
<text x="1615.5" y="773.3" font-size="11.3" fill="#b8293c" letter-spacing="-0.6">8</text>
<text x="1624.4" y="769.7" font-size="19.5" fill="#b8293c">y</text>
<text x="1633.4" y="773.3" font-size="11.3" fill="#b8293c" letter-spacing="-0.6">7</text>
<text x="1649.1" y="769.7" font-size="19.5" fill="#b8293c">y</text>
<text x="1658" y="773.3" font-size="11.3" fill="#b8293c" letter-spacing="-0.6">6</text>
<text x="1667.6" y="769.7" font-size="19.5" fill="#b8293c">y</text>
<text x="1676.5" y="773.3" font-size="11.3" fill="#b8293c" letter-spacing="-0.6">5</text>
<text x="1691.7" y="769.7" font-size="19.5" fill="#b8293c">y</text>
<text x="1700.7" y="773.3" font-size="11.3" fill="#b8293c" letter-spacing="-0.6">4</text>
<text x="1711.6" y="769.7" font-size="19.5" fill="#b8293c">y</text>
<text x="1720.5" y="773.3" font-size="11.3" fill="#b8293c" letter-spacing="-0.6">3</text>
<text x="2021.9" y="682.5" font-size="22.7" font-weight="bold">(α)</text>
<text x="2021.9" y="738.5" font-size="22.7" font-weight="bold">(β)</text>
<rect x="1850.7" y="818.3" width="154.9" height="63.7" fill="#a5bcde" stroke="#444" stroke-width="1.2"/>
<line x1="1874.5" y1="818.3" x2="1874.5" y2="828.8" stroke="#111" stroke-width="1.4"/>
<line x1="1874.5" y1="870.5" x2="1874.5" y2="882" stroke="#111" stroke-width="1.4"/>
<line x1="1915.6" y1="818.3" x2="1915.6" y2="828.8" stroke="#111" stroke-width="1.4"/>
<line x1="1915.6" y1="870.5" x2="1915.6" y2="882" stroke="#111" stroke-width="1.4"/>
<line x1="1969.8" y1="818.3" x2="1969.8" y2="828.8" stroke="#111" stroke-width="1.4"/>
<line x1="1969.8" y1="870.5" x2="1969.8" y2="882" stroke="#111" stroke-width="1.4"/>
<text x="1866" y="858.3" font-size="30" font-weight="bold">K</text>
<text x="1906.2" y="858.3" font-size="19.5" font-weight="bold" fill="#c5222f">D</text>
<text x="1959.3" y="858.3" font-size="30" font-weight="bold">N</text>
<text x="1859.6" y="901.4" font-size="19.6" font-weight="bold">203</text>
<text x="1898.8" y="901.4" font-size="19.6" font-weight="bold">246</text>
<text x="1954.3" y="901.4" font-size="19.6" font-weight="bold">318</text>
<path d="M1873 816.8C1886.8 779.3 1957.5 779.3 1971.3 816.8" stroke="#dfca6d" stroke-width="5" fill="none"/>
<text x="1028.5" y="1271.6" font-size="51" font-weight="bold">f</text>
<path d="M1154.3 1303.5V1737.4M1154.3 1737.4H1148.3M1154.3 1732.7H1150.7M1154.3 1727.9H1150.7M1154.3 1723.2H1150.7M1154.3 1718.5H1150.7M1154.3 1713.7H1149.1M1154.3 1709H1150.7M1154.3 1704.3H1150.7M1154.3 1699.5H1150.7M1154.3 1694.8H1150.7M1154.3 1690.1H1148.3M1154.3 1685.3H1150.7M1154.3 1680.6H1150.7M1154.3 1675.9H1150.7M1154.3 1671.2H1150.7M1154.3 1666.4H1149.1M1154.3 1661.7H1150.7M1154.3 1657H1150.7M1154.3 1652.2H1150.7M1154.3 1647.5H1150.7M1154.3 1642.8H1148.3M1154.3 1638H1150.7M1154.3 1633.3H1150.7M1154.3 1628.6H1150.7M1154.3 1623.8H1150.7M1154.3 1619.1H1149.1M1154.3 1614.4H1150.7M1154.3 1609.6H1150.7M1154.3 1604.9H1150.7M1154.3 1600.2H1150.7M1154.3 1595.4H1148.3M1154.3 1590.7H1150.7M1154.3 1586H1150.7M1154.3 1581.2H1150.7M1154.3 1576.5H1150.7M1154.3 1571.8H1149.1M1154.3 1567H1150.7M1154.3 1562.3H1150.7M1154.3 1557.6H1150.7M1154.3 1552.9H1150.7M1154.3 1548.1H1148.3M1154.3 1543.4H1150.7M1154.3 1538.7H1150.7M1154.3 1533.9H1150.7M1154.3 1529.2H1150.7M1154.3 1524.5H1149.1M1154.3 1519.7H1150.7M1154.3 1515H1150.7M1154.3 1510.3H1150.7M1154.3 1505.5H1150.7M1154.3 1500.8H1148.3M1154.3 1496.9H1150.7M1154.3 1492.9H1150.7M1154.3 1489H1150.7M1154.3 1485.1H1150.7M1154.3 1481.1H1149.1M1154.3 1477.2H1150.7M1154.3 1473.2H1150.7M1154.3 1469.3H1150.7M1154.3 1465.4H1150.7M1154.3 1461.4H1148.3M1154.3 1457.5H1150.7M1154.3 1453.6H1150.7M1154.3 1449.6H1150.7M1154.3 1445.7H1150.7M1154.3 1441.8H1149.1M1154.3 1437.8H1150.7M1154.3 1433.9H1150.7M1154.3 1430H1150.7M1154.3 1426H1150.7M1154.3 1422.1H1148.3M1154.3 1418.1H1150.7M1154.3 1414.2H1150.7M1154.3 1410.3H1150.7M1154.3 1406.3H1150.7M1154.3 1402.4H1149.1M1154.3 1398.5H1150.7M1154.3 1394.5H1150.7M1154.3 1390.6H1150.7M1154.3 1386.7H1150.7M1154.3 1382.7H1148.3M1154.3 1378.8H1150.7M1154.3 1374.8H1150.7M1154.3 1370.9H1150.7M1154.3 1367H1150.7M1154.3 1363H1149.1M1154.3 1359.1H1150.7M1154.3 1355.2H1150.7M1154.3 1351.2H1150.7M1154.3 1347.3H1150.7M1154.3 1343.4H1148.3M1154.3 1339.4H1150.7M1154.3 1335.5H1150.7M1154.3 1331.6H1150.7M1154.3 1327.6H1150.7M1154.3 1323.7H1149.1M1154.3 1319.7H1150.7M1154.3 1315.8H1150.7M1154.3 1311.9H1150.7M1154.3 1307.9H1150.7M1154.3 1304H1148.3" stroke="#222" stroke-width="1.4" fill="none"/>
<path d="M1157.2 1737.4V1740M1165.4 1737.4V1740M1173.5 1737.4V1740M1181.7 1737.4V1740M1189.9 1737.4V1740M1198 1737.4V1740M1206.2 1737.4V1740M1214.4 1737.4V1740M1222.5 1737.4V1740M1230.7 1737.4V1740M1238.9 1737.4V1740M1247 1737.4V1740M1255.2 1737.4V1740M1263.4 1737.4V1740M1271.5 1737.4V1740M1279.7 1737.4V1740M1287.9 1737.4V1740M1296 1737.4V1740M1304.2 1737.4V1740M1312.3 1737.4V1740M1320.5 1737.4V1740M1328.7 1737.4V1740M1336.8 1737.4V1740M1345 1737.4V1740M1353.2 1737.4V1740M1361.3 1737.4V1740M1369.5 1737.4V1740M1377.7 1737.4V1740M1385.8 1737.4V1740M1394 1737.4V1740M1402.2 1737.4V1740M1410.3 1737.4V1740M1418.5 1737.4V1740M1426.7 1737.4V1740M1434.8 1737.4V1740M1443 1737.4V1740M1451.2 1737.4V1740M1459.3 1737.4V1740M1467.5 1737.4V1740M1475.6 1737.4V1740M1483.8 1737.4V1740M1492 1737.4V1740M1500.1 1737.4V1740M1508.3 1737.4V1740M1516.5 1737.4V1740M1524.6 1737.4V1740M1532.8 1737.4V1740M1541 1737.4V1740M1549.1 1737.4V1740M1557.3 1737.4V1740M1565.5 1737.4V1740M1573.6 1737.4V1740M1581.8 1737.4V1740M1590 1737.4V1740M1598.1 1737.4V1740M1606.3 1737.4V1740M1614.5 1737.4V1740M1622.6 1737.4V1740M1630.8 1737.4V1740M1638.9 1737.4V1740M1647.1 1737.4V1740M1655.3 1737.4V1740M1663.4 1737.4V1740M1671.6 1737.4V1740M1679.8 1737.4V1740M1687.9 1737.4V1740M1696.1 1737.4V1740M1704.3 1737.4V1740M1712.4 1737.4V1740M1720.6 1737.4V1740M1728.8 1737.4V1740M1736.9 1737.4V1740M1745.1 1737.4V1740M1753.3 1737.4V1740M1761.4 1737.4V1740M1769.6 1737.4V1740M1777.8 1737.4V1740M1785.9 1737.4V1740M1794.1 1737.4V1740M1802.2 1737.4V1740M1810.4 1737.4V1740M1818.6 1737.4V1740M1826.7 1737.4V1740M1834.9 1737.4V1740M1843.1 1737.4V1740M1851.2 1737.4V1740M1859.4 1737.4V1740M1867.6 1737.4V1740M1875.7 1737.4V1740M1883.9 1737.4V1740M1892.1 1737.4V1740M1900.2 1737.4V1740M1908.4 1737.4V1740M1916.6 1737.4V1740M1924.7 1737.4V1740M1932.9 1737.4V1740M1941.1 1737.4V1740M1949.2 1737.4V1740M1957.4 1737.4V1740M1965.5 1737.4V1740M1973.7 1737.4V1740M1981.9 1737.4V1740M1990 1737.4V1740M1998.2 1737.4V1740M2006.4 1737.4V1740M2014.5 1737.4V1740M2022.7 1737.4V1740M2030.9 1737.4V1740M2039 1737.4V1740M2047.2 1737.4V1740" stroke="#333" stroke-width="0.8" fill="none"/>
<path d="M1153.3 1737.4H2049.1M1189.9 1737.4V1741.8M1230.7 1737.4V1743.6M1271.5 1737.4V1741.8M1312.4 1737.4V1743.6M1353.2 1737.4V1741.8M1394 1737.4V1743.6M1434.8 1737.4V1741.8M1475.7 1737.4V1743.6M1516.5 1737.4V1741.8M1557.3 1737.4V1743.6M1598.1 1737.4V1741.8M1639 1737.4V1743.6M1679.8 1737.4V1741.8M1720.6 1737.4V1743.6M1761.4 1737.4V1741.8M1802.3 1737.4V1743.6M1843.1 1737.4V1741.8M1883.9 1737.4V1743.6M1924.7 1737.4V1741.8M1965.6 1737.4V1743.6M2006.4 1737.4V1741.8M2047.2 1737.4V1743.6" stroke="#111" stroke-width="1.4" fill="none"/>
<text x="1236.2" y="1760.6" font-size="18" text-anchor="middle">300</text>
<text x="1317.9" y="1760.6" font-size="18" text-anchor="middle">400</text>
<text x="1399.5" y="1760.6" font-size="18" text-anchor="middle">500</text>
<text x="1481.2" y="1760.6" font-size="18" text-anchor="middle">600</text>
<text x="1562.8" y="1760.6" font-size="18" text-anchor="middle">700</text>
<text x="1644.5" y="1760.6" font-size="18" text-anchor="middle">800</text>
<text x="1726.1" y="1760.6" font-size="18" text-anchor="middle">900</text>
<text x="1812" y="1760.6" font-size="18" text-anchor="middle">1000</text>
<text x="1893.7" y="1760.6" font-size="18" text-anchor="middle">1100</text>
<text x="1975.4" y="1760.6" font-size="18" text-anchor="middle">1200</text>
<text x="2057" y="1760.6" font-size="18" text-anchor="middle">1300</text>
<text x="1139.8" y="1309.3" font-size="18" text-anchor="end" letter-spacing="0.7">100</text>
<text x="1143.8" y="1508" font-size="18" text-anchor="end" letter-spacing="0.7">50</text>
<text x="1145" y="1743.8" font-size="18" text-anchor="end">0</text>
<text transform="translate(1095.5,1613.9) rotate(-90)" font-size="22.7" font-weight="bold">Relative abundance</text>
<text x="1580.8" y="1780.2" font-size="22.7" font-weight="bold">m/z</text>
<path d="M1155.4 1737.4V1714.7M1159.9 1737.4V1713.5M1163.7 1737.4V1593M1169.7 1737.4V1689.6M1173.8 1737.4V1720.2M1182.5 1737.4V1714.7M1183.5 1737.4V1673.3M1186.8 1737.4V1706.4M1195.6 1737.4V1697.1M1217.4 1737.4V1723M1224.4 1737.4V1556.6M1225.2 1737.4V1716M1235 1737.4V1718M1240.8 1737.4V1699.6M1242.3 1737.4V1694.6M1260.8 1737.4V1719.7M1264.1 1737.4V1714.7M1268.4 1737.4V1670.3M1269.4 1737.4V1710.9M1272.9 1737.4V1697.1M1275.9 1737.4V1716M1306.8 1737.4V1662.8M1307.8 1737.4V1714.7M1321.6 1737.4V1685.8M1329.3 1737.4V1675.3M1333.6 1737.4V1697.9M1336.1 1737.4V1577.4M1337.1 1737.4V1707.2M1345.4 1737.4V1685.1M1361 1737.4V1695.9M1380.8 1737.4V1707.9M1403.9 1737.4V1712.7M1411.4 1737.4V1721.7M1414.7 1737.4V1715.2M1431.5 1737.4V1714.7M1433.2 1737.4V1703.9M1438.5 1737.4V1657.7M1439.5 1737.4V1714.7M1449 1737.4V1583M1450 1737.4V1716M1458.6 1737.4V1693.9M1465.8 1737.4V1650.7M1466.9 1737.4V1713.5M1474.9 1737.4V1688.9M1477.9 1737.4V1713.5M1492.9 1737.4V1714.7M1505.6 1737.4V1681.4M1514.5 1737.4V1692.5M1523.7 1737.4V1699.5M1534.8 1737.4V1712M1544.6 1737.4V1692.5M1549.3 1737.4V1616.8M1558.5 1737.4V1531.8M1559.9 1737.4V1595.1M1567.7 1737.4V1705.1M1582.1 1737.4V1688.3M1589.1 1737.4V1673M1601.6 1737.4V1702.3M1606.7 1737.4V1656.9M1613.3 1737.4V1574.7M1615 1737.4V1668.9M1622.5 1737.4V1705.1M1632.3 1737.4V1699.5M1637 1737.4V1642.4M1640.1 1737.4V1577M1641.5 1737.4V1654.9M1647.6 1737.4V1695.3M1655.9 1737.4V1703.7M1664.9 1737.4V1685.6M1672.7 1737.4V1599.2M1674 1737.4V1670.2M1677.4 1737.4V1668.9M1683.8 1737.4V1589.5M1685.2 1737.4V1677.2M1690.8 1737.4V1695.3M1695.8 1737.4V1652.1M1707.5 1737.4V1675.8M1711.6 1737.4V1685.6M1720 1737.4V1693.9M1727 1737.4V1681.4M1735.3 1737.4V1695.3M1747 1737.4V1655.8M1752.6 1737.4V1651.3M1754 1737.4V1682.8M1759.5 1737.4V1663.3M1765.9 1737.4V1654.9M1767.3 1737.4V1696.7M1777.1 1737.4V1687.5M1782.7 1737.4V1712M1792.4 1737.4V1714M1800.8 1737.4V1716.2M1806.3 1737.4V1586.7M1807.7 1737.4V1666.1M1809.1 1737.4V1707.8M1823 1737.4V1713.4M1830.5 1737.4V1706.4M1837 1737.4V1684.2M1838.3 1737.4V1686.1M1849.5 1737.4V1709.8M1853.7 1737.4V1719M1857.8 1737.4V1720.4M1867.6 1737.4V1720.4M1874.5 1737.4V1710.6M1881.5 1737.4V1714.8M1889 1737.4V1624.3M1890.4 1737.4V1686.1M1891.8 1737.4V1705.1M1895.4 1737.4V1707.8M1903 1737.4V1714.8M1914.9 1737.4V1720.4M1922.4 1737.4V1717.6M1931.1 1737.4V1710.6M1937.2 1737.4V1724M1951.1 1737.4V1717.6M1958.1 1737.4V1721.8M1964.2 1737.4V1708.7M1970.6 1737.4V1724M1977.6 1737.4V1669.4M1979 1737.4V1696.7M1983.7 1737.4V1710.1M1985.1 1737.4V1689.7M2015.2 1737.4V1719.5M2016.8 1737.4V1720.4M2030.5 1737.4V1652.1M2031.9 1737.4V1670.2M2033.3 1737.4V1710.6M1209.4 1737.4V1304M1260.6 1737.4V1737.2M1201.7 1737.4V1730.3M1314.5 1737.4V1734M1307.7 1737.4V1736.7M1356.5 1737.4V1735.3M1370.1 1737.4V1734.3M1386 1737.4V1736.3M1198.7 1737.4V1737.3M1354.2 1737.4V1737.3M1335.5 1737.4V1734.8M1172.6 1737.4V1732.6M1165.3 1737.4V1731.2M1386.5 1737.4V1737.2M1355.1 1737.4V1733.4M1190.5 1737.4V1734.2M1190.2 1737.4V1730.3M1344.8 1737.4V1728.9M1171 1737.4V1736.9M1326 1737.4V1734.9M1206.1 1737.4V1730.8M1388 1737.4V1737M1196.2 1737.4V1734.3M1267.7 1737.4V1734.3M1291.3 1737.4V1736.6M1162.2 1737.4V1737.4M1281.8 1737.4V1733.5M1272.8 1737.4V1733.2M1304 1737.4V1730.9M1335.6 1737.4V1736.9M1194.3 1737.4V1737.4M1167.1 1737.4V1731.3M1395.7 1737.4V1733.1M1186.2 1737.4V1734.3M1191.2 1737.4V1730.8M1335.7 1737.4V1733.1M1323 1737.4V1736.5M1388.5 1737.4V1729.3M1222.5 1737.4V1736.4M1357 1737.4V1734.1M1268.7 1737.4V1736.3M1421.1 1737.4V1737.1M1214.2 1737.4V1734M1232.1 1737.4V1730.6M1245.5 1737.4V1730.1M1260.3 1737.4V1730.8M1361.9 1737.4V1733.4M1215 1737.4V1737.3M1164.8 1737.4V1737.3M1338.7 1737.4V1737.4M1221.2 1737.4V1735.3M1198.8 1737.4V1736.9M1218.8 1737.4V1734.1M1188.7 1737.4V1728.5M1320.2 1737.4V1733.7M1307.5 1737.4V1735.9M1422 1737.4V1730.7M1381.3 1737.4V1737.4M1317.6 1737.4V1729.7M1331 1737.4V1735.8M1334.1 1737.4V1737.3M1355.5 1737.4V1732.6M1175.9 1737.4V1735.8M1319.2 1737.4V1736.8M1342.9 1737.4V1730.1M1404.3 1737.4V1737M1197.8 1737.4V1731.4M1323.8 1737.4V1731.9M1394.1 1737.4V1737.1M1317.1 1737.4V1737M1374.6 1737.4V1734M1221.7 1737.4V1735.9M1318.9 1737.4V1737.2M1206.2 1737.4V1736.1M1176 1737.4V1736M1413.6 1737.4V1731.9M1171.2 1737.4V1731.9M1352.4 1737.4V1733.7M1163.6 1737.4V1733M1209.8 1737.4V1732.3M1244.6 1737.4V1736.7M1203.4 1737.4V1731.2M1217 1737.4V1731.1M1296.9 1737.4V1737.3M1335.6 1737.4V1735.7M1163.7 1737.4V1732M1230.5 1737.4V1737.4M1366.1 1737.4V1733.5M1261.9 1737.4V1737.3M1300.5 1737.4V1735.2M1345 1737.4V1736M1311.7 1737.4V1733.6M1208.2 1737.4V1737.3M1288.9 1737.4V1733.1M1376 1737.4V1731.4M1276.4 1737.4V1733.7M1185.4 1737.4V1736.6M1174.6 1737.4V1731.8M1429.9 1737.4V1734.2M1362.2 1737.4V1736.7M1373.9 1737.4V1737.4M1257.7 1737.4V1736.8M1392.8 1737.4V1737.3M1199.9 1737.4V1737.4M1387 1737.4V1737M1403.5 1737.4V1737M1385.3 1737.4V1737.3M1403.3 1737.4V1729M1396.7 1737.4V1733.9M1401.6 1737.4V1730.3M1420.1 1737.4V1737.1M1388.9 1737.4V1732.7M1251 1737.4V1737.3M1402.5 1737.4V1736.1M1301.4 1737.4V1730.8M1288.7 1737.4V1737.1M1344 1737.4V1735.7M1230.9 1737.4V1733.9M1403.7 1737.4V1737.2M1378.7 1737.4V1733.1M1299.3 1737.4V1737.3M1338.3 1737.4V1737.1M1224.9 1737.4V1731.4M1230.4 1737.4V1737.4M1387.7 1737.4V1728.5M1239.9 1737.4V1736.5M1305.3 1737.4V1733.1M1159.6 1737.4V1734.5M1220.3 1737.4V1730M1269.8 1737.4V1729.6M1279.5 1737.4V1734.4M1166.7 1737.4V1737.3M1237.4 1737.4V1736.7M1203.7 1737.4V1736.5M1180.4 1737.4V1735.3M1419.9 1737.4V1731.4M1326.5 1737.4V1728.8M1355.7 1737.4V1734.6M1281.5 1737.4V1737.4M1400.8 1737.4V1730.6M1376.6 1737.4V1734M1378.7 1737.4V1729.3M1422.3 1737.4V1732.8M1160.8 1737.4V1729.6M1311.7 1737.4V1736.3M1274.3 1737.4V1737.1M1165.6 1737.4V1734.8M1325.3 1737.4V1737.4M1408.9 1737.4V1730.5M1393 1737.4V1735.6M1261.6 1737.4V1736.1M1705.7 1737.4V1708.5M1524.2 1737.4V1720.4M1483.4 1737.4V1728.6M1627.3 1737.4V1711.3M1493.3 1737.4V1726.2M1608.7 1737.4V1707.6M1455.2 1737.4V1727.2M1502.1 1737.4V1722.8M1610.9 1737.4V1707.7M1505.4 1737.4V1728.1M1474.3 1737.4V1726.6M1619.5 1737.4V1720.3M1508.3 1737.4V1728.9M1511 1737.4V1725.6M1588.2 1737.4V1715.2M1470.8 1737.4V1726.4M1765.2 1737.4V1708.2M1687.5 1737.4V1688.5M1476.9 1737.4V1729.2M1471.8 1737.4V1726.9M1620.8 1737.4V1720.8M1590.5 1737.4V1712.9M1625.4 1737.4V1720.2M1750.5 1737.4V1714.9M1720 1737.4V1677.5M1690.1 1737.4V1681.9M1618.6 1737.4V1720.3M1599.5 1737.4V1712.6M1695.8 1737.4V1707.5M1753.9 1737.4V1715.8M1607.1 1737.4V1722.6M1562.4 1737.4V1711.8M1484.3 1737.4V1722.5M1740.2 1737.4V1695M1464.2 1737.4V1730.2M1670.9 1737.4V1715M1542.9 1737.4V1727.1M1720.1 1737.4V1681.6M1746.2 1737.4V1694.6M1633.1 1737.4V1719.5M1602.5 1737.4V1711.5M1691.7 1737.4V1713.2M1448.7 1737.4V1733M1746.4 1737.4V1713.6M1572.8 1737.4V1721.7M1733.2 1737.4V1711.7M1531 1737.4V1720.7M1473.9 1737.4V1730.8M1454.2 1737.4V1727.4M1521.8 1737.4V1725.5M1569.2 1737.4V1710.7M1677.4 1737.4V1702.7M1605.1 1737.4V1721.3M1718.7 1737.4V1712M1648.1 1737.4V1715.4M1535.8 1737.4V1725M1507.5 1737.4V1725.5M1469 1737.4V1731.3M1491.9 1737.4V1729.8M1731.4 1737.4V1702.8M1666.6 1737.4V1696.7M1499.7 1737.4V1720.7M1570.9 1737.4V1722.2M1604.7 1737.4V1713.1M1695.7 1737.4V1711.5M1715.2 1737.4V1705.7M1527.6 1737.4V1719.2M1729.4 1737.4V1685.3M1551.1 1737.4V1715.4M1698.2 1737.4V1678.2M1691.3 1737.4V1677.9M1601.4 1737.4V1712M1699.9 1737.4V1702.3M1609.9 1737.4V1719.1M1728.3 1737.4V1707.1M1688.6 1737.4V1702.5M1675.7 1737.4V1711.7M1471.6 1737.4V1728M1493.1 1737.4V1728.7M1700 1737.4V1712.3M1742.1 1737.4V1700.4M1628.3 1737.4V1709M1464.5 1737.4V1731.5M1680.2 1737.4V1702.8M1653.8 1737.4V1697.3M1534.1 1737.4V1727.4M1760.9 1737.4V1717.5M1613.6 1737.4V1713.6M1756.4 1737.4V1716.3M1674.3 1737.4V1714.8M1593.5 1737.4V1716.5M1721.9 1737.4V1712.3M1689.3 1737.4V1712.7M1577.5 1737.4V1709M1722.4 1737.4V1712.2M1447.5 1737.4V1733.7M1699.8 1737.4V1712.4M1701.1 1737.4V1688.4M1711.7 1737.4V1680.1M1651.8 1737.4V1697.8M1622.4 1737.4V1710.5M1468.7 1737.4V1729.3M1767.9 1737.4V1724.5M1678.3 1737.4V1713.5M1602.5 1737.4V1717.2M1696.1 1737.4V1709M1598.3 1737.4V1722.6M1633.7 1737.4V1697.2M1571.7 1737.4V1718.6M1626.9 1737.4V1719.4M1672.3 1737.4V1713.7M1645.5 1737.4V1690.8M1545.7 1737.4V1721.2M1556.4 1737.4V1720.7M1508.2 1737.4V1726.4M1701.1 1737.4V1710.7M1561.3 1737.4V1725.6M1497.4 1737.4V1725.4M1716.2 1737.4V1702.2M1591.3 1737.4V1722.2M1523.8 1737.4V1718M1602 1737.4V1713.9M1536.7 1737.4V1727.2M1449 1737.4V1732.6M1582.2 1737.4V1719.9M1646.4 1737.4V1704.7M1730.9 1737.4V1688.7M1669.3 1737.4V1694.8M1622.1 1737.4V1715.8M1743.4 1737.4V1685M1571.4 1737.4V1713.6M1585.6 1737.4V1714.4M1453.9 1737.4V1730.3M1753.7 1737.4V1709.8M1729 1737.4V1695.4M1452.6 1737.4V1732.2M1553.4 1737.4V1713.6M1659.5 1737.4V1705.6M1725.5 1737.4V1707.9M1493.5 1737.4V1728M1741.1 1737.4V1711.7M1606.2 1737.4V1721M1562.1 1737.4V1726.1M1740.9 1737.4V1710.2M1702.5 1737.4V1711.3M1584.6 1737.4V1724.4M1637.2 1737.4V1712.4M1586.3 1737.4V1723.6M1653.4 1737.4V1717.2M1749.4 1737.4V1707M1644.6 1737.4V1713.3M1453.1 1737.4V1732.2M1681.8 1737.4V1706.2M1536.3 1737.4V1724M1729.1 1737.4V1702.8M1614.5 1737.4V1714.5M1729.9 1737.4V1712.4M1661.6 1737.4V1706.1M1678.8 1737.4V1713.6M1715.3 1737.4V1689.2M1536.1 1737.4V1716.4M1463.1 1737.4V1729.8M1474.1 1737.4V1730.7M1653.5 1737.4V1702.7M1601.8 1737.4V1721.9M1623.1 1737.4V1716.1M1570.7 1737.4V1722.9M1596.2 1737.4V1720.9M1485.8 1737.4V1728.2M1538.3 1737.4V1719.5M1756.5 1737.4V1699.8M1553.2 1737.4V1723.6M1686.2 1737.4V1712M1705.8 1737.4V1712.3M1760.5 1737.4V1708.7M1697.4 1737.4V1699.5M1722 1737.4V1705.8M1475.6 1737.4V1730.6M1688.5 1737.4V1679.7M1520.1 1737.4V1725.7M1699.8 1737.4V1709M1522.5 1737.4V1721.6M1483.9 1737.4V1729.5M1639.2 1737.4V1712.4M1754.4 1737.4V1708.7M1579 1737.4V1724.3M1711.3 1737.4V1712.3M1451.2 1737.4V1731.7M1707.6 1737.4V1710M1598.1 1737.4V1723.2M1536.9 1737.4V1716.5M1725.4 1737.4V1712.1M1756.5 1737.4V1709.9M1490.1 1737.4V1728.8M1758.5 1737.4V1716M1693.7 1737.4V1681.7M1743.5 1737.4V1693.1M1746.1 1737.4V1713.5M1671.9 1737.4V1685.3M1615.5 1737.4V1721.7M1540.3 1737.4V1724.9M1580.1 1737.4V1715.9M1502.5 1737.4V1729.3M1659.9 1737.4V1686.8M1603.1 1737.4V1713.7M1676.8 1737.4V1699.8M1704.1 1737.4V1712.4M1674.6 1737.4V1708.7M1571.6 1737.4V1715.2M1488.1 1737.4V1723M1709.9 1737.4V1686.8M1744.7 1737.4V1711.9M1639 1737.4V1697.4M1622.6 1737.4V1710.1M1480 1737.4V1727.2M1454.4 1737.4V1730.8M1454.9 1737.4V1731.6M1481.7 1737.4V1729.9M1487.9 1737.4V1726.2M1617.3 1737.4V1708.2M1709.5 1737.4V1693.9M1642.1 1737.4V1711.2M1696.4 1737.4V1706M1569.6 1737.4V1723.2M1454.1 1737.4V1731.9M1648.2 1737.4V1713.5M1584.7 1737.4V1724.3M1495.9 1737.4V1722.6M1706.1 1737.4V1707.7M1743.5 1737.4V1701.7M1689.3 1737.4V1712.6M1757 1737.4V1710.5M1490.8 1737.4V1729.9M1466.6 1737.4V1731.4M1698.5 1737.4V1689.5M1533.1 1737.4V1726.7M1742.6 1737.4V1711.1M1738.7 1737.4V1687.4M1579 1737.4V1721.4M1577.4 1737.4V1722.9M1674.7 1737.4V1699.8M1768.9 1737.4V1728.6M1546.4 1737.4V1723.4M1703.1 1737.4V1676.1M1712.6 1737.4V1712.1M1693.9 1737.4V1711.3M1586.1 1737.4V1724.2M1454.9 1737.4V1731.1M1731.4 1737.4V1709.3M1455.3 1737.4V1729.5M1536.7 1737.4V1727.5M1511.9 1737.4V1720.6M1738.7 1737.4V1703.3M1600.7 1737.4V1713.8M1557.5 1737.4V1724.4M1699.6 1737.4V1696.1M1734.5 1737.4V1700.4M1714.6 1737.4V1686.7M1523 1737.4V1723.6M1626.6 1737.4V1719.8M1517.4 1737.4V1726.8M1753.7 1737.4V1715.8M1759.2 1737.4V1690.9M1577 1737.4V1718.6M1544.5 1737.4V1727.2M1452.6 1737.4V1729.6M1520.4 1737.4V1725.5M1539 1737.4V1727.4M1573.5 1737.4V1721.9M1758.7 1737.4V1709.3M1761.6 1737.4V1713.3M1720.1 1737.4V1702.6M1453.4 1737.4V1727.9M1669.4 1737.4V1704.8M1587.9 1737.4V1724.2M1729.8 1737.4V1712.3M1481 1737.4V1725.9M1541.7 1737.4V1725.8M1534.8 1737.4V1725M1702.4 1737.4V1708.3M1488.4 1737.4V1727.5M1560.8 1737.4V1714.7M1466.3 1737.4V1730.3M1583.5 1737.4V1713.1M1506.9 1737.4V1722.7M1625.2 1737.4V1704.2M1708.1 1737.4V1703.1M1680.4 1737.4V1713.7M1691.1 1737.4V1711.7M1627.7 1737.4V1719.6M1754 1737.4V1710.9M1659.2 1737.4V1708.7M1670.1 1737.4V1714.2M1697.2 1737.4V1707.2M1654.6 1737.4V1691.5M1659.7 1737.4V1699.1M1605 1737.4V1718.3M1742.7 1737.4V1705.1M1458.5 1737.4V1731.3M1600.9 1737.4V1723.1M1477.9 1737.4V1728.3M1502.3 1737.4V1720.6M1485.2 1737.4V1729.5M1476.4 1737.4V1729.7M1449.1 1737.4V1731.3M1490.9 1737.4V1729.8M1560.7 1737.4V1726.2M1527.8 1737.4V1717.5M1549.5 1737.4V1720.3M1659.5 1737.4V1702.7M1593.6 1737.4V1720.1M1657.1 1737.4V1716.1M1460.6 1737.4V1731.7M1454.5 1737.4V1731M1475.6 1737.4V1729.4M1631.9 1737.4V1718.3M1665.4 1737.4V1707.7M1549 1737.4V1723.2M1456.9 1737.4V1730.4M1501.8 1737.4V1720.6M1626.1 1737.4V1713.8M1515.8 1737.4V1728.5M1497.3 1737.4V1728.4M1502.8 1737.4V1721.5M1542.9 1737.4V1724.9M1570.5 1737.4V1723.4M1504 1737.4V1724.6M1717.1 1737.4V1700.6M1521.4 1737.4V1721.6M1457.2 1737.4V1729.4M1587.9 1737.4V1723.5M1764 1737.4V1718.3M1550.2 1737.4V1721M1460.4 1737.4V1728.4M1446.4 1737.4V1734.2M1730.6 1737.4V1712.3M1728.4 1737.4V1711.4M1570.3 1737.4V1724.2M1657.8 1737.4V1704.7M1501.3 1737.4V1728.7M1605 1737.4V1706M1601.6 1737.4V1714.7M1708 1737.4V1695.5M1722.5 1737.4V1707.1M1683.3 1737.4V1713.7M1512.8 1737.4V1728.7M1723.6 1737.4V1711.3M1599.2 1737.4V1721.1M1537 1737.4V1727.3M1588.4 1737.4V1719.7M1617.9 1737.4V1711.2M1730.8 1737.4V1701.8M1624.1 1737.4V1720M1568.4 1737.4V1724.3M1674.9 1737.4V1714.4M1599.8 1737.4V1722.2M1736 1737.4V1711.3M1632.7 1737.4V1717.1M1640.4 1737.4V1718.7M1698.6 1737.4V1709.5M1574.9 1737.4V1719.5M1748.4 1737.4V1703.9M1616.3 1737.4V1721.5M1499.3 1737.4V1729.1M1724.1 1737.4V1712.4M1709.9 1737.4V1708.3M1696 1737.4V1704.9M1743.4 1737.4V1707.9M1499.4 1737.4V1728.2M1639 1737.4V1718.3M1654.3 1737.4V1696.4M1447.7 1737.4V1730.6M1555.4 1737.4V1721.9M1747.1 1737.4V1700.8M1752 1737.4V1698M1735.7 1737.4V1690.6M1611.5 1737.4V1721.1M1653.1 1737.4V1697M1464 1737.4V1727.6M1580.6 1737.4V1724M1478.3 1737.4V1726.4M1585.1 1737.4V1724.4M1522.9 1737.4V1728.2M1537.2 1737.4V1727.2M1581.5 1737.4V1724.6M1449.1 1737.4V1731M1752.1 1737.4V1698.8M1485.8 1737.4V1722.6M1717.9 1737.4V1679.4M1571.2 1737.4V1721.2M1642.9 1737.4V1691.6M1752.9 1737.4V1712.3M1453.5 1737.4V1730.4M1690.5 1737.4V1713.2M1735.3 1737.4V1712.1M1669.9 1737.4V1695.7M1762.1 1737.4V1715.7M1609 1737.4V1722.2M1674.5 1737.4V1684.6M1749.2 1737.4V1714.7M1486.3 1737.4V1722M1749 1737.4V1696.5M1695.2 1737.4V1706.4M1650.1 1737.4V1694.2M1591.4 1737.4V1721.1M1537.9 1737.4V1724.9M1636.5 1737.4V1717.9M1492.8 1737.4V1729.4M1485.8 1737.4V1730.1M1584 1737.4V1714.3M1574.6 1737.4V1717.8M1608.2 1737.4V1716.6M1747.1 1737.4V1713.4M1658.3 1737.4V1714M1548.1 1737.4V1721.8M1768.1 1737.4V1727M1543.6 1737.4V1716.4M1506 1737.4V1727M1522.4 1737.4V1728.1M1674.3 1737.4V1689.8M1655.8 1737.4V1701.9M1540.4 1737.4V1718M1556.3 1737.4V1725.9M1642.1 1737.4V1717.6M1716.1 1737.4V1706.5M1729.6 1737.4V1697.3M1761.5 1737.4V1717M1527 1737.4V1723.7M1524.4 1737.4V1724.5M1528.4 1737.4V1722.6M1703.8 1737.4V1681.8M1679 1737.4V1713.3M1527.8 1737.4V1718.1M1656.6 1737.4V1716.4M1662.9 1737.4V1713.5M1691.3 1737.4V1713.1M1717.8 1737.4V1709.2M1764.9 1737.4V1698.5M1530.5 1737.4V1719.8M1577.1 1737.4V1709.9M1585 1737.4V1716.7M1748.2 1737.4V1714.4M1611.2 1737.4V1703.3M1757.2 1737.4V1691.6M1643.4 1737.4V1703.3M1726.6 1737.4V1704.4M1456 1737.4V1728.8M1721.5 1737.4V1704.2M1651.9 1737.4V1717.3M1748 1737.4V1706.7M1500.9 1737.4V1728.5M1529.9 1737.4V1726.2M1588.5 1737.4V1715.3M1713 1737.4V1712.1M1632.7 1737.4V1705.1M1555.7 1737.4V1725M1471.9 1737.4V1729.3M1488.1 1737.4V1726.5M1453.2 1737.4V1727.6M1657.7 1737.4V1715.7M1617.9 1737.4V1719.9M1589.8 1737.4V1711.5M1715.6 1737.4V1699.1M1676.4 1737.4V1703.5M1459.1 1737.4V1726.6M1487.3 1737.4V1725.3M1609.6 1737.4V1707M1522.9 1737.4V1721.8M1735.7 1737.4V1709.7M1538 1737.4V1718.5M1593.9 1737.4V1720.7M1632.9 1737.4V1705.8M1449 1737.4V1729M1594.2 1737.4V1723.7M1636.1 1737.4V1714.4M1564.4 1737.4V1721.3M1474.3 1737.4V1727.9M1549.4 1737.4V1720.2M1536 1737.4V1726.3M1769.1 1737.4V1722.5M1648.4 1737.4V1714.3M1491.4 1737.4V1726.8M1587.6 1737.4V1712.5M1447 1737.4V1733.1M1456.4 1737.4V1730.6M1576.2 1737.4V1722.7M1465.5 1737.4V1730.9M1485.1 1737.4V1729.8M1692.4 1737.4V1710.7M1720.7 1737.4V1707.3M1768.8 1737.4V1728.5M1624.6 1737.4V1720.3M1673.9 1737.4V1714.1M1566.4 1737.4V1714.2M1528.3 1737.4V1726.1M1485.1 1737.4V1726.1M1623.2 1737.4V1717.8M1658.9 1737.4V1704.8M1730.4 1737.4V1680.8M1650.2 1737.4V1706.1M1486.2 1737.4V1730.2M1494.5 1737.4V1726.9M1715 1737.4V1695.1M1563 1737.4V1725M1742.3 1737.4V1712.9M1757.2 1737.4V1698.2M1500.9 1737.4V1722.8M1648.5 1737.4V1712.2M1487.1 1737.4V1722.2M1594.6 1737.4V1712.4M1474.4 1737.4V1728.7M1480.3 1737.4V1730.4M1682.9 1737.4V1702.4M1608.2 1737.4V1722.5M1714.2 1737.4V1693.8M1449.7 1737.4V1731.9M1640.1 1737.4V1716.2M1582.3 1737.4V1724.2M1695.8 1737.4V1710M1738.1 1737.4V1706.1M1782.6 1737.4V1733.3M1811.6 1737.4V1735.7M1956.7 1737.4V1732M1896.6 1737.4V1735.5M1777.3 1737.4V1736M1874.4 1737.4V1731.1M1922.4 1737.4V1732.5M1891.4 1737.4V1737.2M2006 1737.4V1731.6M1875.4 1737.4V1737.3M1912.9 1737.4V1735.5M1984.4 1737.4V1734.5M1911.3 1737.4V1734.7M1875.7 1737.4V1737.4M1788.8 1737.4V1729.5M2002.8 1737.4V1736.8M2016.4 1737.4V1735.2M1800.3 1737.4V1731M1932.7 1737.4V1729.7M1958.8 1737.4V1737.4M1943.3 1737.4V1732.1M2019.2 1737.4V1736.6M1917.4 1737.4V1733.3M1817.9 1737.4V1731.1M1986.7 1737.4V1737.4M1934.6 1737.4V1736.4M1823.2 1737.4V1734.4M2038.5 1737.4V1735M1803.2 1737.4V1735.5M1986.3 1737.4V1729.3M1968.7 1737.4V1737.4M2037.8 1737.4V1734.5M1795 1737.4V1737.3M1795.7 1737.4V1733.7M1814.4 1737.4V1731.8M1802 1737.4V1735.1M1893.8 1737.4V1737.4M1772.7 1737.4V1730.2M2040.6 1737.4V1737.3M1974 1737.4V1728.6M2020.5 1737.4V1730.5M1864.9 1737.4V1733.1M1909 1737.4V1729.6M1965.3 1737.4V1731.2M2007.7 1737.4V1736.3M1967.9 1737.4V1737.4M1828.7 1737.4V1729.6M1883.3 1737.4V1733.5M1930.3 1737.4V1736.9M1933.2 1737.4V1730M1862 1737.4V1736.5M1823.1 1737.4V1737.2M1999.5 1737.4V1733.2M2037.4 1737.4V1733.7M2035.7 1737.4V1737.1M1823.6 1737.4V1737.1M1877.5 1737.4V1728.6M1833.8 1737.4V1735.8M1788.8 1737.4V1737.4M1922.1 1737.4V1734.3M1912.5 1737.4V1730M2008.8 1737.4V1729.3M1931.2 1737.4V1736.9M1807.7 1737.4V1732.4M1814.5 1737.4V1737.4M1964.3 1737.4V1737.3M1943.2 1737.4V1737.1M1888.9 1737.4V1737.4M1875.4 1737.4V1736.6M1843.8 1737.4V1737.3M1930.3 1737.4V1733.4M1826.9 1737.4V1737.4M1845.8 1737.4V1733.3M1847.2 1737.4V1733.9M1792.2 1737.4V1733.3M1811.1 1737.4V1737.1M1972.6 1737.4V1735.6M1948.1 1737.4V1736.8M1955.8 1737.4V1736.8M1904.3 1737.4V1735.9M2022.9 1737.4V1732.6M1922.8 1737.4V1731.2M1939.8 1737.4V1733M1914.5 1737.4V1734.7M1830.8 1737.4V1729.7M1947.8 1737.4V1731.6M1938.8 1737.4V1737.4M1801.7 1737.4V1730.6M1964.4 1737.4V1730.2M2017.7 1737.4V1737M2042.9 1737.4V1734.4M1972.8 1737.4V1735.3M1842.5 1737.4V1735.6M1899.1 1737.4V1736.8M1866 1737.4V1735.9M1845.4 1737.4V1737.3M1993.2 1737.4V1736.5M1872.3 1737.4V1732.1M1964 1737.4V1735.9M1857.1 1737.4V1732M1837.1 1737.4V1735.7M1875 1737.4V1728.5M1838 1737.4V1734.5M1917 1737.4V1737.4M1821.9 1737.4V1730.5M1988.9 1737.4V1737.1M1821.1 1737.4V1729.6M1933.9 1737.4V1733.1M2021.5 1737.4V1736.9M1909.4 1737.4V1730M1823.2 1737.4V1737M2014.5 1737.4V1731.2M1913.7 1737.4V1737.3M2001.1 1737.4V1736.7M1980.3 1737.4V1737M1814.4 1737.4V1733.4M1880.1 1737.4V1736.4M1892.8 1737.4V1735.8M1901.5 1737.4V1733.9M1801.3 1737.4V1733.6M1905.8 1737.4V1731.6M1851 1737.4V1733.7M1828.5 1737.4V1733.3M1959.2 1737.4V1735M1903.9 1737.4V1729.4M1870.6 1737.4V1737.4M1863 1737.4V1737.4M2017.1 1737.4V1731.3M1822.9 1737.4V1734.2M1828.4 1737.4V1731" stroke="#111" stroke-width="1.1" fill="none"/>
<path d="M1444 1737.4L1444 1737.4L1444.9 1737.2L1445.8 1736.9L1446.7 1736.1L1447.6 1736.5L1448.5 1736.5L1449.4 1735.7L1450.3 1734.4L1451.2 1734.5L1452.1 1734.5L1453 1735L1453.9 1735L1454.8 1735.5L1455.7 1735.1L1456.6 1735.5L1457.5 1734.5L1458.4 1733.4L1459.3 1734.2L1460.2 1733.4L1461.1 1735.5L1462 1734.5L1462.9 1735L1463.8 1733.2L1464.7 1735.3L1465.6 1734.4L1466.5 1735.6L1467.4 1736.2L1468.3 1732.8L1469.2 1735L1470.1 1735.1L1471 1732.7L1471.9 1735.7L1472.8 1735.4L1473.7 1735.8L1474.6 1733.6L1475.5 1735L1476.4 1735.2L1477.3 1731.8L1478.2 1732.5L1479.1 1734.1L1480 1733.2L1480.9 1735.3L1481.8 1732.8L1482.7 1732.6L1483.6 1734L1484.5 1732.8L1485.4 1734.4L1486.3 1735.5L1487.2 1734.6L1488.1 1735L1489 1732.8L1489.9 1734.1L1490.8 1732L1491.7 1732.9L1492.6 1732.8L1493.5 1735L1494.4 1732.9L1495.3 1733.7L1496.2 1732.5L1497.1 1730.6L1498 1731.9L1498.9 1731.2L1499.8 1732.1L1500.7 1734.1L1501.6 1735.2L1502.5 1732.4L1503.4 1734.9L1504.3 1735.5L1505.2 1735L1506.1 1729.9L1507 1731.4L1507.9 1732.9L1508.8 1733.2L1509.7 1734.4L1510.6 1732.3L1511.5 1732.1L1512.4 1735.1L1513.3 1734.9L1514.2 1733.8L1515.1 1732.8L1516 1730L1516.9 1729.3L1517.8 1735L1518.7 1730.1L1519.6 1733.9L1520.5 1731.9L1521.4 1730.2L1522.3 1732.5L1523.2 1730.6L1524.1 1730.4L1525 1733.3L1525.9 1733.6L1526.8 1728.7L1527.7 1730.7L1528.6 1733.6L1529.5 1734.7L1530.4 1732.1L1531.3 1730.8L1532.2 1729.4L1533.1 1734.4L1534 1729.2L1534.9 1733.7L1535.8 1731.1L1536.7 1728.1L1537.6 1731.7L1538.5 1732.5L1539.4 1730.8L1540.3 1734.4L1541.2 1734.2L1542.1 1729.5L1543 1732.6L1543.9 1730.9L1544.8 1732.8L1545.7 1729.8L1546.6 1734.4L1547.5 1734.4L1548.4 1732.9L1549.3 1730.9L1550.2 1730L1551.1 1729.6L1552 1733.4L1552.9 1732.5L1553.8 1728.3L1554.7 1728.1L1555.6 1730.7L1556.5 1727.9L1557.4 1729.5L1558.3 1733.3L1559.2 1727.8L1560.1 1733.7L1561 1733.4L1561.9 1728.4L1562.8 1727.3L1563.7 1728.5L1564.6 1728.1L1565.5 1732.1L1566.4 1731.2L1567.3 1727.4L1568.2 1731.1L1569.1 1733.4L1570 1731.9L1570.9 1733.5L1571.8 1731.6L1572.7 1732.1L1573.6 1731.2L1574.5 1733.2L1575.4 1725.5L1576.3 1733.4L1577.2 1731.2L1578.1 1725.8L1579 1729L1579.9 1729.6L1580.8 1727.3L1581.7 1724.9L1582.6 1731.3L1583.5 1728.7L1584.4 1729.5L1585.3 1733L1586.2 1729.6L1587.1 1733L1588 1729.1L1588.9 1725.9L1589.8 1726.1L1590.7 1733L1591.6 1729.9L1592.5 1730.9L1593.4 1727.8L1594.3 1724.9L1595.2 1727.2L1596.1 1732L1597 1733.4L1597.9 1732.1L1598.8 1729.5L1599.7 1732L1600.6 1732.6L1601.5 1730.7L1602.4 1731.8L1603.3 1725.6L1604.2 1722.6L1605.1 1726.4L1606 1731.3L1606.9 1731.7L1607.8 1722L1608.7 1723.6L1609.6 1727.8L1610.5 1725.5L1611.4 1722.1L1612.3 1725L1613.2 1726L1614.1 1726.5L1615 1729L1615.9 1727.8L1616.8 1728L1617.7 1725.1L1618.6 1724.7L1619.5 1732.7L1620.4 1722.7L1621.3 1724.6L1622.2 1725.9L1623.1 1720.8L1624 1726.9L1624.9 1729L1625.8 1730.1L1626.7 1728.7L1627.6 1724.9L1628.5 1725.5L1629.4 1727.7L1630.3 1724.6L1631.2 1721.5L1632.1 1720.1L1633 1718.7L1633.9 1728.9L1634.8 1720.1L1635.7 1728.6L1636.6 1725.6L1637.5 1731.5L1638.4 1722.4L1639.3 1722.8L1640.2 1721.5L1641.1 1719.2L1642 1730.2L1642.9 1731L1643.8 1723.3L1644.7 1724L1645.6 1728.1L1646.5 1726.7L1647.4 1726L1648.3 1720.6L1649.2 1724.5L1650.1 1727.2L1651 1729L1651.9 1731.1L1652.8 1722.3L1653.7 1728.1L1654.6 1725L1655.5 1728.9L1656.4 1721.5L1657.3 1716.3L1658.2 1722L1659.1 1723.7L1660 1728.4L1660.9 1725.6L1661.8 1719.9L1662.7 1720.7L1663.6 1721.9L1664.5 1717.8L1665.4 1723.8L1666.3 1716.7L1667.2 1715L1668.1 1727.8L1669 1718.4L1669.9 1723.8L1670.8 1713.7L1671.7 1730.5L1672.6 1725.7L1673.5 1720.9L1674.4 1714.6L1675.3 1727.3L1676.2 1728.6L1677.1 1715.5L1678 1724.3L1678.9 1731L1679.8 1722.2L1680.7 1717.6L1681.6 1717.6L1682.5 1717.7L1683.4 1713.4L1684.3 1718.1L1685.2 1717.3L1686.1 1712.1L1687 1714.9L1687.9 1726.8L1688.8 1729.7L1689.7 1716.7L1690.6 1720.3L1691.5 1721.3L1692.4 1713.9L1693.3 1727.5L1694.2 1721.6L1695.1 1727.7L1696 1718.5L1696.9 1719.2L1697.8 1726.5L1698.7 1714.8L1699.6 1725.3L1700.5 1729.3L1701.4 1724.4L1702.3 1714.6L1703.2 1714.5L1704.1 1722.3L1705 1715.5L1705.9 1725.9L1706.8 1725.6L1707.7 1726.3L1708.6 1715.4L1709.5 1718.5L1710.4 1715.3L1711.3 1718.4L1712.2 1724.4L1713.1 1716.4L1714 1715.1L1714.9 1727.1L1715.8 1721.4L1716.7 1719.9L1717.6 1715.1L1718.5 1710.3L1719.4 1725.1L1720.3 1729.6L1721.2 1728.8L1722.1 1727.8L1723 1711.5L1723.9 1726.5L1724.8 1724.8L1725.7 1721.2L1726.6 1720L1727.5 1714.9L1728.4 1716.4L1729.3 1727.2L1730.2 1724.1L1731.1 1717.1L1732 1723.5L1732.9 1714.5L1733.8 1720.5L1734.7 1724.2L1735.6 1728L1736.5 1730L1737.4 1718.1L1738.3 1721.9L1739.2 1719.6L1740.1 1720.4L1741 1710.8L1741.9 1723.1L1742.8 1719.8L1743.7 1714.8L1744.6 1720.5L1745.5 1712.5L1746.4 1725.3L1747.3 1722.1L1748.2 1720.4L1749.1 1721.9L1750 1722.5L1750.9 1728.6L1751.8 1716.8L1752.7 1722L1753.6 1715L1754.5 1727.7L1755.4 1729L1756.3 1717.8L1757.2 1731.2L1758.1 1726.5L1759 1720.9L1759.9 1726.8L1760.8 1727.8L1761.7 1728.9L1762.6 1721.3L1763.5 1723.1L1764.4 1718.4L1765.3 1732.6L1766.2 1731.3L1767.1 1727.4L1768 1732.6L1768.9 1729.6L1769.8 1735.6L1770.7 1735.7L1771.6 1737.1L1772 1737.4Z" fill="#111"/>
<path d="M1210.4 1737.4V1653.2M1380.8 1737.4V1708.4M1241.5 1737.4V1700.9M1559 1737.4V1593.7M1807.2 1737.4V1666.1M1889.9 1737.4V1687M1978.1 1737.4V1696.7M1984.5 1737.4V1691.1M2031.3 1737.4V1671.6M1837.5 1737.4V1685.6" stroke="#111" stroke-width="2.2" fill="none"/>
<text x="1159.2" y="1525.7" font-size="20.5" fill="#b8293c">αy</text>
<text x="1181.9" y="1533.3" font-size="11.3" fill="#b8293c">2</text>
<text x="1184.2" y="1516.3" font-size="12.5" fill="#b8293c">+</text>
<text x="1155.1" y="1553.8" font-size="16.3">219.10</text>
<line x1="1162.5" y1="1558.4" x2="1163.7" y2="1591.7" stroke="#c5222f" stroke-width="4.3"/>
<text x="1222.7" y="1506.4" font-size="20.5" fill="#b8293c">βy</text>
<text x="1245.3" y="1514" font-size="11.3" fill="#b8293c">2</text>
<text x="1247.6" y="1497" font-size="12.5" fill="#b8293c">+</text>
<text x="1210.3" y="1531.9" font-size="16.3">293.14</text>
<line x1="1223.2" y1="1541.1" x2="1223.9" y2="1556.6" stroke="#c5222f" stroke-width="4.3"/>
<text x="1228.2" y="1572.9" font-size="20.5" fill="#2b7dbd">αb</text>
<text x="1251.7" y="1577.9" font-size="11.8" fill="#2b7dbd">3</text>
<text x="1249.2" y="1561.4" font-size="11.5" fill="#2b7dbd">+</text>
<text x="1221.6" y="1594.7" font-size="16.3">315.17</text>
<line x1="1245" y1="1599.3" x2="1242.8" y2="1690.9" stroke="#1b75bb" stroke-width="4.3"/>
<text x="1282.2" y="1512.7" font-size="20.5" fill="#b8293c">βy</text>
<text x="1304.8" y="1520.3" font-size="11.3" font-weight="bold" fill="#b8293c">5</text>
<text x="1306.4" y="1501.5" font-size="12.2" fill="#b8293c">2+</text>
<text x="1274.3" y="1535.7" font-size="16.3">352.66</text>
<line x1="1287.2" y1="1547.8" x2="1272.9" y2="1692.1" stroke="#c5222f" stroke-width="4.3"/>
<text x="1326.6" y="1549.1" font-size="20.5" fill="#b8293c">βy</text>
<text x="1349.2" y="1556.7" font-size="11.3" fill="#b8293c">3</text>
<text x="1351.5" y="1539.7" font-size="12.5" fill="#b8293c">+</text>
<text x="1316.5" y="1575.8" font-size="16.3">430.19</text>
<text x="1291.7" y="1612.3" font-size="20.5" fill="#b8293c">βy</text>
<text x="1314.3" y="1619.9" font-size="11.3" fill="#b8293c">6</text>
<text x="1315.9" y="1601.1" font-size="12.2" fill="#b8293c">2+</text>
<text x="1283.6" y="1639.8" font-size="16.3">421.19</text>
<line x1="1317.3" y1="1642.7" x2="1329.3" y2="1673.8" stroke="#c5222f" stroke-width="4.3"/>
<text x="1347.4" y="1605" font-size="20.5" fill="#b8293c">αy</text>
<text x="1370.1" y="1612.6" font-size="11.3" fill="#b8293c">5</text>
<text x="1372.4" y="1595.6" font-size="12.5" fill="#b8293c">+</text>
<text x="1339.6" y="1629" font-size="16.3">460.24</text>
<line x1="1362" y1="1636.4" x2="1363" y2="1690.9" stroke="#c5222f" stroke-width="4.3"/>
<text x="1388.3" y="1654.5" font-size="20.5" fill="#b8293c">βy</text>
<text x="1410.9" y="1662.1" font-size="11.3" fill="#b8293c">7</text>
<text x="1412.5" y="1643.3" font-size="12.2" fill="#b8293c">2+</text>
<text x="1378.5" y="1674.2" font-size="16.3">485.24</text>
<line x1="1396.3" y1="1682.8" x2="1381.3" y2="1706.4" stroke="#c5222f" stroke-width="4.3"/>
<text x="1434.5" y="1514" font-size="20.5" fill="#b8293c">βy</text>
<text x="1457.1" y="1521.6" font-size="11.3" fill="#b8293c">4</text>
<text x="1459.4" y="1504.6" font-size="12.5" fill="#b8293c">+</text>
<text x="1426.9" y="1541.2" font-size="16.3">567.25</text>
<line x1="1449" y1="1547.8" x2="1449.5" y2="1576.7" stroke="#c5222f" stroke-width="4.3"/>
<text x="1461.1" y="1591" font-size="20.5" fill="#b8293c">αy</text>
<text x="1483.8" y="1598.6" font-size="11.3" fill="#b8293c">6</text>
<text x="1486.1" y="1581.6" font-size="12.5" fill="#b8293c">+</text>
<text x="1451.2" y="1614" font-size="16.3">588.34</text>
<line x1="1467.4" y1="1618.6" x2="1463.6" y2="1646.2" stroke="#c5222f" stroke-width="4.3"/>
<text x="1503.7" y="1549.1" font-size="20.5" fill="#b8293c">βy</text>
<text x="1526.4" y="1556.7" font-size="11.3" fill="#b8293c">9</text>
<text x="1528" y="1537.9" font-size="12.2" fill="#b8293c">2+</text>
<text x="1498.9" y="1572.6" font-size="16.3">599.81</text>
<line x1="1515" y1="1583.5" x2="1476.1" y2="1683.3" stroke="#c5222f" stroke-width="4.3"/>
<text x="1545.4" y="1475.3" font-size="20.5" fill="#b8293c">αy</text>
<text x="1568.1" y="1482.9" font-size="11.3" fill="#b8293c">7</text>
<text x="1570.4" y="1465.9" font-size="12.5" fill="#b8293c">+</text>
<text x="1538.7" y="1502.2" font-size="16.3">702.38</text>
<line x1="1557.1" y1="1511" x2="1557.9" y2="1526.8" stroke="#c5222f" stroke-width="4.3"/>
<text x="1620.3" y="1528.2" font-size="20.5" fill="#b8293c">αy</text>
<text x="1643" y="1535.8" font-size="11.3" fill="#b8293c">8</text>
<text x="1645.3" y="1518.8" font-size="12.5" fill="#b8293c">+</text>
<text x="1613.9" y="1550.1" font-size="16.3">801.45</text>
<line x1="1638.7" y1="1554.7" x2="1640.1" y2="1570.6" stroke="#c5222f" stroke-width="4.3"/>
<text x="1662.4" y="1471.1" font-size="20.5" fill="#b8293c">βy</text>
<text x="1685" y="1478.7" font-size="11.3" fill="#b8293c">6</text>
<text x="1687.3" y="1461.7" font-size="12.5" fill="#b8293c">+</text>
<text x="1651.5" y="1493.3" font-size="16.3">841.37</text>
<line x1="1672.7" y1="1504.6" x2="1673.5" y2="1594.2" stroke="#c5222f" stroke-width="4.3"/>
<text x="1686.6" y="1555.2" font-size="20.5" fill="#2b7dbd">αb</text>
<text x="1710" y="1560.2" font-size="11.8" fill="#2b7dbd">4</text>
<text x="1709.3" y="1543.8" font-size="12.2" fill="#2b7dbd">2+</text>
<text x="1681.3" y="1577.4" font-size="16.3">896.44</text>
<line x1="1701.1" y1="1584.8" x2="1695.8" y2="1649.4" stroke="#1b75bb" stroke-width="4.3"/>
<text x="1724.2" y="1500.4" font-size="20.5" fill="#b8293c">αy</text>
<text x="1746.9" y="1508" font-size="11.3" fill="#b8293c">9</text>
<text x="1749.2" y="1491" font-size="12.5" fill="#b8293c">+</text>
<text x="1720.5" y="1524.4" font-size="16.3">948.47</text>
<line x1="1742.3" y1="1527.7" x2="1759" y2="1660.5" stroke="#c5222f" stroke-width="4.3"/>
<text x="1762.6" y="1602" font-size="20.5" fill="#2b7dbd">αb</text>
<text x="1786.1" y="1607" font-size="11.8" fill="#2b7dbd">6</text>
<text x="1785.4" y="1590.6" font-size="12.2" fill="#2b7dbd">2+</text>
<text x="1755.1" y="1623.3" font-size="16.3">955.47</text>
<line x1="1771.5" y1="1637.7" x2="1766.5" y2="1654.1" stroke="#1b75bb" stroke-width="4.3"/>
<text x="1795.7" y="1540.8" font-size="20.5" fill="#b8293c">αy</text>
<text x="1818.4" y="1548.4" font-size="11.3" fill="#b8293c">10</text>
<text x="1820.7" y="1531.4" font-size="12.5" fill="#b8293c">+</text>
<text x="1781" y="1565.7" font-size="16.3">1005.50</text>
<line x1="1809.1" y1="1569.2" x2="1807.2" y2="1585.3" stroke="#c5222f" stroke-width="4.3"/>
<text x="1809.7" y="1643.8" font-size="20.5" fill="#2b7dbd">αb</text>
<text x="1833.1" y="1648.8" font-size="11.8" fill="#2b7dbd">8</text>
<text x="1832.4" y="1632.4" font-size="12.2" fill="#2b7dbd">2+</text>
<text x="1806.9" y="1671.5" font-size="16.3">1034.51</text>
<line x1="1825.3" y1="1677.8" x2="1830.5" y2="1705.1" stroke="#1b75bb" stroke-width="4.3"/>
<text x="1874" y="1575" font-size="20.5" fill="#b8293c">αy</text>
<text x="1896.7" y="1582.6" font-size="11.3" fill="#b8293c">11</text>
<text x="1899" y="1565.6" font-size="12.5" fill="#b8293c">+</text>
<text x="1861.2" y="1602.4" font-size="16.3">1106.55</text>
<line x1="1889.3" y1="1605.6" x2="1890.4" y2="1621.5" stroke="#c5222f" stroke-width="4.3"/>
<text x="1910.2" y="1661.1" font-size="20.5" fill="#2b7dbd">αb</text>
<text x="1933.6" y="1666.1" font-size="11.8" fill="#2b7dbd">10</text>
<text x="1932.9" y="1649.7" font-size="12.2" fill="#2b7dbd">2+</text>
<text x="1900.7" y="1684" font-size="16.3">1157.56</text>
<line x1="1931.1" y1="1688.3" x2="1931.6" y2="1709.8" stroke="#1b75bb" stroke-width="4.3"/>
<text x="1942.2" y="1558.9" font-size="20.5" fill="#b8293c">βy</text>
<text x="1964.9" y="1566.5" font-size="11.3" fill="#b8293c">9</text>
<text x="1967.2" y="1549.5" font-size="12.5" fill="#b8293c">+</text>
<text x="1931.3" y="1582.1" font-size="16.3">1196.60</text>
<line x1="1960" y1="1588.9" x2="1964.5" y2="1707.8" stroke="#c5222f" stroke-width="4.3"/>
<text x="1971.2" y="1632.7" font-size="20.5" fill="#b8293c">αy</text>
<text x="1993.9" y="1640.3" font-size="11.3" fill="#b8293c">12</text>
<text x="1996.2" y="1623.3" font-size="12.5" fill="#b8293c">+</text>
<text x="1962.8" y="1659.5" font-size="16.3">1221.58</text>
<line x1="1981.8" y1="1663.3" x2="1983.2" y2="1709.2" stroke="#c5222f" stroke-width="4.3"/>
<text x="2014.6" y="1599.2" font-size="20.5" fill="#b8293c">αy</text>
<text x="2037.3" y="1606.8" font-size="11.3" fill="#b8293c">13</text>
<text x="2039.6" y="1589.8" font-size="12.5" fill="#b8293c">+</text>
<text x="2010.7" y="1626.1" font-size="16.3">1278.6</text>
<line x1="2030.5" y1="1635.4" x2="2031.6" y2="1651.6" stroke="#c5222f" stroke-width="4.3"/>
<text x="1260.8" y="1422" font-size="20.5" fill="#b8293c">αy</text>
<text x="1283.5" y="1429.6" font-size="11.3" fill="#b8293c">4</text>
<text x="1285.8" y="1412.6" font-size="12.5" fill="#b8293c">+</text>
<text x="1253.3" y="1442.1" font-size="13.5" font-weight="bold">347.16</text>
<line x1="1272.9" y1="1445.8" x2="1267.9" y2="1666.3" stroke="#c5222f" stroke-width="4.3"/>
<text x="1575.2" y="1282.7" font-size="24.5" font-weight="bold">TVN</text>
<text x="1632.3" y="1282.7" font-size="24.5" font-weight="bold">K</text>
<text x="1657.3" y="1282.7" font-size="24.5" font-weight="bold">G</text>
<text x="1683.8" y="1282.7" font-size="24.5" font-weight="bold">D</text>
<text x="1707.5" y="1282.7" font-size="24.5" font-weight="bold">T</text>
<text x="1731.1" y="1282.7" font-size="24.5" font-weight="bold">G</text>
<text x="1756.8" y="1282.7" font-size="24.5" font-weight="bold">M</text>
<text x="1784.6" y="1282.7" font-size="24.5" font-weight="bold">V</text>
<text x="1809.1" y="1282.7" font-size="24.5" font-weight="bold">N</text>
<text x="1834.2" y="1282.7" font-size="24.5" font-weight="bold">K</text>
<text x="1859.2" y="1282.7" font-size="24.5" font-weight="bold">L</text>
<text x="1879.3" y="1282.7" font-size="24.5" font-weight="bold">AG</text>
<text x="1922.7" y="1282.7" font-size="24.5" font-weight="bold">AE</text>
<path d="M1615.6 1254.8H1627.3V1291" stroke="#7e7e7e" stroke-width="1.8" fill="none"/>
<path d="M1639.2 1254.8H1651.2V1290H1662.4" stroke="#7e7e7e" stroke-width="1.8" fill="none"/>
<path d="M1692.1 1254.8H1703.3V1290H1714.5" stroke="#7e7e7e" stroke-width="1.8" fill="none"/>
<path d="M1739.5 1254.8H1750.6V1290H1761.8" stroke="#7e7e7e" stroke-width="1.8" fill="none"/>
<path d="M1793.8 1254.8H1804.9V1290H1816.1" stroke="#7e7e7e" stroke-width="1.8" fill="none"/>
<path d="M1679.6 1254.8V1290H1690.8" stroke="#7e7e7e" stroke-width="1.8" fill="none"/>
<path d="M1727.5 1254.8V1290H1738.7" stroke="#7e7e7e" stroke-width="1.8" fill="none"/>
<path d="M1781.8 1254.8V1290H1793" stroke="#7e7e7e" stroke-width="1.8" fill="none"/>
<path d="M1830 1254.8V1290H1841.2" stroke="#7e7e7e" stroke-width="1.8" fill="none"/>
<path d="M1852.8 1254.8V1290H1864" stroke="#7e7e7e" stroke-width="1.8" fill="none"/>
<path d="M1876.5 1254.8V1290H1887.7" stroke="#7e7e7e" stroke-width="1.8" fill="none"/>
<path d="M1917.2 1254.8V1290H1928.4" stroke="#7e7e7e" stroke-width="1.8" fill="none"/>
<text x="1614.7" y="1247.8" font-size="19.5" fill="#2b7dbd">b</text>
<text x="1624.7" y="1251.4" font-size="11.3" fill="#2b7dbd" letter-spacing="-0.6">3</text>
<text x="1639.2" y="1247.8" font-size="19.5" fill="#2b7dbd">b</text>
<text x="1649.2" y="1251.4" font-size="11.3" fill="#2b7dbd" letter-spacing="-0.6">4</text>
<text x="1688" y="1247.8" font-size="19.5" fill="#2b7dbd">b</text>
<text x="1698" y="1251.4" font-size="11.3" fill="#2b7dbd" letter-spacing="-0.6">6</text>
<text x="1733.4" y="1247.8" font-size="19.5" fill="#2b7dbd">b</text>
<text x="1743.4" y="1251.4" font-size="11.3" fill="#2b7dbd" letter-spacing="-0.6">8</text>
<text x="1782.7" y="1247.8" font-size="19.5" fill="#2b7dbd">b</text>
<text x="1792.7" y="1251.4" font-size="11.3" fill="#2b7dbd" letter-spacing="-0.6">10</text>
<text x="1651.8" y="1304.9" font-size="19.5" fill="#b8293c">y</text>
<text x="1660.8" y="1308.5" font-size="11.3" fill="#b8293c" letter-spacing="-0.6">13</text>
<text x="1679.6" y="1304.9" font-size="19.5" fill="#b8293c">y</text>
<text x="1688.5" y="1308.5" font-size="11.3" fill="#b8293c" letter-spacing="-0.6">12</text>
<text x="1702.7" y="1304.9" font-size="19.5" fill="#b8293c">y</text>
<text x="1711.7" y="1308.5" font-size="11.3" fill="#b8293c" letter-spacing="-0.6">11</text>
<text x="1726.1" y="1304.9" font-size="19.5" fill="#b8293c">y</text>
<text x="1735" y="1308.5" font-size="11.3" fill="#b8293c" letter-spacing="-0.6">10</text>
<text x="1752" y="1304.9" font-size="19.5" fill="#b8293c">y</text>
<text x="1761" y="1308.5" font-size="11.3" fill="#b8293c" letter-spacing="-0.6">9</text>
<text x="1783.5" y="1304.9" font-size="19.5" fill="#b8293c">y</text>
<text x="1792.5" y="1308.5" font-size="11.3" fill="#b8293c" letter-spacing="-0.6">8</text>
<text x="1806.3" y="1304.9" font-size="19.5" fill="#b8293c">y</text>
<text x="1815.2" y="1308.5" font-size="11.3" fill="#b8293c" letter-spacing="-0.6">7</text>
<text x="1831.4" y="1304.9" font-size="19.5" fill="#b8293c">y</text>
<text x="1840.4" y="1308.5" font-size="11.3" fill="#b8293c" letter-spacing="-0.6">6</text>
<text x="1852.8" y="1304.9" font-size="19.5" fill="#b8293c">y</text>
<text x="1861.8" y="1308.5" font-size="11.3" fill="#b8293c" letter-spacing="-0.6">5</text>
<text x="1877.3" y="1304.9" font-size="19.5" fill="#b8293c">y</text>
<text x="1886.2" y="1308.5" font-size="11.3" fill="#b8293c" letter-spacing="-0.6">4</text>
<text x="1917.2" y="1304.9" font-size="19.5" fill="#b8293c">y</text>
<text x="1926.2" y="1308.5" font-size="11.3" fill="#b8293c" letter-spacing="-0.6">2</text>
<line x1="1637.8" y1="1289.6" x2="1637.8" y2="1315.5" stroke="#dfca6d" stroke-width="4.8"/>
<text x="1627.3" y="1344.5" font-size="24.5" font-weight="bold">N</text>
<text x="1654" y="1344.5" font-size="24.5" font-weight="bold">TK</text>
<text x="1693.5" y="1344.5" font-size="24.5" font-weight="bold">K</text>
<text x="1718.6" y="1344.5" font-size="24.5" font-weight="bold">H</text>
<text x="1743.7" y="1344.5" font-size="24.5" font-weight="bold">H</text>
<text x="1768.2" y="1344.5" font-size="24.5" font-weight="bold">H</text>
<text x="1793.2" y="1344.5" font-size="24.5" font-weight="bold">H</text>
<text x="1818.3" y="1344.5" font-size="24.5" font-weight="bold">HH</text>
<path d="M1648.4 1316.1V1353.7H1659.6" stroke="#7e7e7e" stroke-width="1.8" fill="none"/>
<path d="M1689.4 1316.1V1353.7H1700.6" stroke="#7e7e7e" stroke-width="1.8" fill="none"/>
<path d="M1713 1316.1V1353.7H1724.2" stroke="#7e7e7e" stroke-width="1.8" fill="none"/>
<path d="M1737.5 1316.1V1353.7H1748.7" stroke="#7e7e7e" stroke-width="1.8" fill="none"/>
<path d="M1761.8 1316.1V1353.7H1773" stroke="#7e7e7e" stroke-width="1.8" fill="none"/>
<path d="M1789.6 1316.1V1353.7H1800.8" stroke="#7e7e7e" stroke-width="1.8" fill="none"/>
<path d="M1814.7 1316.1V1353.7H1825.9" stroke="#7e7e7e" stroke-width="1.8" fill="none"/>
<text x="1649" y="1366.2" font-size="19.5" fill="#b8293c">y</text>
<text x="1658" y="1369.8" font-size="11.3" fill="#b8293c" letter-spacing="-0.6">9</text>
<text x="1691.3" y="1366.2" font-size="19.5" fill="#b8293c">y</text>
<text x="1700.2" y="1369.8" font-size="11.3" fill="#b8293c" letter-spacing="-0.6">7</text>
<text x="1714.4" y="1366.2" font-size="19.5" fill="#b8293c">y</text>
<text x="1723.4" y="1369.8" font-size="11.3" fill="#b8293c" letter-spacing="-0.6">6</text>
<text x="1738.9" y="1366.2" font-size="19.5" fill="#b8293c">y</text>
<text x="1747.9" y="1369.8" font-size="11.3" fill="#b8293c" letter-spacing="-0.6">5</text>
<text x="1762.3" y="1366.2" font-size="19.5" fill="#b8293c">y</text>
<text x="1771.2" y="1369.8" font-size="11.3" fill="#b8293c" letter-spacing="-0.6">4</text>
<text x="1791.8" y="1366.2" font-size="19.5" fill="#b8293c">y</text>
<text x="1800.8" y="1369.8" font-size="11.3" fill="#b8293c" letter-spacing="-0.6">3</text>
<text x="1816.1" y="1366.2" font-size="19.5" fill="#b8293c">y</text>
<text x="1825" y="1369.8" font-size="11.3" fill="#b8293c" letter-spacing="-0.6">2</text>
<text x="2021.6" y="1282.7" font-size="22.7" font-weight="bold">(α)</text>
<text x="2021.6" y="1344.5" font-size="22.7" font-weight="bold">(β)</text>
<rect x="1854.2" y="1404.3" width="155.4" height="64.1" fill="#ccddd3" stroke="#444" stroke-width="1.2"/>
<line x1="1865.4" y1="1404.3" x2="1865.4" y2="1414.8" stroke="#111" stroke-width="1.4"/>
<line x1="1865.4" y1="1456.9" x2="1865.4" y2="1468.4" stroke="#111" stroke-width="1.4"/>
<line x1="1949.2" y1="1404.3" x2="1949.2" y2="1414.8" stroke="#111" stroke-width="1.4"/>
<line x1="1949.2" y1="1456.9" x2="1949.2" y2="1468.4" stroke="#111" stroke-width="1.4"/>
<line x1="1986.8" y1="1404.3" x2="1986.8" y2="1414.8" stroke="#111" stroke-width="1.4"/>
<line x1="1986.8" y1="1456.9" x2="1986.8" y2="1468.4" stroke="#111" stroke-width="1.4"/>
<text x="1858.2" y="1444.3" font-size="30" font-weight="bold">K</text>
<text x="1941.5" y="1444.3" font-size="19.5" font-weight="bold" fill="#c5222f">E</text>
<text x="1977.3" y="1444.3" font-size="30" font-weight="bold">N</text>
<text x="1847.3" y="1487.5" font-size="19.6" font-weight="bold">355</text>
<text x="1933.6" y="1487.5" font-size="19.6" font-weight="bold">435</text>
<text x="1970.6" y="1487.5" font-size="19.6" font-weight="bold">466</text>
<path d="M1863.9 1402.8C1881.3 1361.9 1970.9 1361.9 1988.3 1402.8" stroke="#dfca6d" stroke-width="5" fill="none"/>
</svg>
</body></html>
